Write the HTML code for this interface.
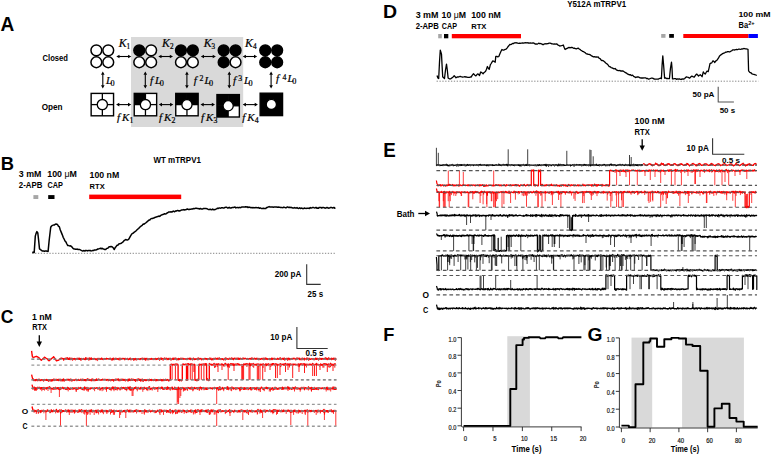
<!DOCTYPE html>
<html><head><meta charset="utf-8"><style>
html,body{margin:0;padding:0;background:#fff;width:771px;height:455px;overflow:hidden}
svg{display:block}
</style></head><body>
<svg width="771" height="455" viewBox="0 0 771 455">
<rect width="771" height="455" fill="#fff"/>
<rect x="131.00" y="37.00" width="112.20" height="90.00" fill="#d9d9d9"/>
<text x="0.52" y="31.40" font-family="Liberation Sans" font-size="19.57" font-weight="bold" fill="#000" textLength="13.80" lengthAdjust="spacingAndGlyphs">A</text>
<text x="42.60" y="60.70" font-family="Liberation Sans" font-size="8.97" font-weight="bold" fill="#000" textLength="25.39" lengthAdjust="spacingAndGlyphs">Closed</text>
<text x="41.67" y="109.80" font-family="Liberation Sans" font-size="8.86" font-weight="bold" fill="#000" textLength="20.92" lengthAdjust="spacingAndGlyphs">Open</text>
<circle cx="96.35" cy="50.35" r="5.4" fill="#fff" stroke="#000" stroke-width="1.5"/>
<circle cx="108.25" cy="50.35" r="5.4" fill="#fff" stroke="#000" stroke-width="1.5"/>
<circle cx="96.35" cy="62.25" r="5.4" fill="#fff" stroke="#000" stroke-width="1.5"/>
<circle cx="108.25" cy="62.25" r="5.4" fill="#fff" stroke="#000" stroke-width="1.5"/>
<circle cx="139.25" cy="50.35" r="5.4" fill="#000" stroke="#000" stroke-width="1.5"/>
<circle cx="151.15" cy="50.35" r="5.4" fill="#fff" stroke="#000" stroke-width="1.5"/>
<circle cx="139.25" cy="62.25" r="5.4" fill="#fff" stroke="#000" stroke-width="1.5"/>
<circle cx="151.15" cy="62.25" r="5.4" fill="#fff" stroke="#000" stroke-width="1.5"/>
<circle cx="180.95" cy="50.35" r="5.4" fill="#000" stroke="#000" stroke-width="1.5"/>
<circle cx="192.85" cy="50.35" r="5.4" fill="#000" stroke="#000" stroke-width="1.5"/>
<circle cx="180.95" cy="62.25" r="5.4" fill="#fff" stroke="#000" stroke-width="1.5"/>
<circle cx="192.85" cy="62.25" r="5.4" fill="#fff" stroke="#000" stroke-width="1.5"/>
<circle cx="223.65" cy="50.35" r="5.4" fill="#000" stroke="#000" stroke-width="1.5"/>
<circle cx="235.55" cy="50.35" r="5.4" fill="#000" stroke="#000" stroke-width="1.5"/>
<circle cx="223.65" cy="62.25" r="5.4" fill="#000" stroke="#000" stroke-width="1.5"/>
<circle cx="235.55" cy="62.25" r="5.4" fill="#fff" stroke="#000" stroke-width="1.5"/>
<circle cx="265.25" cy="50.35" r="5.4" fill="#000" stroke="#000" stroke-width="1.5"/>
<circle cx="277.15" cy="50.35" r="5.4" fill="#000" stroke="#000" stroke-width="1.5"/>
<circle cx="265.25" cy="62.25" r="5.4" fill="#000" stroke="#000" stroke-width="1.5"/>
<circle cx="277.15" cy="62.25" r="5.4" fill="#000" stroke="#000" stroke-width="1.5"/>
<line x1="118.86" y1="56.50" x2="128.74" y2="56.50" stroke="#000" stroke-width="1.1" />
<path d="M116.30,56.50 L119.50,54.70 L119.50,58.30Z M131.30,56.50 L128.10,54.70 L128.10,58.30Z" fill="#000"/>
<line x1="160.86" y1="56.50" x2="170.44" y2="56.50" stroke="#000" stroke-width="1.1" />
<path d="M158.30,56.50 L161.50,54.70 L161.50,58.30Z M173.00,56.50 L169.80,54.70 L169.80,58.30Z" fill="#000"/>
<line x1="203.36" y1="56.50" x2="213.34" y2="56.50" stroke="#000" stroke-width="1.1" />
<path d="M200.80,56.50 L204.00,54.70 L204.00,58.30Z M215.90,56.50 L212.70,54.70 L212.70,58.30Z" fill="#000"/>
<line x1="245.26" y1="56.50" x2="254.64" y2="56.50" stroke="#000" stroke-width="1.1" />
<path d="M242.70,56.50 L245.90,54.70 L245.90,58.30Z M257.20,56.50 L254.00,54.70 L254.00,58.30Z" fill="#000"/>
<text x="118.70" y="46.50" font-family="Liberation Serif" font-size="11.8" font-style="italic" fill="#000" stroke="#000" stroke-width="0.22">K</text>
<text x="126.60" y="48.80" font-family="Liberation Serif" font-size="7.2" font-style="normal" fill="#000" stroke="#000" stroke-width="0.22">1</text>
<text x="162.10" y="46.50" font-family="Liberation Serif" font-size="11.8" font-style="italic" fill="#000" stroke="#000" stroke-width="0.22">K</text>
<text x="170.00" y="48.80" font-family="Liberation Serif" font-size="7.2" font-style="normal" fill="#000" stroke="#000" stroke-width="0.22">2</text>
<text x="203.70" y="46.50" font-family="Liberation Serif" font-size="11.8" font-style="italic" fill="#000" stroke="#000" stroke-width="0.22">K</text>
<text x="211.60" y="48.80" font-family="Liberation Serif" font-size="7.2" font-style="normal" fill="#000" stroke="#000" stroke-width="0.22">3</text>
<text x="245.00" y="46.50" font-family="Liberation Serif" font-size="11.8" font-style="italic" fill="#000" stroke="#000" stroke-width="0.22">K</text>
<text x="252.90" y="48.80" font-family="Liberation Serif" font-size="7.2" font-style="normal" fill="#000" stroke="#000" stroke-width="0.22">4</text>
<line x1="102.80" y1="74.16" x2="102.80" y2="85.84" stroke="#000" stroke-width="1.1" />
<path d="M102.80,71.60 L101.00,74.80 L104.60,74.80Z M102.80,88.40 L101.00,85.20 L104.60,85.20Z" fill="#000"/>
<line x1="145.30" y1="74.16" x2="145.30" y2="85.84" stroke="#000" stroke-width="1.1" />
<path d="M145.30,71.60 L143.50,74.80 L147.10,74.80Z M145.30,88.40 L143.50,85.20 L147.10,85.20Z" fill="#000"/>
<line x1="186.90" y1="74.16" x2="186.90" y2="85.84" stroke="#000" stroke-width="1.1" />
<path d="M186.90,71.60 L185.10,74.80 L188.70,74.80Z M186.90,88.40 L185.10,85.20 L188.70,85.20Z" fill="#000"/>
<line x1="229.30" y1="74.16" x2="229.30" y2="85.84" stroke="#000" stroke-width="1.1" />
<path d="M229.30,71.60 L227.50,74.80 L231.10,74.80Z M229.30,88.40 L227.50,85.20 L231.10,85.20Z" fill="#000"/>
<line x1="271.10" y1="74.16" x2="271.10" y2="85.84" stroke="#000" stroke-width="1.1" />
<path d="M271.10,71.60 L269.30,74.80 L272.90,74.80Z M271.10,88.40 L269.30,85.20 L272.90,85.20Z" fill="#000"/>
<text x="105.90" y="83.60" font-family="Liberation Serif" font-size="11" font-style="italic" fill="#000" stroke="#000" stroke-width="0.22">L</text>
<text x="110.60" y="85.50" font-family="Liberation Serif" font-size="8.2" font-style="normal" fill="#000" stroke="#000" stroke-width="0.22">0</text>
<text x="150.10" y="83.60" font-family="Liberation Serif" font-size="11" font-style="italic" fill="#000" stroke="#000" stroke-width="0.22">f</text>
<text x="155.10" y="83.60" font-family="Liberation Serif" font-size="11" font-style="italic" fill="#000" stroke="#000" stroke-width="0.22">L</text>
<text x="159.80" y="85.50" font-family="Liberation Serif" font-size="8.2" font-style="normal" fill="#000" stroke="#000" stroke-width="0.22">0</text>
<text x="193.80" y="83.60" font-family="Liberation Serif" font-size="11" font-style="italic" fill="#000" stroke="#000" stroke-width="0.22">f</text>
<text x="199.50" y="81.10" font-family="Liberation Serif" font-size="7.8" font-style="normal" fill="#000" stroke="#000" stroke-width="0.22">2</text>
<text x="204.50" y="83.60" font-family="Liberation Serif" font-size="11" font-style="italic" fill="#000" stroke="#000" stroke-width="0.22">L</text>
<text x="209.10" y="85.50" font-family="Liberation Serif" font-size="8.2" font-style="normal" fill="#000" stroke="#000" stroke-width="0.22">0</text>
<text x="232.90" y="83.60" font-family="Liberation Serif" font-size="11" font-style="italic" fill="#000" stroke="#000" stroke-width="0.22">f</text>
<text x="238.20" y="81.10" font-family="Liberation Serif" font-size="7.8" font-style="normal" fill="#000" stroke="#000" stroke-width="0.22">3</text>
<text x="244.00" y="83.60" font-family="Liberation Serif" font-size="11" font-style="italic" fill="#000" stroke="#000" stroke-width="0.22">L</text>
<text x="248.60" y="85.50" font-family="Liberation Serif" font-size="8.2" font-style="normal" fill="#000" stroke="#000" stroke-width="0.22">0</text>
<text x="275.90" y="82.30" font-family="Liberation Serif" font-size="11" font-style="italic" fill="#000" stroke="#000" stroke-width="0.22">f</text>
<text x="282.60" y="79.60" font-family="Liberation Serif" font-size="7.8" font-style="normal" fill="#000" stroke="#000" stroke-width="0.22">4</text>
<text x="287.50" y="82.30" font-family="Liberation Serif" font-size="11" font-style="italic" fill="#000" stroke="#000" stroke-width="0.22">L</text>
<text x="292.20" y="84.20" font-family="Liberation Serif" font-size="8.2" font-style="normal" fill="#000" stroke="#000" stroke-width="0.22">0</text>
<rect x="91.15" y="93.40" width="22.40" height="22.40" fill="#fff" stroke="#000" stroke-width="1.4"/>
<line x1="91.15" y1="104.60" x2="113.55" y2="104.60" stroke="#000" stroke-width="1.3" />
<line x1="102.35" y1="93.40" x2="102.35" y2="115.80" stroke="#000" stroke-width="1.3" />
<circle cx="102.35" cy="104.60" r="5.1" fill="#fff" stroke="#000" stroke-width="1.3"/>
<rect x="134.25" y="93.40" width="22.40" height="22.40" fill="#fff" stroke="#000" stroke-width="1.4"/>
<rect x="134.25" y="93.40" width="11.20" height="11.20" fill="#000"/>
<line x1="134.25" y1="104.60" x2="156.65" y2="104.60" stroke="#000" stroke-width="1.3" />
<line x1="145.45" y1="93.40" x2="145.45" y2="115.80" stroke="#000" stroke-width="1.3" />
<circle cx="145.45" cy="104.60" r="5.1" fill="#fff" stroke="#000" stroke-width="1.3"/>
<rect x="175.75" y="93.40" width="22.40" height="22.40" fill="#fff" stroke="#000" stroke-width="1.4"/>
<rect x="175.75" y="93.40" width="11.20" height="11.20" fill="#000"/>
<rect x="186.95" y="93.40" width="11.20" height="11.20" fill="#000"/>
<line x1="175.75" y1="104.60" x2="198.15" y2="104.60" stroke="#000" stroke-width="1.3" />
<line x1="186.95" y1="93.40" x2="186.95" y2="115.80" stroke="#000" stroke-width="1.3" />
<circle cx="186.95" cy="104.60" r="5.1" fill="#fff" stroke="#000" stroke-width="1.3"/>
<rect x="216.95" y="94.60" width="22.40" height="22.40" fill="#fff" stroke="#000" stroke-width="1.4"/>
<rect x="216.95" y="94.60" width="11.20" height="11.20" fill="#000"/>
<rect x="228.15" y="94.60" width="11.20" height="11.20" fill="#000"/>
<rect x="216.95" y="105.80" width="11.20" height="11.20" fill="#000"/>
<line x1="216.95" y1="105.80" x2="239.35" y2="105.80" stroke="#000" stroke-width="1.3" />
<line x1="228.15" y1="94.60" x2="228.15" y2="117.00" stroke="#000" stroke-width="1.3" />
<circle cx="228.15" cy="105.80" r="5.1" fill="#fff" stroke="#000" stroke-width="1.3"/>
<rect x="260.15" y="93.20" width="22.40" height="22.40" fill="#fff" stroke="#000" stroke-width="1.4"/>
<rect x="260.15" y="93.20" width="22.40" height="22.40" fill="#000"/>
<circle cx="271.35" cy="104.40" r="5.1" fill="#fff" stroke="#000" stroke-width="1.3"/>
<line x1="118.66" y1="104.60" x2="128.64" y2="104.60" stroke="#000" stroke-width="1.1" />
<path d="M116.10,104.60 L119.30,102.80 L119.30,106.40Z M131.20,104.60 L128.00,102.80 L128.00,106.40Z" fill="#000"/>
<line x1="161.36" y1="104.60" x2="170.74" y2="104.60" stroke="#000" stroke-width="1.1" />
<path d="M158.80,104.60 L162.00,102.80 L162.00,106.40Z M173.30,104.60 L170.10,102.80 L170.10,106.40Z" fill="#000"/>
<line x1="203.06" y1="104.60" x2="212.44" y2="104.60" stroke="#000" stroke-width="1.1" />
<path d="M200.50,104.60 L203.70,102.80 L203.70,106.40Z M215.00,104.60 L211.80,102.80 L211.80,106.40Z" fill="#000"/>
<line x1="245.26" y1="104.60" x2="255.34" y2="104.60" stroke="#000" stroke-width="1.1" />
<path d="M242.70,104.60 L245.90,102.80 L245.90,106.40Z M257.90,104.60 L254.70,102.80 L254.70,106.40Z" fill="#000"/>
<text x="116.90" y="120.60" font-family="Liberation Serif" font-size="11" font-style="italic" fill="#000" stroke="#000" stroke-width="0.22">f</text>
<text x="121.90" y="120.60" font-family="Liberation Serif" font-size="11" font-style="italic" fill="#000" stroke="#000" stroke-width="0.22">K</text>
<text x="129.40" y="122.80" font-family="Liberation Serif" font-size="7.8" font-style="normal" fill="#000" stroke="#000" stroke-width="0.22">1</text>
<text x="158.90" y="120.60" font-family="Liberation Serif" font-size="11" font-style="italic" fill="#000" stroke="#000" stroke-width="0.22">f</text>
<text x="163.90" y="120.60" font-family="Liberation Serif" font-size="11" font-style="italic" fill="#000" stroke="#000" stroke-width="0.22">K</text>
<text x="171.40" y="122.80" font-family="Liberation Serif" font-size="7.8" font-style="normal" fill="#000" stroke="#000" stroke-width="0.22">2</text>
<text x="201.10" y="120.60" font-family="Liberation Serif" font-size="11" font-style="italic" fill="#000" stroke="#000" stroke-width="0.22">f</text>
<text x="206.10" y="120.60" font-family="Liberation Serif" font-size="11" font-style="italic" fill="#000" stroke="#000" stroke-width="0.22">K</text>
<text x="213.60" y="122.80" font-family="Liberation Serif" font-size="7.8" font-style="normal" fill="#000" stroke="#000" stroke-width="0.22">3</text>
<text x="242.20" y="120.60" font-family="Liberation Serif" font-size="11" font-style="italic" fill="#000" stroke="#000" stroke-width="0.22">f</text>
<text x="247.20" y="120.60" font-family="Liberation Serif" font-size="11" font-style="italic" fill="#000" stroke="#000" stroke-width="0.22">K</text>
<text x="254.70" y="122.80" font-family="Liberation Serif" font-size="7.8" font-style="normal" fill="#000" stroke="#000" stroke-width="0.22">4</text>
<text x="0.81" y="170.10" font-family="Liberation Sans" font-size="19.13" font-weight="bold" fill="#000" textLength="13.26" lengthAdjust="spacingAndGlyphs">B</text>
<text x="153.50" y="162.70" font-family="Liberation Sans" font-size="9.13" font-weight="bold" fill="#000" textLength="47.40" lengthAdjust="spacingAndGlyphs">WT mTRPV1</text>
<text x="18.88" y="177.30" font-family="Liberation Sans" font-size="8.43" font-weight="bold" fill="#000" textLength="22.61" lengthAdjust="spacingAndGlyphs">3 mM</text>
<text x="18.83" y="188.30" font-family="Liberation Sans" font-size="8.57" font-weight="bold" fill="#000" textLength="23.53" lengthAdjust="spacingAndGlyphs">2-APB</text>
<text x="47.28" y="177.30" font-family="Liberation Sans" font-size="8.43" font-weight="bold" fill="#000" textLength="29.60" lengthAdjust="spacingAndGlyphs">100 <tspan font-weight="normal">μ</tspan>M</text>
<text x="47.51" y="188.30" font-family="Liberation Sans" font-size="8.57" font-weight="bold" fill="#000" textLength="15.42" lengthAdjust="spacingAndGlyphs">CAP</text>
<text x="89.58" y="178.20" font-family="Liberation Sans" font-size="8.57" font-weight="bold" fill="#000" textLength="29.64" lengthAdjust="spacingAndGlyphs">100 nM</text>
<text x="89.61" y="189.00" font-family="Liberation Sans" font-size="7.83" font-weight="bold" fill="#000" textLength="15.07" lengthAdjust="spacingAndGlyphs">RTX</text>
<rect x="33.40" y="195.10" width="4.90" height="3.90" fill="#a6a6a6"/>
<rect x="48.20" y="195.10" width="6.30" height="3.90" fill="#000"/>
<rect x="89.20" y="194.60" width="92.00" height="4.50" fill="#ff0000"/>
<line x1="32.20" y1="253.30" x2="335.50" y2="253.30" stroke="#777" stroke-width="0.9" stroke-dasharray="1.3 1.57"/>
<path d="M32.2,252.5L33.2,252.3L34.2,252.5L35.3,236.1L36.1,233.4L36.9,231.6L37.8,233.0L38.6,240.0L39.5,248.8L40.5,249.6L41.5,250.3L42.5,251.1L43.5,251.0L44.4,251.3L45.3,251.0L46.3,251.0L47.2,251.3L48.1,251.4L49.2,240.0L50.7,227.3L51.6,226.0L52.4,225.4L53.3,225.1L54.2,225.1L55.1,224.4L56.0,224.0L57.5,224.5L58.4,226.2L59.3,226.6L60.3,230.0L61.2,232.1L62.2,234.6L63.2,237.3L64.1,239.0L65.0,241.0L66.0,242.1L66.9,244.0L67.8,245.6L68.7,245.6L69.6,245.9L70.5,245.7L71.3,246.4L72.2,247.3L73.0,248.4L73.8,248.9L74.7,248.9L75.5,249.2L76.4,249.2L77.3,249.1L78.1,249.6L79.0,249.6L79.8,249.5L80.7,250.1L81.5,250.4L82.3,251.0L83.2,250.9L84.0,250.5L84.9,251.1L85.7,250.4L86.6,250.6L87.5,250.9L88.3,250.4L89.2,250.7L90.0,250.3L90.9,250.9L91.8,250.8L92.7,250.5L93.6,250.6L94.4,249.9L95.3,250.1L96.2,249.9L97.0,249.5L97.8,249.0L98.7,248.9L99.5,248.6L100.4,248.3L101.3,248.7L102.2,248.3L103.0,249.0L103.9,249.1L104.8,249.6L105.7,249.6L106.6,248.6L107.4,248.2L108.3,247.9L109.1,246.8L110.0,246.7L111.0,246.6L112.1,246.8L113.2,247.8L114.3,249.5L115.2,247.6L116.2,246.4L117.1,245.2L118.0,245.2L118.8,244.0L119.7,243.8L120.5,243.4L121.4,243.2L122.3,242.5L123.1,241.9L124.0,240.7L124.8,240.2L125.7,239.5L126.7,239.9L127.6,240.0L128.6,239.3L129.5,237.8L130.3,236.4L131.2,234.9L132.1,233.6L133.1,233.2L134.0,232.4L135.0,231.7L135.9,231.0L136.8,230.0L137.7,229.2L138.6,228.5L139.5,227.5L140.5,226.5L141.4,225.8L142.2,225.3L143.1,224.1L143.9,224.3L144.7,223.6L145.6,223.0L146.4,222.4L147.3,221.4L148.1,220.9L149.0,220.1L149.8,220.0L150.7,218.9L151.5,218.6L152.3,218.5L153.1,218.2L153.9,218.1L154.7,217.5L155.5,217.2L156.3,217.1L157.1,216.7L157.9,216.6L158.8,216.0L159.6,216.4L160.4,215.8L161.2,215.1L162.1,214.8L162.9,214.6L163.7,214.2L164.5,213.7L165.3,214.0L166.2,213.8L167.0,213.0L167.8,212.7L168.6,212.0L169.4,211.9L170.2,212.0L171.0,211.8L171.9,212.1L172.7,211.4L173.5,211.1L174.3,211.8L175.1,211.3L175.9,210.8L176.7,211.0L177.6,210.4L178.4,210.7L179.2,211.0L180.0,210.7L180.8,210.5L181.7,209.9L182.5,209.9L183.3,209.6L184.2,210.0L185.0,209.7L185.8,209.8L186.7,209.2L187.5,209.0L188.3,209.4L189.2,209.5L190.0,209.2L190.8,209.2L191.6,209.1L192.4,209.0L193.2,208.6L194.0,208.8L194.8,208.6L195.6,208.3L196.4,208.3L197.2,208.5L198.0,208.4L198.8,208.8L199.6,209.0L200.4,208.5L201.2,208.9L202.0,209.0L202.8,208.9L203.6,208.5L204.4,208.4L205.3,208.5L206.1,208.6L206.9,208.7L207.7,209.1L208.6,209.5L209.4,209.5L210.2,209.2L211.0,209.5L211.9,209.7L212.7,209.1L213.5,209.7L214.3,209.7L215.1,209.4L215.9,209.2L216.8,208.7L217.6,208.2L218.4,208.5L219.2,207.9L220.0,208.1L220.8,208.2L221.7,207.7L222.5,207.7L223.3,208.1L224.2,207.9L225.0,207.4L225.8,207.3L226.7,207.3L227.5,208.0L228.3,207.9L229.2,207.3L230.0,207.9L230.9,208.0L231.7,207.7L232.5,207.4L233.4,207.6L234.2,207.2L235.0,207.0L235.9,207.9L236.7,207.6L237.5,207.5L238.4,207.8L239.2,207.3L240.0,207.7L240.8,207.6L241.6,207.0L242.4,207.0L243.2,207.0L244.0,206.9L244.8,207.1L245.6,206.8L246.4,207.0L247.2,206.8L248.0,207.6L248.8,207.1L249.6,207.3L250.4,207.5L251.2,207.8L252.0,207.4L252.8,207.9L253.6,207.6L254.4,207.7L255.2,207.8L256.1,207.4L256.9,207.8L257.7,207.7L258.5,207.6L259.3,208.3L260.1,207.8L260.9,208.2L261.7,208.5L262.5,208.4L263.3,208.2L264.1,208.5L264.9,208.5L265.8,208.4L266.6,207.5L267.5,207.5L268.3,206.9L269.2,206.6L270.0,207.1L270.8,206.9L271.6,206.9L272.5,207.1L273.3,207.3L274.1,206.9L274.9,207.1L275.7,207.0L276.5,207.1L277.3,207.3L278.2,207.1L279.0,207.2L279.8,207.2L280.6,207.6L281.4,207.4L282.2,207.6L283.0,207.7L283.9,207.1L284.7,207.4L285.5,207.8L286.3,207.7L287.1,207.1L287.9,207.1L288.8,207.5L289.6,207.2L290.4,207.4L291.2,207.3L292.1,207.8L292.9,208.0L293.7,208.1L294.5,207.5L295.4,208.1L296.2,208.1L297.0,207.6L297.8,208.3L298.6,208.5L299.5,207.8L300.3,208.5L301.1,208.1L301.9,208.2L302.8,208.7L303.6,208.6L304.4,208.0L305.2,208.3L306.1,208.4L306.9,208.3L307.7,208.2L308.6,208.2L309.4,208.4L310.3,207.6L311.1,208.0L312.0,207.7L312.8,207.4L313.6,207.6L314.4,207.9L315.2,207.8L316.1,207.4L316.9,208.2L317.7,208.1L318.5,208.2L319.3,207.4L320.1,207.6L320.9,207.4L321.7,208.1L322.5,207.6L323.3,207.5L324.2,207.7L325.0,208.2L325.8,208.1L326.6,207.6L327.4,207.5L328.2,208.2L329.0,207.9L329.8,208.0L330.6,207.4L331.4,207.4L332.3,208.0L333.1,207.7L333.9,207.4L334.7,208.2L335.5,207.8" fill="none" stroke="#000" stroke-width="1.5" stroke-linejoin="round" stroke-linecap="butt" />
<path d="M306.7,264.3L306.7,284.4L320.7,284.4" fill="none" stroke="#333" stroke-width="1.1" stroke-linejoin="round" stroke-linecap="butt" />
<text x="274.72" y="276.80" font-family="Liberation Sans" font-size="8.86" font-weight="bold" fill="#000" textLength="26.52" lengthAdjust="spacingAndGlyphs">200 pA</text>
<text x="307.62" y="296.50" font-family="Liberation Sans" font-size="8.14" font-weight="bold" fill="#000" textLength="15.51" lengthAdjust="spacingAndGlyphs">25 s</text>
<text x="382.93" y="17.90" font-family="Liberation Sans" font-size="19.28" font-weight="bold" fill="#000" textLength="14.09" lengthAdjust="spacingAndGlyphs">D</text>
<text x="567.14" y="7.20" font-family="Liberation Sans" font-size="8.86" font-weight="bold" fill="#000" textLength="59.07" lengthAdjust="spacingAndGlyphs">Y512A mTRPV1</text>
<text x="415.68" y="18.20" font-family="Liberation Sans" font-size="8.43" font-weight="bold" fill="#000" textLength="22.81" lengthAdjust="spacingAndGlyphs">3 mM</text>
<text x="415.63" y="29.20" font-family="Liberation Sans" font-size="8.43" font-weight="bold" fill="#000" textLength="23.12" lengthAdjust="spacingAndGlyphs">2-APB</text>
<text x="441.58" y="18.20" font-family="Liberation Sans" font-size="8.43" font-weight="bold" fill="#000" textLength="24.42" lengthAdjust="spacingAndGlyphs">10 <tspan font-weight="normal">μ</tspan>M</text>
<text x="441.81" y="29.20" font-family="Liberation Sans" font-size="8.43" font-weight="bold" fill="#000" textLength="15.11" lengthAdjust="spacingAndGlyphs">CAP</text>
<text x="471.17" y="17.80" font-family="Liberation Sans" font-size="8.43" font-weight="bold" fill="#000" textLength="29.74" lengthAdjust="spacingAndGlyphs">100 nM</text>
<text x="471.20" y="28.80" font-family="Liberation Sans" font-size="7.97" font-weight="bold" fill="#000" textLength="15.27" lengthAdjust="spacingAndGlyphs">RTX</text>
<text x="738.48" y="16.80" font-family="Liberation Sans" font-size="8.00" font-weight="bold" fill="#000" textLength="32.02" lengthAdjust="spacingAndGlyphs">100 mM</text>
<text x="738.52" y="27.90" font-family="Liberation Sans" font-size="8.41" font-weight="bold" fill="#000" textLength="9.54" lengthAdjust="spacingAndGlyphs">Ba</text>
<text x="748.20" y="24.50" font-family="Liberation Sans" font-size="5.29" font-weight="bold" fill="#000" textLength="6.53" lengthAdjust="spacingAndGlyphs">2+</text>
<rect x="438.20" y="34.00" width="3.60" height="4.30" fill="#a6a6a6"/>
<rect x="444.00" y="34.00" width="4.30" height="4.30" fill="#000"/>
<rect x="451.80" y="34.00" width="69.20" height="4.30" fill="#ff0000"/>
<rect x="661.20" y="34.00" width="4.30" height="3.80" fill="#a6a6a6"/>
<rect x="669.20" y="34.00" width="4.70" height="3.80" fill="#000"/>
<rect x="683.30" y="34.00" width="65.20" height="4.00" fill="#ff0000"/>
<rect x="748.50" y="34.00" width="9.40" height="4.00" fill="#0000ff"/>
<line x1="436.60" y1="81.20" x2="758.30" y2="81.20" stroke="#777" stroke-width="0.9" stroke-dasharray="1.3 1.57"/>
<path d="M437.0,75.5L437.9,77.9L438.7,78.5L439.5,62.0L440.3,50.1L441.5,54.3L442.1,66.0L442.7,76.8L443.6,77.8L444.5,78.5L445.5,70.0L446.5,64.2L447.3,70.0L448.1,77.9L449.3,78.8L450.5,78.9L451.7,77.9L452.5,77.7L453.4,76.6L454.2,75.7L455.1,76.7L456.0,77.8L456.8,77.2L457.7,76.9L458.5,77.0L459.4,76.7L460.2,76.4L461.0,76.7L461.8,76.8L462.6,77.1L463.8,76.9L465.0,76.6L465.9,77.1L466.8,77.0L467.7,77.3L468.6,77.3L469.4,77.3L470.3,77.0L471.1,77.1L472.3,75.1L473.5,73.8L474.7,74.9L475.9,75.9L476.8,74.8L477.7,73.9L478.6,74.3L479.5,75.5L480.7,72.0L481.5,72.4L482.3,73.0L483.1,73.8L483.9,72.7L484.8,72.0L485.6,71.3L486.5,69.2L487.4,66.5L488.3,68.2L489.2,69.4L490.4,64.7L491.2,63.5L492.0,62.1L492.8,60.9L494.0,61.3L495.2,62.2L495.8,56.4L496.8,56.4L497.8,56.9L498.8,56.5L499.8,54.0L500.9,51.5L501.9,49.5L502.8,50.0L503.7,50.2L504.5,49.7L505.3,49.4L506.1,49.2L507.0,48.1L507.9,46.8L508.8,45.8L509.7,44.5L510.5,44.7L511.3,44.4L512.1,43.8L512.9,43.3L513.7,43.5L514.5,42.8L515.3,42.9L516.1,42.7L516.9,43.0L517.8,43.2L518.6,43.3L519.4,43.1L520.2,43.4L521.0,43.2L521.9,43.2L522.7,43.0L523.6,43.2L524.5,42.8L525.4,42.7L526.2,42.8L527.1,42.7L528.0,43.0L528.8,42.9L529.7,43.1L530.5,43.0L531.4,43.1L532.2,43.2L533.1,42.8L534.1,43.2L535.1,44.0L536.1,43.9L537.0,44.1L537.8,43.8L538.7,43.2L539.5,43.6L540.4,43.5L541.6,43.9L542.8,44.6L543.6,44.5L544.4,43.8L545.2,43.9L546.0,43.7L546.8,43.8L547.6,43.6L548.4,43.5L549.2,43.1L550.0,43.2L550.9,43.4L551.8,43.8L552.7,43.8L553.6,44.1L554.6,44.0L555.7,44.1L556.7,43.8L557.7,44.9L558.7,45.3L559.7,46.0L560.6,45.8L561.5,45.7L562.4,45.4L563.3,45.0L564.2,47.5L565.1,49.5L566.1,48.8L567.1,48.3L568.1,47.8L569.0,47.4L570.0,47.9L570.9,47.5L571.8,47.4L572.7,47.7L573.6,48.3L574.5,48.1L575.4,48.7L576.4,48.8L577.4,48.4L578.4,48.2L579.2,48.9L580.1,49.6L580.9,50.3L581.8,50.8L582.6,51.4L583.5,51.6L584.5,52.3L585.4,52.9L586.3,53.9L587.2,53.9L588.1,54.3L589.0,54.3L589.9,54.6L590.8,55.2L591.7,55.9L592.6,56.4L593.5,56.8L594.5,56.7L595.4,57.0L596.4,57.0L597.3,57.2L598.3,57.0L599.2,58.4L600.1,58.6L601.1,60.0L602.0,60.7L602.9,60.5L603.9,61.3L604.8,62.0L605.7,63.0L606.5,63.5L607.4,64.3L608.2,65.1L609.1,66.5L610.1,66.7L611.1,67.6L612.1,67.9L613.1,68.4L614.1,68.9L615.1,68.5L616.3,69.8L617.5,70.3L618.3,70.7L619.2,70.7L620.0,70.5L620.9,71.1L621.7,71.0L622.5,70.9L623.4,71.2L624.2,71.8L625.1,72.4L626.0,72.9L626.9,73.4L627.8,74.2L628.6,74.4L629.4,74.9L630.2,74.6L631.0,75.3L631.8,75.5L632.6,75.2L633.6,76.4L634.6,76.8L635.6,77.6L636.8,77.0L638.0,76.9L639.0,77.2L640.1,77.9L641.1,78.0L642.1,77.9L643.0,78.0L644.0,77.9L644.9,77.8L645.9,77.9L646.8,78.7L647.7,78.5L648.6,79.2L649.5,78.9L650.4,78.5L651.3,78.2L652.2,78.1L653.1,78.4L654.0,79.0L655.0,79.1L655.9,79.2L656.8,79.2L657.7,79.2L658.6,79.0L659.5,78.5L660.4,78.2L661.4,78.7L662.1,65.0L662.8,55.8L663.6,65.0L664.6,78.1L665.5,77.8L666.4,78.5L667.3,78.5L668.2,78.7L669.4,78.7L670.5,68.0L671.5,62.2L672.0,68.0L672.5,78.9L673.5,78.9L674.4,78.7L675.4,78.6L676.3,79.3L677.3,78.8L678.1,79.1L678.9,79.0L679.8,79.0L680.6,79.3L681.4,79.4L682.2,78.9L683.1,79.2L683.9,79.0L684.7,78.4L685.6,77.6L686.4,76.8L687.4,77.1L688.5,77.4L689.5,78.2L690.7,77.1L691.9,76.1L693.1,76.8L694.3,77.0L695.1,75.9L695.9,74.8L696.7,74.1L697.6,74.9L698.5,76.0L699.4,75.2L700.3,74.7L701.2,75.6L702.1,76.7L703.3,71.8L704.2,73.1L705.2,74.1L706.1,72.5L707.0,71.2L708.2,71.7L709.1,67.8L710.0,63.6L710.9,63.1L711.8,62.8L713.0,60.7L713.9,61.4L714.8,62.5L715.6,61.1L716.4,60.6L717.2,59.9L718.4,58.2L719.6,55.9L720.6,55.1L721.7,54.3L722.7,53.6L723.7,53.1L724.7,52.8L725.7,52.1L726.6,52.2L727.5,51.6L728.4,51.6L729.3,52.0L730.2,51.7L731.1,51.0L732.0,50.6L732.9,49.8L733.8,49.8L734.8,50.0L735.7,49.7L736.6,49.5L737.5,49.7L738.4,49.2L739.3,49.2L740.2,49.3L741.1,49.2L742.0,49.0L742.9,48.9L743.8,48.5L744.6,48.6L745.5,48.9L746.3,48.9L747.2,49.1L748.0,49.3L748.6,70.9L749.8,72.3L751.0,72.8L751.9,73.8L752.9,74.1L753.8,74.3L754.7,74.6L755.8,75.0L756.8,75.5" fill="none" stroke="#000" stroke-width="1.3" stroke-linejoin="round" stroke-linecap="butt" />
<path d="M718.2,86.7L718.2,102.0L733.9,102.0" fill="none" stroke="#555" stroke-width="1.1" stroke-linejoin="round" stroke-linecap="butt" />
<text x="692.46" y="96.80" font-family="Liberation Sans" font-size="8.00" font-weight="bold" fill="#000" textLength="21.97" lengthAdjust="spacingAndGlyphs">50 pA</text>
<text x="719.66" y="112.70" font-family="Liberation Sans" font-size="7.86" font-weight="bold" fill="#000" textLength="15.47" lengthAdjust="spacingAndGlyphs">50 s</text>
<text x="0.80" y="322.50" font-family="Liberation Sans" font-size="18.14" font-weight="bold" fill="#000" textLength="12.68" lengthAdjust="spacingAndGlyphs">C</text>
<text x="31.98" y="319.50" font-family="Liberation Sans" font-size="8.84" font-weight="bold" fill="#000" textLength="19.81" lengthAdjust="spacingAndGlyphs">1 nM</text>
<text x="32.22" y="330.00" font-family="Liberation Sans" font-size="8.41" font-weight="bold" fill="#000" textLength="14.75" lengthAdjust="spacingAndGlyphs">RTX</text>
<line x1="39.30" y1="335.20" x2="39.30" y2="343.00" stroke="#000" stroke-width="1.3" />
<path d="M36.6,341.5 L42,341.5 L39.3,346.9Z" fill="#000"/>
<text x="270.32" y="340.00" font-family="Liberation Sans" font-size="8.29" font-weight="bold" fill="#000" textLength="21.91" lengthAdjust="spacingAndGlyphs">10 pA</text>
<text x="305.48" y="356.20" font-family="Liberation Sans" font-size="8.14" font-weight="bold" fill="#000" textLength="17.94" lengthAdjust="spacingAndGlyphs">0.5 s</text>
<path d="M296.9,326.9L296.9,348.5L327.7,348.5" fill="none" stroke="#333" stroke-width="1.1" stroke-linejoin="round" stroke-linecap="butt" />
<text x="21.77" y="414.20" font-family="Liberation Sans" font-size="8.00" font-weight="bold" fill="#000" textLength="6.49" lengthAdjust="spacingAndGlyphs">O</text>
<text x="22.42" y="428.60" font-family="Liberation Sans" font-size="8.43" font-weight="bold" fill="#000" textLength="5.07" lengthAdjust="spacingAndGlyphs">C</text>
<path d="M31.6,350.8L32.1,355.0L32.5,357.0L33.1,357.1L33.8,357.3L34.3,357.2L34.8,356.8L35.4,356.6L35.9,356.5L36.4,356.3L37.0,356.6L37.5,356.9L38.1,357.3L38.7,357.5L39.2,358.1L39.7,358.6L40.3,359.3L40.8,359.7L41.3,360.3L41.8,359.7L42.4,359.2L42.9,358.7L43.4,358.4L44.0,357.8L44.5,357.2L45.1,357.5L45.6,357.9L46.2,358.3L46.8,358.6L47.4,359.1L48.0,359.8L48.5,360.5L49.1,360.8L49.6,360.3L50.1,359.9L50.6,359.5L51.1,359.1L51.6,358.5L52.1,358.2L52.6,357.7L53.1,357.2L53.6,356.6L54.2,357.7L54.8,358.3L55.3,359.3L55.9,360.0L56.5,360.8L57.0,360.8L57.5,360.4L58.1,360.4L58.6,360.1L59.1,359.8L59.6,359.3L60.1,358.9L60.6,358.5L61.1,358.1L61.6,358.2L62.2,358.5L62.8,358.7L63.3,359.1L63.3,358.7L63.6,360.0L63.9,358.6L64.2,358.7L64.5,358.8L64.8,358.5L65.1,358.9L65.4,358.9L65.7,358.9L66.0,357.9L66.3,358.2L66.6,358.1L66.9,359.2L67.2,358.9L67.5,357.8L67.8,359.1L68.1,359.3L68.4,358.8L68.7,358.9L69.0,359.4L69.3,357.9L69.6,358.9L69.9,359.2L70.2,359.6L70.5,358.8L70.8,358.1L71.1,359.0L71.4,358.3L71.7,358.7L72.0,359.2L72.3,358.4L72.6,359.5L72.9,359.2L73.2,359.0L73.5,358.9L73.8,358.6L74.1,359.0L74.4,358.9L74.7,358.5L75.0,358.8L75.3,359.8L75.6,358.8L75.9,359.3L76.2,358.9L76.5,359.1L76.8,359.0L77.1,358.2L77.4,358.9L77.7,358.6L78.0,359.0L78.3,358.4L78.6,359.2L78.9,358.6L79.2,358.2L79.5,359.3L79.8,358.4L80.1,359.5L80.4,359.5L80.7,358.7L81.0,359.5L81.3,358.4L81.6,359.4L81.9,359.0L82.2,359.2L82.5,358.9L82.8,359.2L83.1,359.3L83.4,358.5L83.7,358.7L84.0,359.3L84.3,359.4L84.6,358.9L84.9,359.0L85.2,359.7L85.5,358.1L85.8,357.8L86.1,359.3L86.4,359.2L86.7,359.3L87.0,358.1L87.3,359.0L87.6,358.8L87.9,358.8L88.2,359.1L88.5,359.3L88.8,360.0L89.1,358.0L89.4,358.4L89.7,358.3L90.0,359.5L90.3,358.6L90.6,359.0L90.9,359.1L91.2,357.8L91.5,359.4L91.8,359.3L92.1,358.7L92.4,358.7L92.7,358.7L93.0,359.1L93.3,359.0L93.6,359.2L93.9,358.4L94.2,358.5L94.5,358.9L94.8,359.0L95.1,358.6L95.4,359.5L95.7,359.1L96.0,359.3L96.3,359.1L96.6,359.7L96.9,358.7L97.2,358.9L97.5,359.3L97.8,359.2L98.1,358.3L98.4,358.7L98.7,359.1L99.0,359.0L99.3,358.7L99.6,358.5L99.9,358.8L100.2,359.3L100.5,359.3L100.8,358.8L101.1,358.5L101.4,358.7L101.7,358.1L102.0,359.4L102.3,359.3L102.6,358.9L102.9,359.1L103.2,359.6L103.5,358.9L103.8,358.9L104.1,359.3L104.4,358.6L104.7,359.1L105.0,358.5L105.3,359.3L105.6,358.6L105.9,358.9L106.2,359.0L106.5,358.3L106.8,358.7L107.1,359.1L107.4,358.8L107.7,358.6L108.0,358.6L108.3,358.6L108.6,358.9L108.9,358.8L109.2,359.4L109.5,359.1L109.8,358.8L110.1,358.1L110.4,358.9L110.7,359.2L111.0,358.8L111.3,359.7L111.6,359.7L111.9,359.4L112.2,358.8L112.5,359.9L112.8,359.2L113.1,358.2L113.4,359.5L113.7,358.3L114.0,358.3L114.3,359.3L114.6,359.6L114.9,359.0L115.2,359.4L115.5,359.4L115.8,358.2L116.1,359.0L116.4,359.2L116.7,358.5L117.0,359.2L117.3,358.7L117.6,359.1L117.9,358.9L118.2,359.6L118.5,359.0L118.8,358.8L119.1,358.2L119.4,358.6L119.7,359.7L120.0,359.1L120.3,359.3L120.6,359.3L120.9,358.3L121.2,358.7L121.5,358.7L121.8,359.3L122.1,358.5L122.4,358.7L122.7,358.6L123.0,358.5L123.3,358.8L123.6,358.9L123.9,358.5L124.2,358.5L124.5,359.0L124.8,359.7L125.1,359.0L125.4,358.4L125.7,359.1L126.0,359.4L126.3,359.1L126.6,359.0L126.9,358.7L127.2,359.0L127.5,358.4L127.8,359.1L128.1,359.5L128.4,359.1L128.7,359.5L129.0,359.3L129.3,359.0L129.6,358.4L129.9,359.4L130.2,359.1L130.5,358.1L130.8,359.7L131.1,359.5L131.4,359.6L131.7,359.6L132.0,358.9L132.3,359.0L132.6,358.6L132.9,359.4L133.2,358.8L133.5,359.9L133.8,358.6L134.1,359.3L134.4,359.6L134.7,359.1L135.0,358.8L135.3,358.5L135.6,359.5L135.9,359.4L136.2,359.7L136.5,358.8L136.8,359.7L137.1,359.2L137.4,359.3L137.7,359.2L138.0,358.8L138.3,358.9L138.6,359.4L138.9,358.8L139.2,359.0L139.5,359.0L139.8,359.1L140.1,359.5L140.4,358.6L140.7,359.1L141.0,358.7L141.3,358.9L141.6,358.7L141.9,358.3L142.2,358.8L142.5,358.3L142.8,359.6L143.1,358.3L143.4,358.7L143.7,359.1L144.0,358.8L144.3,359.5L144.6,358.9L144.9,358.3L145.2,359.4L145.5,358.8L145.8,360.2L146.1,358.5L146.4,358.7L146.7,358.9L147.0,358.4L147.3,359.2L147.6,359.6L147.9,359.7L148.2,359.1L148.5,358.9L148.8,359.5L149.1,359.5L149.4,358.8L149.7,358.7L150.0,358.6L150.3,359.0L150.6,358.9L150.9,359.3L151.2,359.4L151.5,358.4L151.8,359.1L152.1,359.1L152.4,358.8L152.7,359.0L153.0,359.5L153.3,358.9L153.6,358.9L153.9,358.8L154.2,359.1L154.5,358.7L154.8,359.2L155.1,358.4L155.4,358.6L155.7,359.1L156.0,359.5L156.3,358.7L156.6,358.9L156.9,359.2L157.2,358.8L157.5,359.0L157.8,359.1L158.1,358.3L158.4,358.2L158.7,359.0L159.0,358.5L159.3,358.9L159.6,359.0L159.9,358.5L160.2,358.4L160.5,358.5L160.8,359.4L161.1,357.9L161.4,359.3L161.7,358.9L162.0,358.6L162.3,359.0L162.6,358.8L162.9,358.4L163.2,358.8L163.5,358.9L163.8,359.1L164.1,358.9L164.4,358.8L164.7,357.9L165.0,358.6L165.3,359.1L165.6,359.1L165.9,358.5L166.2,358.6L166.5,358.4L166.8,358.3L167.1,359.1L167.4,359.2L167.7,358.9L168.0,359.0L168.3,359.5L168.6,358.4L168.9,358.9L169.2,358.9L169.5,359.3L169.8,358.3L170.1,358.2L170.4,359.1L170.7,358.6L171.0,359.0L171.3,359.2L171.6,359.1L171.9,359.3L172.2,359.0L172.5,358.9L172.8,358.2L173.1,359.3L173.4,358.3L173.7,358.8L174.0,359.5L174.3,358.2L174.6,359.2L174.9,358.6L175.2,358.8L175.5,358.2L175.8,358.0L176.1,359.1L176.4,359.8L176.7,359.2L177.0,358.9L177.3,359.0L177.6,359.6L177.9,359.6L178.2,358.6L178.5,358.5L178.8,359.7L179.1,358.7L179.4,359.2L179.7,359.4L180.0,358.6L180.3,358.7L180.6,358.3L180.9,359.4L181.2,358.8L181.5,359.3L181.8,358.3L182.1,359.2L182.4,358.5L182.7,358.8L183.0,358.3L183.3,358.8L183.6,359.2L183.9,358.8L184.2,358.8L184.5,359.1L184.8,358.8L185.1,359.1L185.4,358.9L185.7,359.3L186.0,358.7L186.3,359.0L186.6,359.0L186.9,359.6L187.2,359.1L187.5,358.4L187.8,358.4L188.1,358.9L188.4,358.7L188.7,358.5L189.0,358.7L189.3,359.2L189.6,358.1L189.9,359.0L190.2,358.8L190.5,359.6L190.8,358.2L191.1,359.1L191.4,358.8L191.7,359.0L192.0,359.1L192.3,359.8L192.6,359.1L192.9,359.1L193.2,358.3L193.5,359.2L193.8,358.3L194.1,358.9L194.4,359.1L194.7,359.5L195.0,359.3L195.3,359.0L195.6,359.3L195.9,358.8L196.2,358.9L196.5,358.9L196.8,359.3L197.1,358.8L197.4,358.5L197.7,358.4L198.0,359.9L198.3,358.0L198.6,358.9L198.9,358.8L199.2,358.8L199.5,358.5L199.8,359.2L200.1,359.0L200.4,358.5L200.7,358.7L201.0,358.4L201.3,359.1L201.6,359.8L201.9,359.6L202.2,359.4L202.5,358.9L202.8,358.9L203.1,359.1L203.4,359.6L203.7,358.9L204.0,358.9L204.3,358.4L204.6,358.9L204.9,359.0L205.2,358.6L205.5,358.5L205.8,358.9L206.1,359.1L206.4,358.6L206.7,359.2L207.0,358.8L207.3,359.1L207.6,359.6L207.9,358.7L208.2,358.9L208.5,358.8L208.8,358.8L209.1,359.1L209.4,358.2L209.7,359.0L210.0,358.3L210.3,358.6L210.6,359.3L210.9,358.2L211.2,359.5L211.5,359.7L211.8,359.4L212.1,359.2L212.4,358.9L212.7,358.8L213.0,359.9L213.3,358.5L213.6,358.9L213.9,359.1L214.2,358.7L214.5,358.4L214.8,359.0L215.1,358.9L215.4,358.1L215.7,358.6L216.0,358.6L216.3,358.8L216.6,359.1L216.9,359.3L217.2,358.3L217.5,358.9L217.8,358.6L218.1,358.2L218.4,359.2L218.7,358.7L219.0,358.8L219.3,358.0L219.6,359.1L219.9,358.9L220.2,359.2L220.5,358.7L220.8,359.6L221.1,359.0L221.4,358.7L221.7,359.1L222.0,359.2L222.3,358.6L222.6,359.4L222.9,359.1L223.2,359.2L223.5,359.4L223.8,360.0L224.1,358.9L224.4,358.7L224.7,359.1L225.0,358.9L225.3,357.9L225.6,359.8L225.9,359.1L226.2,358.2L226.5,358.6L226.8,359.0L227.1,358.8L227.4,358.7L227.7,359.0L228.0,359.3L228.3,359.3L228.6,359.0L228.9,359.1L229.2,358.2L229.5,358.3L229.8,358.9L230.1,358.7L230.4,359.0L230.7,358.5L231.0,358.6L231.3,358.8L231.6,357.9L231.9,358.4L232.2,359.2L232.5,358.9L232.8,358.4L233.1,359.0L233.4,359.6L233.7,359.5L234.0,358.4L234.3,358.6L234.6,358.1L234.9,358.6L235.2,358.3L235.5,358.5L235.8,359.0L236.1,358.8L236.4,358.8L236.7,358.2L237.0,359.3L237.3,358.8L237.6,358.3L237.9,358.9L238.2,359.4L238.5,358.3L238.8,359.1L239.1,358.3L239.4,359.3L239.7,359.2L240.0,358.8L240.3,358.5L240.6,358.3L240.9,358.5L241.2,359.2L241.5,359.0L241.8,358.9L242.1,358.6L242.4,358.8L242.7,359.1L243.0,357.9L243.3,358.7L243.6,358.9L243.9,358.4L244.2,358.6L244.5,358.8L244.8,358.4L245.1,358.4L245.4,358.3L245.7,358.4L246.0,358.8L246.3,359.2L246.6,358.8L246.9,358.7L247.2,358.5L247.5,358.9L247.8,358.7L248.1,359.3L248.4,358.9L248.7,359.2L249.0,359.0L249.3,358.8L249.6,358.9L249.9,358.5L250.2,359.1L250.5,358.8L250.8,358.5L251.1,358.9L251.4,359.2L251.7,358.8L252.0,357.8L252.3,358.6L252.6,358.8L252.9,359.0L253.2,358.5L253.5,359.0L253.8,359.1L254.1,359.0L254.4,358.1L254.7,358.6L255.0,358.5L255.3,358.6L255.6,358.8L255.9,359.3L256.2,358.8L256.5,358.4L256.8,358.3L257.1,359.1L257.4,358.4L257.7,358.7L258.0,359.4L258.3,359.5L258.6,359.5L258.9,358.4L259.2,359.6L259.5,358.9L259.8,359.3L260.1,358.9L260.4,359.4L260.7,358.9L261.0,358.9L261.3,358.8L261.6,358.5L261.9,358.9L262.2,359.3L262.5,358.4L262.8,359.0L263.1,358.5L263.4,358.4L263.7,358.2L264.0,359.7L264.3,359.0L264.6,358.8L264.9,359.4L265.2,358.0L265.5,359.0L265.8,358.7L266.1,359.2L266.4,358.3L266.7,359.0L267.0,358.9L267.3,359.5L267.6,358.7L267.9,358.9L268.2,359.1L268.5,359.1L268.8,359.2L269.1,359.0L269.4,358.5L269.7,359.5L270.0,359.7L270.3,359.0L270.6,358.6L270.9,359.4L271.2,358.5L271.5,359.0L271.8,358.2L272.1,359.5L272.4,358.4L272.7,359.1L273.0,358.6L273.3,358.7L273.6,358.4L273.9,358.9L274.2,358.4L274.5,359.3L274.8,358.5L275.1,358.9L275.4,359.2L275.7,359.2L276.0,359.3L276.3,359.4L276.6,359.1L276.9,359.2L277.2,359.3L277.5,358.3L277.8,358.9L278.1,358.9L278.4,358.9L278.7,359.2L279.0,358.5L279.3,358.3L279.6,358.6L279.9,359.1L280.2,358.5L280.5,357.9L280.8,359.5L281.1,359.5L281.4,359.2L281.7,358.8L282.0,358.8L282.3,358.4L282.6,358.5L282.9,359.3L283.2,358.7L283.5,359.4L283.8,358.8L284.1,357.9L284.4,359.0L284.7,359.6L285.0,359.1L285.3,358.6L285.6,358.6L285.9,359.2L286.2,358.6L286.5,358.4L286.8,359.0L287.1,358.9L287.4,358.6L287.7,358.5L288.0,359.1L288.3,358.1L288.6,358.6L288.9,358.7L289.2,359.7L289.5,358.5L289.8,359.2L290.1,358.8L290.4,359.4L290.7,359.5L291.0,358.8L291.3,359.0L291.6,358.5L291.9,358.7L292.2,359.2L292.5,358.4L292.8,358.6L293.1,358.9L293.4,358.8L293.7,358.7L294.0,358.0L294.3,358.8L294.6,358.9L294.9,358.9L295.2,358.9L295.5,359.3L295.8,359.8L296.1,358.4L296.4,358.5L296.7,359.1L297.0,357.9L297.3,358.4L297.6,358.5L297.9,358.4L298.2,358.4L298.5,358.3L298.8,358.5L299.1,359.1L299.4,359.5L299.7,358.2L300.0,359.1L300.3,359.1L300.6,359.1L300.9,359.7L301.2,359.1L301.5,359.5L301.8,358.6L302.1,358.3L302.4,359.5L302.7,359.0L303.0,358.3L303.3,358.9L303.6,359.3L303.9,358.6L304.2,359.1L304.5,358.3L304.8,359.2L305.1,359.0L305.4,358.8L305.7,358.8L306.0,358.8L306.3,359.5L306.6,359.5L306.9,358.0L307.2,358.4L307.5,358.8L307.8,358.9L308.1,358.4L308.4,359.3L308.7,360.1L309.0,358.4L309.3,358.4L309.6,359.0L309.9,359.4L310.2,359.3L310.5,359.0L310.8,359.2L311.1,358.9L311.4,358.9L311.7,358.8L312.0,358.7L312.3,359.1L312.6,358.9L312.9,359.1L313.2,358.7L313.5,359.6L313.8,359.0L314.1,358.9L314.4,359.6L314.7,359.0L315.0,359.0L315.3,359.0L315.6,358.2L315.9,359.3L316.2,358.3L316.5,359.4L316.8,359.2L317.1,358.8L317.4,358.4L317.7,359.2L318.0,358.8L318.3,359.6L318.6,358.7L318.9,359.0L319.2,358.9L319.5,358.4L319.8,358.2L320.1,359.2L320.4,359.1L320.7,358.9L321.0,358.6L321.3,359.2L321.6,358.5L321.9,359.3L322.2,359.1L322.5,358.5L322.8,358.7L323.1,358.8L323.4,358.7L323.7,359.0L324.0,358.5L324.3,358.5L324.6,358.4L324.9,358.5L325.2,359.1L325.5,359.1L325.8,357.8L326.1,359.0L326.4,358.3L326.7,358.9L327.0,359.1L327.3,359.6L327.6,358.8L327.9,359.1L328.2,358.5L328.5,357.9L328.8,358.1L329.1,359.2L329.4,358.4L329.7,358.7L330.0,359.3L330.3,359.2L330.6,358.6L330.9,358.7L331.2,358.3L331.5,359.5L331.8,358.4L332.1,358.9L332.4,358.9L332.7,358.9L333.0,359.4L333.3,358.2L333.6,358.5L333.9,359.0L334.2,358.8L334.5,359.3L334.8,358.2L335.1,359.3L335.4,358.5L335.7,358.8L336.0,359.8" fill="none" stroke="#ff0000" stroke-width="1.35" stroke-linejoin="round" stroke-linecap="butt" />
<path d="M64.8,358.9V360.2M72.2,358.9V360.4M72.7,358.9V360.7M75.1,358.9V359.9M78.1,358.9V360.0M81.0,358.9V361.0M97.6,358.9V361.1M120.4,358.9V360.3M133.9,358.9V360.8M153.6,358.9V360.1M154.2,358.9V360.1M159.6,358.9V361.0M163.1,358.9V361.0M167.0,358.9V360.3M171.0,358.9V361.0M181.6,358.9V360.0M192.8,358.9V360.3M284.8,358.9V360.8M287.5,358.9V360.9M304.3,358.9V360.8M308.4,358.9V360.3M314.1,358.9V360.1M318.6,358.9V360.8M329.0,358.9V360.1M335.3,358.9V361.0" fill="none" stroke="#ff0000" stroke-width="0.8"/>
<path d="M31.6,374.6L32.5,378.3L33.5,379.5L33.5,380.3L33.8,380.4L34.1,380.6L34.4,380.0L34.7,379.9L35.0,380.0L35.3,380.2L35.6,379.8L35.9,380.7L36.2,379.5L36.5,380.1L36.8,379.7L37.1,379.7L37.4,380.0L37.7,380.7L38.0,379.5L38.3,379.6L38.6,379.5L38.9,379.5L39.2,380.6L39.5,379.3L39.8,380.0L40.1,380.1L40.4,380.1L40.7,380.6L41.0,380.1L41.3,379.7L41.6,379.8L41.9,380.1L42.2,379.6L42.5,379.7L42.8,380.0L43.1,379.8L43.4,380.8L43.7,379.8L44.0,380.1L44.3,379.5L44.6,379.9L44.9,380.1L45.2,379.8L45.5,380.1L45.8,379.9L46.1,380.4L46.4,379.5L46.7,380.0L47.0,380.4L47.3,379.8L47.6,380.2L47.9,380.0L48.2,380.3L48.5,381.2L48.8,379.8L49.1,380.1L49.4,379.8L49.7,379.7L50.0,380.8L50.3,380.6L50.6,380.2L50.9,379.6L51.2,381.1L51.5,380.7L51.8,380.0L52.1,379.8L52.4,380.1L52.7,380.8L53.0,379.9L53.3,379.6L53.6,379.9L53.9,379.0L54.2,380.3L54.5,380.0L54.8,380.5L55.1,380.1L55.4,380.1L55.7,380.0L56.0,379.2L56.3,380.0L56.6,380.1L56.9,380.4L57.2,380.2L57.5,379.5L57.8,379.9L58.1,380.1L58.4,380.5L58.7,379.7L59.0,379.1L59.3,379.6L59.6,379.7L59.9,380.6L60.2,380.2L60.5,379.3L60.8,380.3L61.1,380.7L61.4,380.2L61.7,379.5L62.0,380.6L62.3,380.2L62.6,379.5L62.9,380.9L63.2,380.0L63.5,379.0L63.8,380.0L64.1,379.9L64.4,380.2L64.7,380.1L65.0,379.5L65.3,380.1L65.6,380.3L65.9,379.9L66.2,379.9L66.5,379.4L66.8,379.8L67.1,379.7L67.4,379.9L67.7,379.7L68.0,379.1L68.3,380.2L68.6,379.6L68.9,379.8L69.2,379.5L69.5,379.9L69.8,379.7L70.1,380.7L70.4,379.1L70.7,379.4L71.0,379.9L71.3,379.4L71.6,379.8L71.9,381.1L72.2,380.1L72.5,379.9L72.8,380.2L73.1,380.2L73.4,380.1L73.7,379.9L74.0,379.8L74.3,380.5L74.6,380.3L74.9,379.9L75.2,380.0L75.5,379.4L75.8,379.6L76.1,379.2L76.4,379.8L76.7,380.6L77.0,380.4L77.3,379.9L77.6,379.8L77.9,380.3L78.2,380.3L78.5,379.5L78.8,379.9L79.1,380.2L79.4,380.2L79.7,380.3L80.0,380.4L80.3,380.1L80.6,379.7L80.9,379.2L81.2,379.6L81.5,380.3L81.8,380.6L82.1,380.3L82.4,379.7L82.7,379.1L83.0,380.3L83.3,379.5L83.6,379.8L83.9,380.6L84.2,379.6L84.5,379.7L84.8,380.2L85.1,379.7L85.4,380.3L85.7,380.7L86.0,379.8L86.3,380.6L86.6,379.5L86.9,380.0L87.2,379.8L87.5,378.8L87.8,379.8L88.1,380.2L88.4,379.8L88.7,379.3L89.0,380.2L89.3,379.5L89.6,380.3L89.9,380.3L90.2,380.1L90.5,379.8L90.8,379.9L91.1,380.7L91.4,380.8L91.7,380.1L92.0,378.9L92.3,379.4L92.6,379.3L92.9,380.6L93.2,379.3L93.5,380.5L93.8,380.0L94.1,379.8L94.4,380.6L94.7,379.8L95.0,380.5L95.3,380.5L95.6,379.6L95.9,379.9L96.2,380.4L96.5,378.9L96.8,380.3L97.1,379.8L97.4,380.3L97.7,379.8L98.0,379.7L98.3,379.0L98.6,379.3L98.9,379.5L99.2,379.9L99.5,379.4L99.8,380.0L100.1,380.0L100.4,380.1L100.7,380.2L101.0,380.2L101.3,379.6L101.6,380.1L101.9,379.9L102.2,380.1L102.5,379.1L102.8,379.7L103.1,379.4L103.4,379.5L103.7,379.7L104.0,379.7L104.3,379.8L104.6,379.4L104.9,379.3L105.2,379.7L105.5,379.5L105.8,380.0L106.1,379.9L106.4,380.2L106.7,379.5L107.0,379.9L107.3,379.8L107.6,379.9L107.9,379.4L108.2,380.6L108.5,379.9L108.8,380.5L109.1,379.5L109.4,379.9L109.7,380.3L110.0,379.9L110.3,379.9L110.6,379.6L110.9,380.7L111.2,380.3L111.5,379.8L111.8,380.0L112.1,379.5L112.4,380.2L112.7,379.9L113.0,379.7L113.3,380.1L113.6,381.0L113.9,379.9L114.2,379.6L114.5,379.7L114.8,380.3L115.1,379.6L115.4,379.3L115.7,380.4L116.0,379.2L116.3,379.2L116.6,379.8L116.9,379.9L117.2,379.1L117.5,379.1L117.8,380.0L118.1,379.6L118.4,378.9L118.7,380.5L119.0,380.6L119.3,380.7L119.6,379.9L119.9,379.4L120.2,379.6L120.5,380.5L120.8,379.8L121.1,379.2L121.4,380.3L121.7,380.3L122.0,379.5L122.3,379.5L122.6,380.2L122.9,379.2L123.2,380.1L123.5,379.8L123.8,380.3L124.1,379.5L124.4,379.7L124.7,379.6L125.0,380.6L125.3,380.2L125.6,379.5L125.9,379.6L126.2,380.0L126.5,379.8L126.8,380.1L127.1,379.4L127.4,379.6L127.7,380.8L128.0,380.4L128.3,379.5L128.6,380.7L128.9,380.5L129.2,378.9L129.5,380.0L129.8,380.4L130.1,380.0L130.4,379.9L130.7,380.5L131.0,380.1L131.3,378.9L131.6,379.9L131.9,380.0L132.2,379.3L132.5,380.4L132.8,379.9L133.1,379.2L133.4,379.8L133.7,379.6L134.0,380.2L134.3,379.6L134.6,379.7L134.9,380.5L135.2,379.7L135.5,379.7L135.8,379.9L136.1,379.6L136.4,380.2L136.7,379.4L137.0,379.7L137.3,380.7L137.6,379.1L137.9,379.4L138.2,379.9L138.5,378.8L138.8,378.8L139.1,379.6L139.4,380.4L139.7,380.0L140.0,379.6L140.3,379.4L140.6,381.0L140.9,380.1L141.2,379.4L141.5,380.6L141.8,380.5L142.1,379.6L142.4,379.1L142.7,380.8L143.0,379.8L143.3,379.7L143.6,380.0L143.9,379.8L144.2,380.4L144.5,379.6L144.8,379.9L145.1,380.2L145.4,380.5L145.7,379.6L146.0,379.6L146.3,380.5L146.6,379.9L146.9,380.3L147.2,380.0L147.5,380.0L147.8,379.5L148.1,379.9L148.4,379.9L148.7,379.6L149.0,380.7L149.3,379.3L149.6,379.6L149.9,380.1L150.2,380.4L150.5,379.6L150.8,379.8L151.1,379.6L151.4,379.5L151.7,380.5L152.0,379.9L152.3,379.7L152.6,380.0L152.9,380.3L153.2,380.5L153.5,380.1L153.8,380.0L154.1,380.2L154.4,380.4L154.7,380.2L155.0,379.3L155.3,380.0L155.6,379.7L155.9,380.7L156.2,380.0L156.5,379.6L156.8,380.5L157.1,379.7L157.4,380.1L157.7,379.9L158.0,380.1L158.3,380.4L158.6,379.6L158.9,379.6L159.2,380.3L159.5,379.8L159.8,380.0L160.1,380.4L160.4,379.5L160.7,380.4L161.0,379.8L161.3,379.7L161.6,379.7L161.9,380.9L162.2,380.2L162.5,380.1L162.8,379.6L163.1,380.6L163.4,379.4L163.7,379.7L164.0,380.5L164.3,380.4L164.6,379.8L164.9,380.2L165.2,379.8L165.5,379.3L165.8,380.4L166.1,380.0L166.4,380.3L166.7,380.3L167.0,379.5L167.3,380.0L167.6,379.6L167.9,380.1L168.2,380.3L168.5,380.4L168.8,381.0L169.1,379.8L169.4,380.5L169.7,380.3L170.0,380.3L170.3,379.6L170.3,364.8L170.3,364.7L170.6,364.6L170.9,364.7L171.2,364.1L171.5,364.5L171.8,364.8L172.1,364.4L172.4,364.8L172.7,365.1L173.0,364.6L173.3,364.4L173.6,364.7L173.9,364.4L174.2,364.3L174.5,364.4L174.8,365.3L175.1,364.8L175.4,364.9L175.7,364.9L176.0,363.8L176.3,364.7L176.6,364.9L176.9,364.4L177.2,364.1L177.5,364.8L177.8,364.4L178.1,365.0L178.1,379.7L178.1,380.0L178.4,380.4L178.7,380.4L179.0,380.4L179.3,379.8L179.6,380.9L179.9,379.5L180.2,379.7L180.5,379.9L180.8,380.5L181.1,380.1L181.4,380.8L181.7,380.3L182.0,380.3L182.3,379.6L182.3,364.4L182.3,364.6L182.6,364.1L182.9,364.2L183.2,364.0L183.5,364.3L183.8,364.9L184.1,364.7L184.4,364.6L184.7,364.7L185.0,364.2L185.3,364.4L185.6,364.3L185.9,364.1L186.2,364.3L186.5,364.1L186.5,379.9L186.5,380.3L186.8,380.1L187.1,379.9L187.4,380.1L187.7,379.8L187.7,364.1L187.7,363.7L188.0,365.1L188.3,364.6L188.6,363.6L188.9,364.7L189.2,364.3L189.5,364.5L189.8,364.6L190.1,364.2L190.4,363.9L190.7,364.2L191.0,364.9L191.3,364.1L191.6,363.9L191.9,364.5L192.2,365.4L192.5,364.1L192.8,365.0L193.1,364.6L193.4,364.7L193.7,365.1L194.0,364.1L194.3,364.5L194.6,364.4L194.9,364.8L194.9,380.0L194.9,380.0L195.2,380.3L195.5,379.8L195.8,380.0L196.1,379.7L196.4,380.5L196.7,380.3L197.0,380.7L197.3,379.3L197.6,379.6L197.9,379.9L198.2,380.4L198.5,379.7L198.8,379.5L198.8,365.4L198.8,364.5L199.1,364.6L199.4,364.1L199.7,365.4L200.0,364.7L200.3,364.4L200.6,364.4L200.9,364.5L201.2,364.7L201.5,364.6L201.8,364.2L202.1,365.1L202.4,364.1L202.7,365.1L203.0,364.9L203.3,363.9L203.6,365.0L203.9,364.7L204.2,364.2L204.5,365.4L204.8,365.1L205.1,363.6L205.4,365.0L205.7,364.2L206.0,363.8L206.3,364.8L206.6,363.9L206.6,379.8L206.6,379.9L206.9,379.7L207.2,379.4L207.5,378.9L207.8,379.8L208.1,380.4L208.4,380.4L208.7,380.6L209.0,380.1L209.3,380.0L209.3,364.2L209.3,363.4L209.6,364.2L209.9,364.1L210.2,364.1L210.5,364.5L210.8,364.7L211.1,364.2L211.4,364.9L211.7,364.6L212.0,364.9L212.3,365.0L212.6,365.0L212.9,364.3L213.2,364.2L213.5,364.5L213.8,365.0L214.1,363.5L214.4,364.9L214.7,364.3L215.0,364.8L215.3,364.7L215.6,364.3L215.9,364.1L216.2,364.3L216.5,364.7L216.8,364.0L217.1,364.5L217.4,364.2L217.7,364.2L218.0,364.0L218.3,363.8L218.6,364.7L218.9,364.6L219.2,364.3L219.5,364.4L219.8,364.9L220.1,364.5L220.4,364.7L220.7,364.4L221.0,364.8L221.3,364.4L221.6,364.0L221.9,364.8L222.2,364.8L222.5,364.1L222.8,364.6L223.1,364.6L223.4,364.7L223.7,365.9L224.0,364.6L224.3,364.5L224.6,364.3L224.9,364.2L225.2,363.3L225.5,364.3L225.8,364.4L226.1,364.0L226.4,364.5L226.7,364.7L227.0,365.0L227.3,365.5L227.6,364.6L227.9,364.1L228.2,364.0L228.5,365.1L228.8,364.2L229.1,364.5L229.4,364.8L229.7,364.6L230.0,364.6L230.3,364.6L230.6,363.6L230.9,364.4L231.2,364.8L231.5,363.9L231.8,363.8L232.1,364.7L232.4,364.4L232.7,364.7L233.0,363.7L233.3,364.5L233.6,364.1L233.9,364.8L234.2,365.3L234.5,364.3L234.8,364.9L235.1,364.1L235.4,364.4L235.7,364.7L236.0,364.2L236.3,365.1L236.6,364.6L236.9,363.9L237.2,363.9L237.5,364.2L237.8,363.6L238.1,365.0L238.4,364.3L238.7,364.2L239.0,364.5L239.3,364.3L239.6,365.1L239.9,365.1L240.2,364.8L240.5,364.8L240.8,364.9L241.1,364.7L241.4,364.5L241.7,365.0L242.0,364.6L242.3,364.8L242.6,365.2L242.9,365.4L243.2,364.5L243.5,365.0L243.8,363.9L244.1,364.2L244.4,364.7L244.7,364.2L245.0,364.0L245.3,364.1L245.6,364.7L245.9,363.9L246.2,364.8L246.5,364.9L246.8,363.6L247.1,364.7L247.4,364.8L247.7,364.0L248.0,364.7L248.3,364.3L248.6,364.7L248.9,364.8L249.2,364.7L249.5,363.3L249.8,364.8L250.1,365.3L250.4,364.0L250.7,365.6L251.0,364.3L251.3,363.9L251.6,363.9L251.9,365.1L252.2,364.7L252.5,364.2L252.8,364.3L253.1,363.5L253.4,364.0L253.7,363.9L254.0,364.6L254.3,364.4L254.6,364.9L254.9,364.6L255.2,364.4L255.5,364.8L255.8,365.1L256.1,364.3L256.4,364.6L256.7,364.3L257.0,364.1L257.3,364.1L257.6,364.3L257.9,363.9L258.2,364.4L258.5,364.3L258.8,364.6L259.1,364.9L259.4,365.4L259.7,364.3L260.0,364.4L260.3,364.7L260.6,364.2L260.9,365.0L261.2,364.8L261.5,364.5L261.8,365.0L262.1,364.2L262.4,364.4L262.7,364.3L263.0,364.4L263.3,363.9L263.6,364.5L263.9,364.9L264.2,364.7L264.5,364.9L264.8,364.7L265.1,364.9L265.4,364.1L265.7,364.3L266.0,363.8L266.3,365.5L266.6,365.4L266.9,364.5L267.2,364.3L267.5,364.7L267.8,364.1L268.1,365.0L268.4,365.5L268.7,363.8L269.0,364.2L269.3,365.0L269.6,365.1L269.9,364.8L270.2,364.6L270.5,364.4L270.8,364.6L271.1,364.2L271.4,364.3L271.7,364.3L272.0,365.2L272.3,363.7L272.6,364.9L272.9,363.8L273.2,363.9L273.5,363.6L273.8,364.1L274.1,364.7L274.4,364.3L274.7,364.5L275.0,364.1L275.3,364.6L275.6,363.8L275.9,364.6L276.2,364.3L276.5,364.0L276.8,365.0L277.1,365.2L277.4,364.3L277.7,365.1L278.0,364.7L278.3,365.0L278.6,364.8L278.9,364.6L279.2,364.3L279.5,365.1L279.8,364.2L280.1,364.5L280.4,364.8L280.7,363.7L281.0,364.8L281.3,364.3L281.6,364.4L281.9,364.7L282.2,364.5L282.5,364.6L282.8,364.2L283.1,364.1L283.4,364.4L283.7,364.3L284.0,364.1L284.3,365.1L284.6,365.2L284.9,363.8L285.2,364.3L285.5,364.9L285.8,363.5L286.1,364.9L286.4,364.5L286.7,364.8L287.0,364.9L287.3,365.1L287.6,363.9L287.9,364.8L288.2,364.6L288.5,364.8L288.8,363.9L289.1,364.1L289.4,364.8L289.7,365.0L290.0,365.2L290.3,363.8L290.6,365.1L290.9,364.4L291.2,364.4L291.5,364.3L291.8,364.8L292.1,365.0L292.4,364.1L292.7,364.8L293.0,364.6L293.3,364.2L293.6,364.9L293.9,364.1L294.2,364.3L294.5,364.5L294.8,364.5L295.1,364.1L295.4,364.3L295.7,365.0L296.0,364.6L296.3,364.6L296.6,364.5L296.9,364.9L297.2,365.0L297.5,364.4L297.8,364.9L298.1,364.1L298.4,364.5L298.7,364.0L299.0,364.3L299.3,365.9L299.6,364.1L299.9,365.1L300.2,364.6L300.5,364.6L300.8,363.6L301.1,364.6L301.4,363.9L301.7,364.2L302.0,364.2L302.3,364.3L302.6,365.3L302.9,365.2L303.2,363.7L303.5,364.3L303.8,364.2L304.1,364.6L304.4,363.8L304.7,363.9L305.0,364.5L305.3,364.2L305.6,365.0L305.9,364.4L306.2,364.6L306.5,364.3L306.8,364.8L307.1,365.0L307.4,364.5L307.7,364.3L308.0,364.7L308.3,364.5L308.6,364.9L308.9,364.5L309.2,364.5L309.5,364.8L309.8,364.1L310.1,364.0L310.4,364.7L310.7,364.4L311.0,364.8L311.3,364.8L311.6,364.7L311.9,364.2L312.2,365.2L312.5,363.5L312.8,364.2L313.1,364.0L313.4,365.4L313.7,364.3L314.0,364.4L314.3,364.8L314.6,365.0L314.9,364.9L315.2,364.5L315.5,364.6L315.8,364.0L316.1,364.6L316.4,364.4L316.7,363.5L317.0,364.6L317.3,364.4L317.6,364.8L317.9,364.8L318.2,364.5L318.5,364.4L318.8,365.2L319.1,364.6L319.4,364.9L319.7,364.7L320.0,365.1L320.3,364.9L320.6,364.0L320.9,364.7L321.2,365.2L321.5,365.1L321.8,364.4L322.1,365.2L322.4,364.9L322.7,364.8L323.0,364.2L323.3,364.7L323.6,364.7L323.9,363.6L324.2,364.3L324.5,363.9L324.8,363.7L325.1,364.6L325.4,364.9L325.7,364.5L326.0,363.8L326.3,363.9L326.6,364.9L326.9,364.4L327.2,364.6L327.5,364.4L327.8,364.6L328.1,364.2L328.4,364.2L328.7,363.9L329.0,364.5L329.3,364.5L329.6,365.0L329.9,365.5L330.2,364.6L330.5,363.3L330.8,364.0L331.1,365.1L331.4,364.7L331.7,364.4L332.0,364.1L332.3,364.7L332.6,364.6L332.9,365.0L333.2,365.1L333.5,365.2L333.8,364.9L334.1,364.0L334.4,364.8L334.7,364.0L335.0,364.2L335.3,364.2L335.6,364.0L335.9,364.1" fill="none" stroke="#ff0000" stroke-width="1.35" stroke-linejoin="round" stroke-linecap="butt" />
<path d="M43.7,379.9V381.5M60.5,379.9V381.2M64.1,379.9V381.5M64.3,379.9V381.5M95.4,379.9V381.0M125.5,379.9V381.4M135.5,379.9V381.8M135.7,379.9V381.7M142.0,379.9V381.1M143.3,379.9V381.7M143.4,379.9V381.6M158.1,379.9V381.2M172.1,364.5V379.9M175.4,364.5V379.9M190.3,364.5V379.9M192.2,364.5V379.9M193.9,364.5V372.0M201.3,364.5V379.9M203.9,364.5V379.9M211.6,364.5V365.6M213.8,364.5V366.0M213.9,364.5V366.1M214.7,364.5V368.0M215.0,364.5V367.5M215.5,364.5V366.9M217.2,364.5V367.0M218.0,364.5V372.0M222.0,364.5V370.0M224.8,364.5V366.7M227.4,364.5V367.4M228.2,364.5V379.9M228.8,364.5V367.0M229.3,364.5V367.9M230.4,364.5V366.1M232.0,364.5V365.7M233.4,364.5V366.0M234.0,364.5V371.0M241.8,364.5V379.9M242.2,364.5V367.4M242.6,364.5V379.9M243.6,364.5V379.9M246.9,364.5V367.0M249.0,364.5V379.9M250.0,364.5V379.9M250.1,364.5V366.1M252.8,364.5V366.8M253.7,364.5V367.8M256.5,364.5V365.8M257.3,364.5V379.9M258.4,364.5V379.9M258.9,364.5V366.6M259.5,364.5V365.8M260.0,364.5V379.9M262.7,364.5V379.9M263.1,364.5V367.9M265.0,364.5V372.0M270.0,364.5V370.0M270.8,364.5V366.9M274.7,364.5V365.9M275.3,364.5V366.7M275.5,364.5V378.0M277.3,364.5V378.0M280.0,364.5V375.0M280.7,364.5V366.5M280.7,364.5V367.1M283.8,364.5V366.0M285.5,364.5V372.0M288.0,364.5V370.0M289.4,364.5V367.5M292.7,364.5V378.0M298.0,364.5V366.4M299.0,364.5V372.0M299.1,364.5V367.1M304.5,364.5V373.0M305.3,364.5V365.8M306.4,364.5V367.5M312.7,364.5V376.0M314.5,364.5V376.0M316.4,364.5V376.0M319.6,364.5V366.6M320.0,364.5V370.0M322.9,364.5V367.7M323.9,364.5V367.6M327.3,364.5V372.0M328.3,364.5V367.2M329.3,364.5V367.8M330.5,364.5V367.2M330.8,364.5V366.1M331.4,364.5V366.1M333.0,364.5V371.0M334.1,364.5V365.6M334.8,364.5V367.7M334.9,364.5V366.1" fill="none" stroke="#ff0000" stroke-width="0.9"/>
<path d="M32.0,384.6L32.8,387.6L32.8,389.1L33.1,387.7L33.4,387.5L33.7,388.0L34.0,388.7L34.3,387.2L34.6,387.7L34.9,388.8L35.2,389.7L35.5,388.2L35.8,387.8L36.1,388.1L36.4,387.9L36.7,389.1L37.0,388.7L37.3,387.8L37.6,388.8L37.9,387.1L38.2,388.3L38.5,388.3L38.8,388.2L39.1,387.8L39.4,388.0L39.7,387.3L40.0,388.5L40.3,387.8L40.6,388.6L40.9,388.8L41.2,387.9L41.5,387.6L41.8,388.3L42.1,388.7L42.4,387.6L42.7,388.3L43.0,387.7L43.3,389.1L43.6,388.5L43.9,387.4L44.2,388.0L44.5,388.3L44.8,388.0L45.1,388.3L45.4,388.5L45.7,388.4L46.0,388.1L46.3,389.1L46.6,388.8L46.9,388.1L47.2,388.2L47.5,387.9L47.8,387.5L48.1,388.1L48.4,388.3L48.7,388.1L49.0,387.8L49.3,386.7L49.6,387.3L49.9,388.8L50.2,387.3L50.5,388.6L50.8,388.7L51.1,388.2L51.4,388.3L51.7,388.7L52.0,388.3L52.3,388.3L52.6,388.8L52.9,388.3L53.2,389.4L53.5,387.7L53.8,388.1L54.1,388.1L54.4,388.4L54.7,387.9L55.0,389.3L55.3,388.6L55.6,387.3L55.9,388.3L56.2,388.7L56.5,388.9L56.8,388.5L57.1,387.9L57.4,388.7L57.7,387.6L58.0,388.4L58.3,387.6L58.6,389.0L58.9,388.7L59.2,389.5L59.5,388.1L59.8,388.2L60.1,388.0L60.4,388.9L60.7,387.7L61.0,388.7L61.3,388.1L61.6,388.7L61.9,388.4L62.2,387.9L62.5,388.1L62.8,387.3L63.1,387.8L63.4,388.0L63.7,388.8L64.0,388.1L64.3,388.4L64.6,388.2L64.9,387.6L65.2,388.6L65.5,389.3L65.8,388.6L66.1,389.0L66.4,388.6L66.7,388.8L67.0,389.4L67.3,387.4L67.6,387.9L67.9,387.5L68.2,388.3L68.5,388.1L68.8,387.9L69.1,388.6L69.4,389.3L69.7,389.0L70.0,389.3L70.3,388.4L70.6,388.5L70.9,389.1L71.2,388.8L71.5,388.8L71.8,388.1L72.1,388.1L72.4,387.9L72.7,389.0L73.0,387.8L73.3,388.4L73.6,388.5L73.9,388.2L74.2,388.1L74.5,388.5L74.8,387.9L75.1,388.4L75.4,389.0L75.7,388.0L76.0,388.9L76.3,389.0L76.6,389.3L76.9,387.8L77.2,389.2L77.5,388.9L77.8,389.1L78.1,388.8L78.4,388.2L78.7,388.8L79.0,388.4L79.3,388.1L79.6,388.0L79.9,388.1L80.2,388.2L80.5,387.4L80.8,388.5L81.1,387.6L81.4,388.7L81.7,389.1L82.0,389.0L82.3,389.2L82.6,389.2L82.9,389.6L83.2,388.3L83.5,387.9L83.8,388.2L84.1,387.8L84.4,389.0L84.7,387.0L85.0,388.3L85.3,388.8L85.6,388.6L85.9,388.8L86.2,387.7L86.5,388.1L86.8,388.2L87.1,388.6L87.4,388.6L87.7,389.1L88.0,387.6L88.3,388.5L88.6,389.5L88.9,389.0L89.2,388.5L89.5,388.8L89.8,388.2L90.1,389.1L90.4,388.0L90.7,388.8L91.0,388.5L91.3,387.9L91.6,388.4L91.9,388.3L92.2,388.0L92.5,388.4L92.8,387.9L93.1,388.9L93.4,388.6L93.7,388.9L94.0,388.7L94.3,388.5L94.6,387.6L94.9,388.2L95.2,388.3L95.5,388.1L95.8,388.3L96.1,388.1L96.4,388.1L96.7,387.8L97.0,388.1L97.3,387.7L97.6,388.9L97.9,388.5L98.2,388.6L98.5,388.8L98.8,388.1L99.1,388.9L99.4,387.4L99.7,388.0L100.0,388.3L100.3,389.2L100.6,388.9L100.9,388.8L101.2,388.7L101.5,388.0L101.8,388.2L102.1,388.0L102.4,388.4L102.7,387.7L103.0,388.2L103.3,388.1L103.6,388.6L103.9,388.0L104.2,388.5L104.5,388.6L104.8,388.6L105.1,388.7L105.4,387.8L105.7,388.4L106.0,388.2L106.3,388.9L106.6,388.1L106.9,388.5L107.2,387.6L107.5,388.2L107.8,387.9L108.1,388.3L108.4,388.0L108.7,388.3L109.0,388.4L109.3,387.8L109.6,388.7L109.9,388.0L110.2,389.4L110.5,388.9L110.8,388.7L111.1,388.4L111.4,389.0L111.7,388.5L112.0,387.5L112.3,388.7L112.6,388.5L112.9,387.0L113.2,387.4L113.5,389.0L113.8,388.5L114.1,387.9L114.4,387.4L114.7,387.8L115.0,389.1L115.3,387.1L115.6,388.6L115.9,389.6L116.2,388.4L116.5,387.8L116.8,388.6L117.1,388.7L117.4,388.5L117.7,388.2L118.0,387.5L118.3,388.6L118.6,388.7L118.9,388.5L119.2,388.6L119.5,388.4L119.8,388.8L120.1,389.9L120.4,388.0L120.7,388.5L121.0,387.7L121.3,387.3L121.6,388.3L121.9,389.1L122.2,387.8L122.5,388.1L122.8,388.0L123.1,387.5L123.4,387.5L123.7,388.4L124.0,388.1L124.3,388.2L124.6,387.8L124.9,389.0L125.2,389.5L125.5,387.9L125.8,387.5L126.1,389.0L126.4,389.1L126.7,389.4L127.0,387.8L127.3,388.3L127.6,387.3L127.9,388.5L128.2,387.6L128.5,387.4L128.8,388.7L129.1,388.5L129.4,387.2L129.7,387.9L130.0,389.6L130.3,387.0L130.6,388.0L130.9,389.4L131.2,389.3L131.5,388.4L131.8,387.9L132.1,388.5L132.4,388.0L132.7,388.5L133.0,388.9L133.3,388.4L133.6,388.9L133.9,389.0L134.2,387.8L134.5,388.2L134.8,387.8L135.1,388.5L135.4,387.3L135.7,387.8L136.0,387.1L136.3,388.6L136.6,387.8L136.9,389.0L137.2,388.7L137.5,388.6L137.8,387.9L138.1,387.4L138.4,387.7L138.7,388.3L139.0,388.2L139.3,388.2L139.6,388.3L139.9,389.1L140.2,388.9L140.5,387.6L140.8,388.7L141.1,387.8L141.4,388.4L141.7,388.4L142.0,388.8L142.3,388.7L142.6,387.7L142.9,388.2L143.2,388.5L143.5,388.2L143.8,389.1L144.1,387.5L144.4,388.6L144.7,388.4L145.0,388.0L145.3,388.2L145.6,388.2L145.9,388.5L146.2,388.0L146.5,388.1L146.8,389.7L147.1,388.0L147.4,388.6L147.7,388.9L148.0,387.8L148.3,388.7L148.6,388.0L148.9,386.9L149.2,388.3L149.5,386.7L149.8,388.2L150.1,388.7L150.4,389.3L150.7,388.7L151.0,388.9L151.3,388.6L151.6,388.3L151.9,388.9L152.2,388.1L152.5,388.5L152.8,387.9L153.1,388.1L153.4,388.5L153.7,387.3L154.0,387.9L154.3,387.8L154.6,388.3L154.9,389.3L155.2,387.8L155.5,388.2L155.8,388.1L156.1,387.9L156.4,387.9L156.7,388.8L157.0,388.2L157.3,387.9L157.6,387.6L157.9,387.8L158.2,388.8L158.5,387.8L158.8,387.2L159.1,387.8L159.4,388.3L159.7,388.5L160.0,388.3L160.3,388.7L160.6,387.6L160.9,387.7L161.2,388.1L161.5,388.3L161.8,387.1L162.1,388.2L162.4,387.4L162.7,388.8L163.0,388.4L163.3,389.2L163.6,389.3L163.9,388.5L164.2,388.1L164.5,387.7L164.8,387.9L165.1,388.8L165.4,388.5L165.7,388.3L166.0,387.5L166.3,388.1L166.6,389.2L166.9,388.1L167.2,389.0L167.5,387.0L167.8,389.0L168.1,387.7L168.4,387.5L168.7,388.1L169.0,387.8L169.3,389.1L169.6,388.1L169.9,388.1L170.2,387.9L170.5,388.7L170.8,388.9L171.1,388.7L171.4,387.4L171.7,388.1L172.0,388.5L172.3,387.2L172.6,388.2L172.9,388.8L173.2,389.1L173.5,388.5L173.8,388.7L174.1,388.7L174.4,388.5L174.7,387.2L175.0,389.3L175.3,388.6L175.6,388.2L175.9,387.8L176.2,389.5L176.5,388.5L176.8,388.8L177.1,388.1L177.4,388.4L177.7,388.3L178.0,388.8L178.3,387.2L178.6,389.2L178.9,388.3L179.2,388.7L179.5,388.8L179.8,388.0L180.1,388.7L180.4,387.6L180.7,388.4L181.0,387.8L181.3,388.8L181.6,389.1L181.9,387.6L182.2,388.4L182.5,387.9L182.8,387.5L183.1,388.2L183.4,388.8L183.7,388.9L184.0,388.0L184.3,388.1L184.6,389.1L184.9,388.2L185.2,389.2L185.5,389.3L185.8,388.6L186.1,387.8L186.4,388.1L186.7,388.7L187.0,388.1L187.3,388.3L187.6,388.5L187.9,387.4L188.2,388.0L188.5,388.1L188.8,387.8L189.1,388.4L189.4,388.1L189.7,388.0L190.0,389.0L190.3,389.1L190.6,388.1L190.9,388.0L191.2,387.4L191.5,387.3L191.8,389.1L192.1,388.3L192.4,387.8L192.7,387.5L193.0,388.9L193.3,388.1L193.6,388.6L193.9,388.8L194.2,387.8L194.5,387.5L194.8,388.2L195.1,388.5L195.4,388.1L195.7,388.2L196.0,388.5L196.3,387.7L196.6,388.6L196.9,388.8L197.2,387.6L197.5,387.8L197.8,388.0L198.1,387.9L198.4,388.1L198.7,388.8L199.0,387.5L199.3,388.5L199.6,388.0L199.9,387.9L200.2,387.5L200.5,387.1L200.8,388.3L201.1,389.0L201.4,387.8L201.7,388.6L202.0,387.6L202.3,388.5L202.6,388.1L202.9,388.1L203.2,387.5L203.5,388.0L203.8,388.0L204.1,389.0L204.4,388.6L204.7,388.5L205.0,387.9L205.3,388.4L205.6,388.7L205.9,389.0L206.2,388.8L206.5,389.3L206.8,388.1L207.1,387.8L207.4,389.0L207.7,389.2L208.0,388.8L208.3,388.3L208.6,388.3L208.9,388.1L209.2,388.1L209.5,388.3L209.8,388.5L210.1,387.6L210.4,388.5L210.7,388.4L211.0,388.2L211.3,388.4L211.6,388.1L211.9,388.4L212.2,389.1L212.5,388.0L212.8,388.7L213.1,387.9L213.4,388.1L213.7,388.4L214.0,387.9L214.3,388.8L214.6,387.5L214.9,388.2L215.2,388.3L215.5,388.3L215.8,388.2L216.1,387.7L216.4,388.3L216.7,389.0L217.0,388.6L217.3,388.2L217.6,387.6L217.9,387.8L218.2,388.7L218.5,388.0L218.8,388.1L219.1,389.5L219.4,387.0L219.7,388.8L220.0,387.0L220.3,387.5L220.6,389.7L220.9,388.9L221.2,388.6L221.5,388.7L221.8,388.8L222.1,387.9L222.4,387.5L222.7,387.8L223.0,388.4L223.3,388.5L223.6,388.8L223.9,388.2L224.2,388.7L224.5,388.2L224.8,387.6L225.1,388.0L225.4,388.4L225.7,388.2L226.0,388.0L226.3,388.2L226.6,389.0L226.9,387.9L227.2,386.9L227.5,388.3L227.8,387.0L228.1,389.1L228.4,387.9L228.7,388.3L229.0,388.1L229.3,388.3L229.6,388.4L229.9,388.9L230.2,387.6L230.5,388.0L230.8,388.0L231.1,388.1L231.4,388.6L231.7,387.2L232.0,387.0L232.3,388.2L232.6,388.5L232.9,388.5L233.2,388.8L233.5,389.1L233.8,387.7L234.1,388.1L234.4,388.4L234.7,388.5L235.0,388.5L235.3,388.4L235.6,387.7L235.9,389.5L236.2,388.2L236.5,388.5L236.8,387.7L237.1,388.4L237.4,388.0L237.7,388.8L238.0,388.7L238.3,387.9L238.6,388.3L238.9,388.3L239.2,388.4L239.5,389.0L239.8,387.8L240.1,389.8L240.4,387.8L240.7,387.5L241.0,388.6L241.3,387.5L241.6,389.0L241.9,388.5L242.2,388.1L242.5,388.7L242.8,388.3L243.1,387.8L243.4,388.0L243.7,389.3L244.0,388.4L244.3,388.4L244.6,387.7L244.9,389.4L245.2,388.6L245.5,388.1L245.8,388.3L246.1,388.0L246.4,389.0L246.7,388.8L247.0,387.9L247.3,388.1L247.6,388.0L247.9,388.3L248.2,389.5L248.5,388.1L248.8,388.5L249.1,388.1L249.4,388.1L249.7,388.5L250.0,388.9L250.3,387.6L250.6,387.9L250.9,388.1L251.2,387.7L251.5,389.1L251.8,388.7L252.1,388.9L252.4,388.5L252.7,387.6L253.0,388.8L253.3,388.2L253.6,387.9L253.9,387.8L254.2,387.6L254.5,388.0L254.8,388.4L255.1,388.9L255.4,387.9L255.7,388.7L256.0,388.5L256.3,388.7L256.6,388.3L256.9,387.5L257.2,388.9L257.5,388.6L257.8,387.6L258.1,388.3L258.4,388.1L258.7,389.5L259.0,389.1L259.3,388.3L259.6,388.2L259.9,388.7L260.2,388.4L260.5,388.7L260.8,388.1L261.1,387.7L261.4,387.2L261.7,387.5L262.0,387.4L262.3,388.3L262.6,388.6L262.9,389.2L263.2,388.4L263.5,389.5L263.8,389.2L264.1,388.2L264.4,388.0L264.7,388.4L265.0,388.0L265.3,388.0L265.6,388.3L265.9,388.6L266.2,387.2L266.5,388.3L266.8,388.3L267.1,388.7L267.4,387.7L267.7,388.6L268.0,387.7L268.3,387.8L268.6,387.8L268.9,388.4L269.2,388.1L269.5,389.0L269.8,388.5L270.1,388.2L270.4,388.8L270.7,389.2L271.0,388.3L271.3,389.3L271.6,388.5L271.9,388.5L272.2,387.7L272.5,388.9L272.8,388.9L273.1,388.5L273.4,388.9L273.7,389.5L274.0,389.3L274.3,387.8L274.6,388.2L274.9,389.0L275.2,388.8L275.5,388.9L275.8,387.4L276.1,388.7L276.4,388.6L276.7,388.0L277.0,389.2L277.3,388.7L277.6,388.9L277.9,389.2L278.2,388.2L278.5,388.5L278.8,388.3L279.1,388.9L279.4,388.9L279.7,387.8L280.0,387.9L280.3,387.8L280.6,388.5L280.9,387.7L281.2,387.8L281.5,389.1L281.8,387.9L282.1,388.7L282.4,387.1L282.7,388.8L283.0,387.6L283.3,389.1L283.6,388.5L283.9,388.6L284.2,387.8L284.5,388.5L284.8,388.1L285.1,388.9L285.4,388.1L285.7,388.2L286.0,387.9L286.3,388.1L286.6,388.8L286.9,388.2L287.2,388.5L287.5,386.9L287.8,388.8L288.1,387.6L288.4,387.2L288.7,388.4L289.0,387.3L289.3,389.2L289.6,388.3L289.9,388.2L290.2,388.7L290.5,388.2L290.8,388.4L291.1,388.4L291.4,389.4L291.7,388.7L292.0,388.1L292.3,388.4L292.6,387.4L292.9,389.1L293.2,387.7L293.5,388.0L293.8,388.2L294.1,388.5L294.4,387.9L294.7,387.9L295.0,387.9L295.3,386.9L295.6,388.0L295.9,388.7L296.2,388.9L296.5,387.9L296.8,387.7L297.1,388.8L297.4,388.1L297.7,389.0L298.0,387.9L298.3,388.5L298.6,388.3L298.9,388.4L299.2,388.7L299.5,388.4L299.8,388.2L300.1,388.2L300.4,389.2L300.7,388.6L301.0,388.3L301.3,387.5L301.6,388.6L301.9,388.0L302.2,387.5L302.5,388.3L302.8,387.9L303.1,388.3L303.4,388.4L303.7,388.2L304.0,387.9L304.3,388.2L304.6,389.7L304.9,387.8L305.2,387.7L305.5,387.9L305.8,387.7L306.1,388.1L306.4,387.9L306.7,388.5L307.0,388.4L307.3,388.8L307.6,388.3L307.9,388.5L308.2,388.5L308.5,386.8L308.8,388.4L309.1,388.1L309.4,387.9L309.7,388.3L310.0,388.0L310.3,388.7L310.6,388.6L310.9,387.6L311.2,388.8L311.5,387.5L311.8,388.6L312.1,389.4L312.4,389.0L312.7,387.7L313.0,389.2L313.3,389.3L313.6,388.5L313.9,388.5L314.2,389.4L314.5,388.6L314.8,387.5L315.1,388.3L315.4,388.4L315.7,388.7L316.0,389.4L316.3,388.7L316.6,389.0L316.9,387.6L317.2,387.9L317.5,388.4L317.8,388.6L318.1,389.6L318.4,389.2L318.7,387.7L319.0,388.8L319.3,387.9L319.6,388.1L319.9,388.4L320.2,388.3L320.5,388.5L320.8,388.1L321.1,388.8L321.4,388.2L321.7,388.2L322.0,388.0L322.3,388.4L322.6,387.9L322.9,387.9L323.2,388.8L323.5,388.6L323.8,388.6L324.1,388.4L324.4,387.9L324.7,387.6L325.0,388.9L325.3,388.4L325.6,388.7L325.9,388.4L326.2,388.8L326.5,387.8L326.8,388.9L327.1,387.2L327.4,388.5L327.7,389.1L328.0,388.6L328.3,388.5L328.6,388.0L328.9,388.9L329.2,388.4L329.5,388.8L329.8,388.7L330.1,388.2L330.4,388.1L330.7,388.8L331.0,388.7L331.3,388.5L331.6,388.7L331.9,388.0L332.2,388.4L332.5,388.8L332.8,388.5L333.1,387.0L333.4,388.5L333.7,388.1L334.0,388.2L334.3,388.5L334.6,389.2L334.9,387.3L335.2,387.9L335.5,389.4L335.8,388.0L336.1,389.3L336.4,389.1" fill="none" stroke="#ff0000" stroke-width="1.35" stroke-linejoin="round" stroke-linecap="butt" />
<path d="M34.6,388.3V390.8M35.7,388.3V390.5M36.2,388.3V391.0M38.4,388.3V387.3M40.4,388.3V389.6M41.8,388.3V391.2M43.0,388.3V389.9M44.5,388.3V390.6M46.1,388.3V387.1M46.3,388.3V387.1M48.0,388.3V391.0M51.1,388.3V393.0M53.9,388.3V389.4M59.4,388.3V397.0M59.7,388.3V387.1M60.2,388.3V389.4M60.3,388.3V390.1M60.7,388.3V386.9M64.8,388.3V389.3M67.0,388.3V390.2M68.2,388.3V391.4M70.3,388.3V387.3M73.6,388.3V389.5M76.1,388.3V391.6M76.3,388.3V391.8M78.4,388.3V386.8M84.1,388.3V391.0M86.7,388.3V390.0M86.8,388.3V391.1M87.1,388.3V386.8M88.1,388.3V391.6M88.2,388.3V391.5M94.6,388.3V391.2M100.0,388.3V391.0M102.1,388.3V391.2M103.2,388.3V390.4M105.0,388.3V387.1M105.3,388.3V387.3M106.0,388.3V389.8M106.3,388.3V386.7M106.5,388.3V391.8M109.2,388.3V387.4M109.3,388.3V390.0M111.1,388.3V391.1M114.0,388.3V391.2M116.2,388.3V387.2M117.3,388.3V390.6M122.5,388.3V387.1M126.7,388.3V391.2M129.4,388.3V390.3M130.6,388.3V390.9M131.3,388.3V390.9M132.1,388.3V396.0M133.0,388.3V396.0M133.5,388.3V390.5M136.0,388.3V387.1M137.3,388.3V391.3M138.9,388.3V389.8M141.1,388.3V386.7M142.8,388.3V391.8M143.8,388.3V389.7M144.2,388.3V387.0M144.3,388.3V386.8M147.8,388.3V391.1M149.8,388.3V390.3M152.2,388.3V390.6M157.8,388.3V392.0M161.2,388.3V386.7M162.8,388.3V389.7M164.4,388.3V389.9M169.1,388.3V387.0M170.3,388.3V390.7M172.4,388.3V390.1M177.2,388.3V404.0M177.4,388.3V389.9M177.9,388.3V402.0M178.6,388.3V404.0M179.9,388.3V398.0M180.7,388.3V389.6M180.8,388.3V396.0M183.4,388.3V391.6M184.2,388.3V390.9M185.1,388.3V390.7M187.2,388.3V390.3M187.6,388.3V390.8M191.0,388.3V387.0M192.8,388.3V391.3M193.2,388.3V390.6M197.5,388.3V389.9M199.3,388.3V391.0M199.3,388.3V390.1M201.7,388.3V390.2M204.0,388.3V390.3M205.6,388.3V389.7M205.9,388.3V387.4M216.7,388.3V404.0M218.1,388.3V390.2M218.6,388.3V390.0M218.7,388.3V391.0M220.2,388.3V387.1M223.0,388.3V389.9M223.7,388.3V391.2M227.1,388.3V386.7M227.7,388.3V390.0M228.6,388.3V390.3M230.9,388.3V390.7M231.6,388.3V391.2M239.9,388.3V390.8M240.0,388.3V391.5M240.7,388.3V389.7M250.5,388.3V390.3M251.6,388.3V390.6M254.6,388.3V390.0M255.2,388.3V389.5M256.0,388.3V389.5M256.7,388.3V390.6M259.1,388.3V391.4M260.4,388.3V392.0M264.3,388.3V391.2M269.3,388.3V391.5M270.5,388.3V391.6M273.0,388.3V391.0M274.9,388.3V386.7M282.0,388.3V387.0M282.3,388.3V390.0M285.1,388.3V386.7M288.0,388.3V391.0M293.2,388.3V387.3M294.5,388.3V391.5M294.8,388.3V389.4M299.2,388.3V389.6M300.2,388.3V391.7M300.5,388.3V389.8M300.7,388.3V390.2M303.0,388.3V389.7M303.9,388.3V386.6M306.8,388.3V389.6M308.4,388.3V390.5M309.2,388.3V389.7M311.3,388.3V391.1M311.5,388.3V391.7M312.2,388.3V389.7M313.7,388.3V389.9M318.1,388.3V389.6M326.2,388.3V391.5M327.4,388.3V389.3M327.8,388.3V390.3M328.2,388.3V389.3M329.1,388.3V390.4M330.7,388.3V391.5M333.2,388.3V390.1M334.3,388.3V389.8M334.4,388.3V389.9M334.4,388.3V390.0M335.1,388.3V386.8" fill="none" stroke="#ff0000" stroke-width="0.8"/>
<path d="M32.0,406.5L33.0,410.2L33.0,410.3L33.3,411.0L33.6,410.4L33.9,411.7L34.2,410.1L34.5,410.8L34.8,411.2L35.1,411.1L35.4,410.5L35.7,411.4L36.0,411.0L36.3,411.8L36.6,411.1L36.9,411.5L37.2,410.1L37.5,411.1L37.8,411.1L38.1,410.5L38.4,409.8L38.7,411.4L39.0,411.7L39.3,410.7L39.6,411.5L39.9,411.4L40.2,410.7L40.5,410.7L40.8,412.5L41.1,411.4L41.4,411.2L41.7,410.8L42.0,410.3L42.3,411.2L42.6,410.9L42.9,411.2L43.2,411.0L43.5,410.1L43.8,410.8L44.1,411.1L44.4,410.8L44.7,411.2L45.0,411.2L45.3,411.0L45.6,410.8L45.9,411.9L46.2,411.2L46.5,411.2L46.8,411.3L47.1,411.1L47.4,410.0L47.7,410.8L48.0,411.2L48.3,411.3L48.6,411.1L48.9,410.4L49.2,410.9L49.5,411.2L49.8,411.1L50.1,412.5L50.4,411.3L50.7,411.3L51.0,410.9L51.3,409.8L51.6,411.5L51.9,410.6L52.2,411.7L52.5,410.8L52.8,410.9L53.1,411.6L53.4,410.8L53.7,410.1L54.0,411.2L54.3,411.3L54.6,411.3L54.9,410.9L55.2,411.2L55.5,410.5L55.8,411.0L56.1,411.4L56.4,409.4L56.7,411.3L57.0,411.6L57.3,411.9L57.6,410.9L57.9,411.3L58.2,411.0L58.5,410.5L58.8,411.2L59.1,411.5L59.4,411.5L59.7,410.0L60.0,410.9L60.3,411.0L60.6,411.1L60.9,410.3L61.2,412.1L61.5,410.2L61.8,410.5L62.1,411.9L62.4,411.2L62.7,410.6L63.0,410.6L63.3,411.4L63.6,410.7L63.9,411.4L64.2,411.3L64.5,411.3L64.8,411.5L65.1,410.7L65.4,410.2L65.7,410.1L66.0,411.0L66.3,410.6L66.6,411.9L66.9,410.5L67.2,411.9L67.5,410.9L67.8,411.0L68.1,410.0L68.4,411.0L68.7,411.8L69.0,410.2L69.3,411.7L69.6,411.5L69.9,411.5L70.2,410.5L70.5,411.9L70.8,410.4L71.1,411.9L71.4,411.7L71.7,410.1L72.0,411.8L72.3,412.0L72.6,411.0L72.9,410.2L73.2,410.9L73.5,410.9L73.8,411.5L74.1,410.5L74.4,410.5L74.7,411.1L75.0,411.2L75.3,410.1L75.6,411.3L75.9,410.7L76.2,410.8L76.5,411.4L76.8,411.4L77.1,411.3L77.4,412.0L77.7,411.2L78.0,411.0L78.3,411.2L78.6,411.8L78.9,411.4L79.2,411.2L79.5,411.6L79.8,410.2L80.1,411.6L80.4,411.5L80.7,410.9L81.0,410.2L81.3,410.1L81.6,409.8L81.9,411.2L82.2,411.0L82.5,410.5L82.8,411.5L83.1,410.5L83.4,411.6L83.7,411.5L84.0,411.3L84.3,410.4L84.6,410.4L84.9,411.1L85.2,411.6L85.5,410.4L85.8,411.1L86.1,411.5L86.4,410.1L86.7,412.1L87.0,410.9L87.3,410.7L87.6,411.1L87.9,410.9L88.2,410.5L88.5,410.7L88.8,410.9L89.1,410.4L89.4,411.6L89.7,411.4L90.0,411.4L90.3,410.1L90.6,410.8L90.9,411.3L91.2,411.0L91.5,410.0L91.8,411.2L92.1,412.1L92.4,411.6L92.7,411.0L93.0,410.4L93.3,411.6L93.6,411.3L93.9,410.8L94.2,410.8L94.5,411.5L94.8,411.0L95.1,410.6L95.4,410.4L95.7,410.8L96.0,410.9L96.3,410.7L96.6,412.6L96.9,410.3L97.2,410.1L97.5,410.6L97.8,411.5L98.1,412.1L98.4,410.1L98.7,410.7L99.0,411.4L99.3,410.6L99.6,411.3L99.9,410.8L100.2,411.6L100.5,411.1L100.8,411.9L101.1,410.3L101.4,411.6L101.7,410.8L102.0,411.6L102.3,410.7L102.6,411.5L102.9,411.6L103.2,411.2L103.5,410.5L103.8,410.7L104.1,410.7L104.4,410.9L104.7,411.6L105.0,410.4L105.3,410.9L105.6,411.0L105.9,411.0L106.2,410.5L106.5,411.7L106.8,411.0L107.1,410.6L107.4,411.0L107.7,411.7L108.0,411.3L108.3,411.7L108.6,411.3L108.9,410.8L109.2,410.2L109.5,410.6L109.8,411.0L110.1,410.1L110.4,410.9L110.7,410.6L111.0,411.7L111.3,409.9L111.6,412.2L111.9,411.4L112.2,410.8L112.5,411.1L112.8,411.9L113.1,411.4L113.4,410.9L113.7,410.7L114.0,410.2L114.3,411.2L114.6,411.5L114.9,411.0L115.2,411.0L115.5,410.6L115.8,411.1L116.1,411.3L116.4,410.4L116.7,411.4L117.0,410.9L117.3,411.3L117.6,411.0L117.9,411.2L118.2,411.2L118.5,411.4L118.8,410.6L119.1,411.0L119.4,410.4L119.7,411.1L120.0,411.6L120.3,410.9L120.6,411.6L120.9,410.8L121.2,411.2L121.5,411.7L121.8,411.2L122.1,411.3L122.4,411.8L122.7,411.4L123.0,411.5L123.3,410.9L123.6,410.6L123.9,411.5L124.2,410.5L124.5,411.7L124.8,410.8L125.1,411.2L125.4,411.5L125.7,410.5L126.0,412.1L126.3,411.0L126.6,410.9L126.9,410.5L127.2,410.2L127.5,410.1L127.8,410.5L128.1,411.3L128.4,410.8L128.7,411.7L129.0,410.5L129.3,410.2L129.6,411.3L129.9,410.9L130.2,410.3L130.5,411.8L130.8,411.2L131.1,410.3L131.4,410.8L131.7,410.6L132.0,411.7L132.3,410.8L132.6,410.7L132.9,411.2L133.2,411.9L133.5,411.8L133.8,411.0L134.1,410.9L134.4,410.7L134.7,411.6L135.0,410.5L135.3,411.0L135.6,411.4L135.9,410.7L136.2,409.8L136.5,410.7L136.8,410.6L137.1,410.5L137.4,410.7L137.7,411.5L138.0,410.3L138.3,410.4L138.6,411.0L138.9,411.5L139.2,410.6L139.5,411.3L139.8,411.6L140.1,410.6L140.4,410.9L140.7,411.5L141.0,411.1L141.3,410.7L141.6,411.0L141.9,410.9L142.2,411.1L142.5,411.2L142.8,411.1L143.1,410.7L143.4,411.0L143.7,411.2L144.0,410.9L144.3,411.9L144.6,410.8L144.9,409.8L145.2,411.7L145.5,410.8L145.8,411.2L146.1,410.9L146.4,411.5L146.7,410.7L147.0,411.3L147.3,411.9L147.6,411.3L147.9,410.6L148.2,411.9L148.5,411.6L148.8,411.0L149.1,410.3L149.4,411.2L149.7,411.0L150.0,411.3L150.3,411.1L150.6,411.9L150.9,411.1L151.2,410.8L151.5,410.8L151.8,411.2L152.1,411.3L152.4,410.4L152.7,410.5L153.0,411.5L153.3,410.9L153.6,411.6L153.9,410.9L154.2,410.7L154.5,411.3L154.8,411.2L155.1,412.5L155.4,411.9L155.7,411.0L156.0,411.2L156.3,411.3L156.6,411.3L156.9,411.4L157.2,411.0L157.5,410.8L157.8,410.2L158.1,410.8L158.4,411.6L158.7,411.1L159.0,411.2L159.3,410.3L159.6,409.9L159.9,411.3L160.2,410.6L160.5,410.7L160.8,410.0L161.1,411.8L161.4,411.8L161.7,410.1L162.0,410.7L162.3,410.9L162.6,411.2L162.9,411.5L163.2,411.0L163.5,411.0L163.8,411.3L164.1,410.1L164.4,410.9L164.7,411.0L165.0,411.2L165.3,410.5L165.6,410.7L165.9,410.4L166.2,410.9L166.5,410.4L166.8,412.3L167.1,410.7L167.4,411.7L167.7,410.7L168.0,410.8L168.3,411.5L168.6,410.9L168.9,412.2L169.2,411.3L169.5,410.1L169.8,411.7L170.1,409.5L170.4,410.8L170.7,410.6L171.0,411.0L171.3,410.6L171.6,410.8L171.9,410.8L172.2,411.4L172.5,410.5L172.8,410.8L173.1,412.2L173.4,412.1L173.7,411.6L174.0,411.0L174.3,410.7L174.6,411.0L174.9,410.3L175.2,411.6L175.5,410.6L175.8,409.9L176.1,411.6L176.4,411.8L176.7,411.5L177.0,411.4L177.3,411.3L177.6,411.8L177.9,411.7L178.2,410.2L178.5,411.3L178.8,411.0L179.1,411.9L179.4,410.9L179.7,410.8L180.0,410.1L180.3,411.0L180.6,411.2L180.9,411.8L181.2,410.9L181.5,411.5L181.8,412.2L182.1,410.4L182.4,411.6L182.7,411.0L183.0,410.1L183.3,410.6L183.6,411.0L183.9,410.4L184.2,411.4L184.5,410.6L184.8,411.6L185.1,410.8L185.4,411.7L185.7,411.6L186.0,411.5L186.3,411.7L186.6,412.5L186.9,411.5L187.2,410.1L187.5,410.8L187.8,411.5L188.1,411.6L188.4,410.7L188.7,411.3L189.0,411.1L189.3,410.9L189.6,410.8L189.9,411.0L190.2,411.7L190.5,410.1L190.8,411.6L191.1,411.1L191.4,410.1L191.7,411.2L192.0,410.9L192.3,410.5L192.6,411.3L192.9,410.9L193.2,411.7L193.5,411.8L193.8,411.3L194.1,411.2L194.4,410.5L194.7,411.0L195.0,411.7L195.3,412.1L195.6,410.0L195.9,411.2L196.2,411.0L196.5,412.2L196.8,411.2L197.1,412.2L197.4,409.9L197.7,410.0L198.0,411.1L198.3,410.2L198.6,409.9L198.9,410.8L199.2,410.8L199.5,411.1L199.8,411.9L200.1,410.5L200.4,410.6L200.7,410.2L201.0,411.1L201.3,411.6L201.6,411.6L201.9,409.7L202.2,411.3L202.5,410.8L202.8,410.7L203.1,410.4L203.4,410.7L203.7,411.2L204.0,411.4L204.3,411.5L204.6,410.6L204.9,411.0L205.2,410.5L205.5,411.5L205.8,411.1L206.1,410.3L206.4,411.6L206.7,412.0L207.0,410.1L207.3,412.0L207.6,411.3L207.9,411.0L208.2,409.8L208.5,410.3L208.8,410.5L209.1,411.5L209.4,410.9L209.7,411.1L210.0,411.1L210.3,411.3L210.6,410.8L210.9,411.8L211.2,409.8L211.5,410.5L211.8,410.8L212.1,410.5L212.4,411.7L212.7,410.8L213.0,409.9L213.3,410.7L213.6,410.7L213.9,410.5L214.2,410.6L214.5,410.7L214.8,411.4L215.1,410.9L215.4,411.2L215.7,411.0L216.0,411.7L216.3,411.0L216.6,411.2L216.9,411.6L217.2,411.8L217.5,411.7L217.8,410.6L218.1,410.3L218.4,412.5L218.7,410.2L219.0,410.6L219.3,410.2L219.6,411.2L219.9,411.0L220.2,409.7L220.5,411.6L220.8,410.7L221.1,411.7L221.4,411.6L221.7,411.0L222.0,411.6L222.3,410.6L222.6,411.0L222.9,410.9L223.2,411.1L223.5,411.3L223.8,411.1L224.1,410.8L224.4,411.4L224.7,410.8L225.0,411.5L225.3,410.5L225.6,410.4L225.9,412.3L226.2,410.3L226.5,411.5L226.8,411.9L227.1,411.4L227.4,411.3L227.7,411.0L228.0,411.0L228.3,410.6L228.6,411.3L228.9,411.4L229.2,410.3L229.5,409.8L229.8,412.6L230.1,410.9L230.4,410.4L230.7,410.4L231.0,411.5L231.3,411.8L231.6,410.5L231.9,410.8L232.2,411.3L232.5,410.8L232.8,411.2L233.1,411.3L233.4,411.4L233.7,411.6L234.0,411.1L234.3,410.7L234.6,410.3L234.9,411.0L235.2,410.5L235.5,410.8L235.8,410.9L236.1,411.0L236.4,411.5L236.7,411.2L237.0,411.1L237.3,411.9L237.6,411.1L237.9,412.0L238.2,411.0L238.5,411.2L238.8,410.5L239.1,411.1L239.4,410.5L239.7,411.8L240.0,411.1L240.3,411.8L240.6,411.3L240.9,410.5L241.2,409.8L241.5,411.0L241.8,410.7L242.1,410.8L242.4,411.2L242.7,411.1L243.0,410.9L243.3,411.2L243.6,410.7L243.9,410.5L244.2,410.8L244.5,411.6L244.8,411.4L245.1,410.8L245.4,411.3L245.7,411.4L246.0,410.5L246.3,412.1L246.6,410.8L246.9,410.4L247.2,411.1L247.5,411.1L247.8,411.8L248.1,411.7L248.4,410.8L248.7,410.7L249.0,410.9L249.3,410.9L249.6,410.5L249.9,411.0L250.2,411.7L250.5,411.5L250.8,410.9L251.1,410.4L251.4,411.4L251.7,411.7L252.0,410.3L252.3,411.3L252.6,412.0L252.9,411.6L253.2,411.4L253.5,411.0L253.8,410.7L254.1,411.2L254.4,411.7L254.7,411.4L255.0,411.5L255.3,411.0L255.6,410.9L255.9,411.8L256.2,411.1L256.5,411.5L256.8,410.8L257.1,410.5L257.4,411.1L257.7,411.2L258.0,409.4L258.3,410.6L258.6,411.2L258.9,410.9L259.2,410.4L259.5,411.0L259.8,411.3L260.1,411.8L260.4,410.0L260.7,411.0L261.0,410.7L261.3,412.2L261.6,411.2L261.9,410.4L262.2,411.4L262.5,411.5L262.8,411.6L263.1,411.6L263.4,410.8L263.7,410.3L264.0,411.2L264.3,411.0L264.6,410.8L264.9,410.0L265.2,411.4L265.5,411.3L265.8,411.7L266.1,411.2L266.4,410.9L266.7,410.5L267.0,410.8L267.3,410.5L267.6,410.9L267.9,410.6L268.2,411.6L268.5,410.9L268.8,411.2L269.1,411.0L269.4,410.8L269.7,409.9L270.0,410.8L270.3,410.8L270.6,411.6L270.9,410.4L271.2,411.4L271.5,411.4L271.8,411.0L272.1,411.0L272.4,411.5L272.7,411.1L273.0,412.3L273.3,409.7L273.6,410.5L273.9,412.1L274.2,411.2L274.5,409.9L274.8,409.8L275.1,410.2L275.4,410.2L275.7,409.9L276.0,410.7L276.3,410.9L276.6,410.4L276.9,410.9L277.2,410.7L277.5,411.5L277.8,410.3L278.1,411.0L278.4,411.1L278.7,411.4L279.0,410.3L279.3,411.0L279.6,410.3L279.9,411.4L280.2,411.3L280.5,411.6L280.8,410.8L281.1,411.9L281.4,410.7L281.7,410.1L282.0,410.6L282.3,411.0L282.6,411.6L282.9,410.7L283.2,410.7L283.5,411.3L283.8,410.3L284.1,411.5L284.4,411.3L284.7,410.4L285.0,411.0L285.3,410.6L285.6,410.5L285.9,411.2L286.2,410.8L286.5,411.5L286.8,411.0L287.1,410.1L287.4,411.1L287.7,411.4L288.0,411.2L288.3,410.2L288.6,410.7L288.9,410.3L289.2,410.8L289.5,410.6L289.8,411.5L290.1,411.2L290.4,412.4L290.7,411.3L291.0,410.2L291.3,410.9L291.6,412.0L291.9,410.8L292.2,411.1L292.5,411.5L292.8,411.8L293.1,411.6L293.4,410.9L293.7,410.4L294.0,410.7L294.3,411.3L294.6,410.1L294.9,411.1L295.2,411.8L295.5,410.3L295.8,411.4L296.1,410.6L296.4,410.6L296.7,411.2L297.0,411.3L297.3,410.9L297.6,411.2L297.9,411.4L298.2,412.0L298.5,410.5L298.8,410.5L299.1,411.9L299.4,411.4L299.7,410.6L300.0,411.3L300.3,411.9L300.6,410.8L300.9,411.2L301.2,411.5L301.5,410.7L301.8,410.4L302.1,411.4L302.4,411.0L302.7,411.1L303.0,410.6L303.3,411.3L303.6,411.5L303.9,411.0L304.2,411.0L304.5,410.5L304.8,410.7L305.1,410.3L305.4,411.0L305.7,411.1L306.0,410.7L306.3,410.3L306.6,410.9L306.9,411.4L307.2,411.7L307.5,410.0L307.8,411.1L308.1,411.7L308.4,410.6L308.7,410.8L309.0,411.5L309.3,411.1L309.6,410.5L309.9,410.4L310.2,410.7L310.5,411.0L310.8,411.1L311.1,411.5L311.4,410.5L311.7,411.3L312.0,411.2L312.3,410.8L312.6,411.4L312.9,411.0L313.2,411.3L313.5,410.7L313.8,410.5L314.1,410.7L314.4,412.0L314.7,411.2L315.0,411.2L315.3,410.6L315.6,411.1L315.9,410.4L316.2,411.2L316.5,411.0L316.8,410.7L317.1,411.3L317.4,410.3L317.7,410.3L318.0,411.4L318.3,410.4L318.6,410.3L318.9,411.6L319.2,411.3L319.5,411.3L319.8,411.0L320.1,410.4L320.4,411.2L320.7,411.0L321.0,410.6L321.3,411.1L321.6,411.2L321.9,411.0L322.2,411.4L322.5,411.3L322.8,410.4L323.1,411.3L323.4,410.8L323.7,411.8L324.0,409.5L324.3,410.8L324.6,411.3L324.9,411.6L325.2,410.5L325.5,411.0L325.8,411.2L326.1,410.7L326.4,411.4L326.7,410.6L327.0,410.6L327.3,411.7L327.6,410.6L327.9,410.8L328.2,412.2L328.5,411.7L328.8,410.8L329.1,411.2L329.4,410.6L329.7,410.4L330.0,410.8L330.3,411.4L330.6,411.3L330.9,410.6L331.2,409.8L331.5,411.7L331.8,410.6L332.1,411.4L332.4,411.4L332.7,411.7L333.0,410.7L333.3,410.5L333.6,410.7L333.9,411.2L334.2,411.2L334.5,410.4L334.8,411.3L335.1,410.5L335.4,411.0L335.7,410.9L336.0,411.3" fill="none" stroke="#ff0000" stroke-width="1.35" stroke-linejoin="round" stroke-linecap="butt" />
<path d="M34.4,411.0V412.5M36.3,411.0V414.0M38.3,411.0V412.9M38.3,411.0V414.0M38.9,411.0V412.3M43.9,411.0V413.3M45.9,411.0V420.0M47.9,411.0V409.7M50.2,411.0V412.7M55.6,411.0V413.4M57.8,411.0V412.7M58.4,411.0V412.5M60.5,411.0V426.0M60.7,411.0V413.9M61.3,411.0V409.5M65.7,411.0V409.6M69.3,411.0V415.0M74.2,411.0V413.2M74.5,411.0V413.6M75.6,411.0V412.6M78.0,411.0V413.0M78.8,411.0V409.3M79.6,411.0V409.5M81.8,411.0V413.1M83.8,411.0V413.8M84.7,411.0V414.6M86.2,411.0V413.4M86.4,411.0V426.0M87.6,411.0V414.9M88.0,411.0V414.1M88.1,411.0V412.7M90.1,411.0V414.8M91.4,411.0V412.2M91.4,411.0V409.6M92.9,411.0V410.1M93.1,411.0V412.0M94.2,411.0V415.0M95.8,411.0V413.2M97.4,411.0V412.2M98.6,411.0V414.5M100.4,411.0V412.6M101.6,411.0V409.4M102.5,411.0V409.4M102.7,411.0V412.8M103.4,411.0V414.2M105.9,411.0V412.4M106.0,411.0V409.9M106.9,411.0V414.0M110.5,411.0V412.7M110.5,411.0V414.5M111.3,411.0V412.2M112.0,411.0V410.0M113.4,411.0V414.8M113.6,411.0V412.1M114.5,411.0V414.8M115.5,411.0V412.2M119.6,411.0V418.0M120.6,411.0V414.9M121.1,411.0V409.6M125.8,411.0V418.0M126.8,411.0V409.9M127.3,411.0V409.5M129.3,411.0V412.6M136.5,411.0V413.5M142.0,411.0V414.0M144.0,411.0V413.6M144.4,411.0V414.7M146.3,411.0V412.5M149.7,411.0V409.5M156.3,411.0V413.0M156.5,411.0V412.2M159.5,411.0V413.4M160.0,411.0V415.0M160.5,411.0V412.2M161.3,411.0V409.7M163.5,411.0V414.9M170.1,411.0V413.2M170.6,411.0V413.7M171.3,411.0V412.7M172.7,411.0V414.2M175.5,411.0V414.2M175.9,411.0V414.0M177.0,411.0V414.0M177.5,411.0V413.5M178.9,411.0V412.5M184.2,411.0V413.8M188.4,411.0V412.3M188.9,411.0V412.1M191.3,411.0V413.0M192.0,411.0V412.7M193.4,411.0V414.5M195.1,411.0V414.2M195.7,411.0V412.7M200.0,411.0V415.0M202.8,411.0V412.2M204.2,411.0V410.1M207.8,411.0V413.1M209.2,411.0V414.7M209.5,411.0V414.8M210.6,411.0V410.0M210.6,411.0V414.4M214.2,411.0V414.7M215.1,411.0V414.5M216.7,411.0V426.0M217.1,411.0V412.8M217.6,411.0V410.1M225.3,411.0V414.1M230.0,411.0V416.0M230.3,411.0V412.4M233.9,411.0V413.1M235.6,411.0V412.1M238.3,411.0V412.2M238.8,411.0V412.0M242.4,411.0V409.6M242.8,411.0V420.0M243.9,411.0V412.0M244.1,411.0V412.8M246.4,411.0V413.3M247.5,411.0V409.4M247.9,411.0V413.9M248.5,411.0V415.0M248.7,411.0V412.4M251.5,411.0V410.1M252.5,411.0V410.0M252.5,411.0V410.2M257.3,411.0V414.6M257.6,411.0V413.9M259.9,411.0V413.7M262.6,411.0V418.0M265.2,411.0V412.9M265.4,411.0V412.4M271.1,411.0V412.7M272.8,411.0V410.0M272.9,411.0V414.2M275.3,411.0V412.0M276.0,411.0V410.1M276.5,411.0V414.8M277.5,411.0V414.0M283.6,411.0V409.5M283.9,411.0V412.0M286.2,411.0V413.9M290.8,411.0V425.0M293.6,411.0V414.9M296.7,411.0V413.3M298.2,411.0V413.8M298.8,411.0V409.7M302.2,411.0V414.0M305.0,411.0V413.7M305.3,411.0V414.9M306.3,411.0V410.0M307.8,411.0V426.0M310.2,411.0V412.3M316.2,411.0V414.9M317.7,411.0V413.2M320.3,411.0V413.5M320.4,411.0V412.7M323.5,411.0V409.4M324.0,411.0V412.4M324.2,411.0V413.0M324.4,411.0V414.7M324.4,411.0V420.0M324.6,411.0V414.3M325.8,411.0V412.6M333.5,411.0V413.9M335.8,411.0V426.0" fill="none" stroke="#ff0000" stroke-width="0.8"/>
<line x1="31.40" y1="359.10" x2="336.50" y2="359.10" stroke="#999" stroke-width="1.4" stroke-dasharray="2.9 2.6"/>
<line x1="31.40" y1="365.10" x2="336.50" y2="365.10" stroke="#999" stroke-width="1.4" stroke-dasharray="2.9 2.6"/>
<line x1="31.40" y1="379.90" x2="336.50" y2="379.90" stroke="#999" stroke-width="1.4" stroke-dasharray="2.9 2.6"/>
<line x1="31.40" y1="388.30" x2="336.50" y2="388.30" stroke="#999" stroke-width="1.4" stroke-dasharray="2.9 2.6"/>
<line x1="31.40" y1="404.40" x2="336.50" y2="404.40" stroke="#999" stroke-width="1.4" stroke-dasharray="2.9 2.6"/>
<line x1="31.40" y1="411.00" x2="336.50" y2="411.00" stroke="#999" stroke-width="1.4" stroke-dasharray="2.9 2.6"/>
<line x1="31.40" y1="426.20" x2="336.50" y2="426.20" stroke="#999" stroke-width="1.4" stroke-dasharray="2.9 2.6"/>
<line x1="31.40" y1="359.10" x2="336.50" y2="359.10" stroke="#5a5a5a" stroke-width="0.7" stroke-dasharray="2.9 2.6"/>
<line x1="31.40" y1="379.90" x2="336.50" y2="379.90" stroke="#5a5a5a" stroke-width="0.7" stroke-dasharray="2.9 2.6"/>
<line x1="31.40" y1="388.30" x2="336.50" y2="388.30" stroke="#5a5a5a" stroke-width="0.7" stroke-dasharray="2.9 2.6"/>
<line x1="31.40" y1="411.00" x2="336.50" y2="411.00" stroke="#5a5a5a" stroke-width="0.7" stroke-dasharray="2.9 2.6"/>
<text x="383.18" y="156.80" font-family="Liberation Sans" font-size="19.57" font-weight="bold" fill="#000" textLength="12.51" lengthAdjust="spacingAndGlyphs">E</text>
<text x="634.57" y="123.80" font-family="Liberation Sans" font-size="8.29" font-weight="bold" fill="#000" textLength="30.05" lengthAdjust="spacingAndGlyphs">100 nM</text>
<text x="634.61" y="134.70" font-family="Liberation Sans" font-size="8.26" font-weight="bold" fill="#000" textLength="15.17" lengthAdjust="spacingAndGlyphs">RTX</text>
<line x1="642.20" y1="139.30" x2="642.20" y2="147.00" stroke="#000" stroke-width="1.3" />
<path d="M639.5,145.5 L644.9,145.5 L642.2,150.8Z" fill="#000"/>
<text x="686.51" y="150.60" font-family="Liberation Sans" font-size="8.43" font-weight="bold" fill="#000" textLength="22.32" lengthAdjust="spacingAndGlyphs">10 pA</text>
<text x="721.98" y="162.70" font-family="Liberation Sans" font-size="7.86" font-weight="bold" fill="#000" textLength="18.04" lengthAdjust="spacingAndGlyphs">0.5 s</text>
<path d="M712.6,138.3L712.6,154.2L744.3,154.2" fill="none" stroke="#333" stroke-width="1.1" stroke-linejoin="round" stroke-linecap="butt" />
<text x="396.68" y="216.50" font-family="Liberation Sans" font-size="8.26" font-weight="bold" fill="#000" textLength="17.82" lengthAdjust="spacingAndGlyphs">Bath</text>
<line x1="418.30" y1="213.50" x2="426.50" y2="213.50" stroke="#000" stroke-width="1.3" />
<path d="M425,210.8 L430,213.5 L425,216.2Z" fill="#000"/>
<text x="422.47" y="298.30" font-family="Liberation Sans" font-size="8.43" font-weight="bold" fill="#000" textLength="6.49" lengthAdjust="spacingAndGlyphs">O</text>
<text x="422.91" y="312.50" font-family="Liberation Sans" font-size="8.71" font-weight="bold" fill="#000" textLength="5.29" lengthAdjust="spacingAndGlyphs">C</text>
<path d="M436.4,166.0L436.7,164.9L437.0,164.6L437.3,164.7L437.6,165.1L437.9,165.2L438.2,165.3L438.5,164.8L438.8,164.7L439.1,165.1L439.4,165.6L439.7,165.4L440.0,165.5L440.3,165.3L440.6,165.5L440.9,164.9L441.2,165.5L441.5,165.4L441.8,165.4L442.1,165.0L442.4,165.0L442.7,164.9L443.0,165.6L443.3,164.6L443.6,165.0L443.9,165.2L444.2,164.7L444.5,165.2L444.8,165.5L445.1,165.3L445.4,164.7L445.7,165.1L446.0,164.8L446.3,164.2L446.6,165.4L446.9,165.3L447.2,164.6L447.5,165.5L447.8,165.4L448.1,165.9L448.4,165.3L448.7,165.7L449.0,165.0L449.3,165.0L449.6,165.8L449.9,165.4L450.2,165.7L450.5,165.0L450.8,165.1L451.1,165.4L451.4,164.9L451.7,165.4L452.0,164.6L452.3,164.4L452.6,165.0L452.9,165.3L453.2,165.8L453.5,165.1L453.8,165.2L454.1,165.0L454.4,165.2L454.7,165.5L455.0,165.3L455.3,165.2L455.6,165.2L455.9,165.0L456.2,165.4L456.5,165.8L456.8,164.7L457.1,165.8L457.4,164.3L457.7,164.5L458.0,165.3L458.3,164.9L458.6,165.9L458.9,165.3L459.2,164.6L459.5,165.1L459.8,165.3L460.1,165.5L460.4,164.9L460.7,164.6L461.0,164.6L461.3,165.4L461.6,165.5L461.9,164.5L462.2,165.2L462.5,164.9L462.8,165.2L463.1,165.4L463.4,165.0L463.7,165.1L464.0,164.4L464.3,165.1L464.6,165.6L464.9,164.9L465.2,165.3L465.5,165.3L465.8,166.0L466.1,164.8L466.4,165.4L466.7,165.0L467.0,165.1L467.3,165.1L467.6,164.5L467.9,165.3L468.2,164.9L468.5,165.2L468.8,165.4L469.1,165.0L469.4,164.6L469.7,164.7L470.0,165.3L470.3,165.5L470.6,165.7L470.9,164.7L471.2,165.2L471.5,165.2L471.8,164.9L472.1,165.0L472.4,164.8L472.7,165.2L473.0,165.0L473.3,165.0L473.6,165.6L473.9,164.8L474.2,165.1L474.5,164.9L474.8,165.0L475.1,165.1L475.4,165.1L475.7,165.2L476.0,164.8L476.3,165.3L476.6,164.7L476.9,164.7L477.2,164.8L477.5,165.5L477.8,165.5L478.1,164.9L478.4,165.8L478.7,165.2L479.0,164.6L479.3,165.2L479.6,164.8L479.9,164.7L480.2,164.3L480.5,165.2L480.8,165.2L481.1,164.7L481.4,165.3L481.7,165.2L482.0,165.3L482.3,165.3L482.6,164.8L482.9,165.2L483.2,165.3L483.5,164.9L483.8,165.0L484.1,164.7L484.4,165.2L484.7,164.7L485.0,165.3L485.3,165.1L485.6,165.0L485.9,165.3L486.2,165.0L486.5,165.7L486.8,165.2L487.1,164.7L487.4,164.9L487.7,165.2L488.0,165.7L488.3,164.9L488.6,165.6L488.9,165.2L489.2,165.6L489.5,164.9L489.8,164.8L490.1,165.0L490.4,165.1L490.7,164.8L491.0,164.7L491.3,165.4L491.6,165.5L491.9,165.1L492.2,164.9L492.5,165.5L492.8,164.5L493.1,165.4L493.4,165.2L493.7,165.3L494.0,165.2L494.3,165.4L494.6,165.3L494.9,165.1L495.2,165.4L495.5,164.8L495.8,165.2L496.1,165.2L496.4,164.6L496.7,165.3L497.0,165.3L497.3,165.4L497.6,165.1L497.9,165.5L498.2,165.4L498.5,165.3L498.8,164.0L499.1,165.1L499.4,165.2L499.7,165.1L500.0,164.7L500.3,165.4L500.6,165.0L500.9,165.0L501.2,165.2L501.5,165.5L501.8,165.0L502.1,164.8L502.4,165.2L502.7,165.2L503.0,164.4L503.3,164.9L503.6,165.1L503.9,164.5L504.2,165.5L504.5,164.7L504.8,165.4L505.1,164.7L505.4,165.0L505.7,164.9L506.0,165.0L506.3,164.4L506.6,164.9L506.9,165.4L507.2,165.3L507.5,165.8L507.8,164.4L508.1,165.6L508.4,165.1L508.7,164.6L509.0,164.6L509.3,164.9L509.6,165.1L509.9,164.9L510.2,165.6L510.5,165.1L510.8,164.9L511.1,164.8L511.4,164.7L511.7,165.1L512.0,165.0L512.3,164.8L512.6,165.2L512.9,164.8L513.2,164.9L513.5,165.5L513.8,165.5L514.1,165.0L514.4,165.7L514.7,164.9L515.0,165.5L515.3,165.2L515.6,164.9L515.9,165.1L516.2,165.0L516.5,165.2L516.8,165.1L517.1,165.0L517.4,164.8L517.7,165.3L518.0,165.4L518.3,164.7L518.6,165.1L518.9,165.4L519.2,165.4L519.5,164.8L519.8,166.0L520.1,164.8L520.4,165.4L520.7,165.2L521.0,166.0L521.3,164.9L521.6,165.6L521.9,165.3L522.2,164.8L522.5,165.1L522.8,164.8L523.1,165.2L523.4,165.2L523.7,164.4L524.0,165.3L524.3,165.2L524.6,165.5L524.9,165.1L525.2,164.8L525.5,165.3L525.8,165.4L526.1,164.4L526.4,165.5L526.7,165.3L527.0,164.9L527.3,164.8L527.6,165.0L527.9,165.5L528.2,165.2L528.5,165.4L528.8,164.9L529.1,164.6L529.4,164.8L529.7,165.8L530.0,165.4L530.3,165.3L530.6,165.3L530.9,165.1L531.2,165.0L531.5,165.0L531.8,165.2L532.1,165.0L532.4,165.1L532.7,165.2L533.0,165.3L533.3,165.2L533.6,165.2L533.9,165.2L534.2,165.5L534.5,165.5L534.8,165.6L535.1,164.9L535.4,165.2L535.7,165.1L536.0,165.8L536.3,165.7L536.6,165.3L536.9,165.8L537.2,165.6L537.5,164.7L537.8,165.4L538.1,165.2L538.4,165.0L538.7,165.6L539.0,165.3L539.3,164.6L539.6,164.8L539.9,165.0L540.2,165.5L540.5,165.2L540.8,165.4L541.1,165.0L541.4,165.6L541.7,165.0L542.0,165.4L542.3,165.0L542.6,165.0L542.9,165.2L543.2,164.7L543.5,165.1L543.8,165.3L544.1,164.7L544.4,165.1L544.7,165.0L545.0,164.8L545.3,164.5L545.6,165.5L545.9,165.0L546.2,166.1L546.5,165.9L546.8,164.4L547.1,165.4L547.4,165.0L547.7,165.3L548.0,164.7L548.3,165.4L548.6,166.2L548.9,164.7L549.2,164.6L549.5,165.0L549.8,165.0L550.1,165.2L550.4,164.9L550.7,165.1L551.0,165.6L551.3,165.2L551.6,165.5L551.9,165.1L552.2,164.9L552.5,165.0L552.8,165.0L553.1,164.6L553.4,165.2L553.7,165.1L554.0,165.0L554.3,165.4L554.6,165.9L554.9,164.8L555.2,165.3L555.5,164.7L555.8,165.5L556.1,165.1L556.4,164.6L556.7,164.7L557.0,165.4L557.3,164.9L557.6,165.1L557.9,166.0L558.2,164.8L558.5,165.3L558.8,164.0L559.1,164.4L559.4,165.2L559.7,165.1L560.0,165.7L560.3,164.9L560.6,164.3L560.9,165.5L561.2,164.5L561.5,165.0L561.8,165.7L562.1,164.8L562.4,165.1L562.7,164.7L563.0,165.6L563.3,165.5L563.6,164.5L563.9,165.0L564.2,164.9L564.5,165.4L564.8,165.5L565.1,165.2L565.4,165.4L565.7,165.3L566.0,165.2L566.3,165.0L566.6,164.9L566.9,165.3L567.2,164.8L567.5,165.3L567.8,164.9L568.1,165.1L568.4,165.4L568.7,165.5L569.0,165.1L569.3,165.1L569.6,165.1L569.9,165.3L570.2,164.8L570.5,166.0L570.8,165.1L571.1,165.1L571.4,165.4L571.7,165.3L572.0,165.1L572.3,165.0L572.6,164.7L572.9,164.8L573.2,165.1L573.5,164.9L573.8,166.0L574.1,164.4L574.4,165.9L574.7,165.2L575.0,165.0L575.3,165.1L575.6,165.0L575.9,164.9L576.2,164.5L576.5,165.0L576.8,164.7L577.1,165.2L577.4,164.9L577.7,164.8L578.0,165.0L578.3,164.9L578.6,165.2L578.9,165.0L579.2,164.7L579.5,165.2L579.8,164.6L580.1,164.5L580.4,164.6L580.7,165.3L581.0,164.7L581.3,164.7L581.6,165.8L581.9,165.0L582.2,165.2L582.5,164.8L582.8,165.6L583.1,165.6L583.4,164.9L583.7,164.7L584.0,164.4L584.3,165.2L584.6,164.7L584.9,164.5L585.2,165.2L585.5,165.0L585.8,165.3L586.1,164.6L586.4,164.7L586.7,165.1L587.0,165.6L587.3,165.2L587.6,165.0L587.9,165.4L588.2,165.4L588.5,164.7L588.8,165.8L589.1,165.5L589.4,165.1L589.7,165.2L590.0,164.6L590.3,165.5L590.6,165.9L590.9,165.2L591.2,165.2L591.5,165.0L591.8,165.1L592.1,164.7L592.4,165.1L592.7,165.4L593.0,165.0L593.3,165.5L593.6,164.6L593.9,164.9L594.2,165.0L594.5,165.0L594.8,165.5L595.1,164.7L595.4,165.4L595.7,164.8L596.0,165.1L596.3,164.2L596.6,164.4L596.9,165.2L597.2,165.4L597.5,165.3L597.8,165.1L598.1,165.4L598.4,165.2L598.7,165.4L599.0,164.6L599.3,165.8L599.6,165.0L599.9,164.7L600.2,164.9L600.5,165.4L600.8,165.1L601.1,165.1L601.4,165.6L601.7,165.5L602.0,165.3L602.3,164.8L602.6,165.4L602.9,165.0L603.2,165.2L603.5,165.0L603.8,164.5L604.1,165.0L604.4,165.0L604.7,164.5L605.0,164.7L605.3,165.7L605.6,165.1L605.9,165.8L606.2,165.3L606.5,165.0L606.8,164.9L607.1,165.7L607.4,164.8L607.7,165.3L608.0,164.9L608.3,164.8L608.6,164.9L608.9,164.9L609.2,165.7L609.5,164.9L609.8,164.9L610.1,164.3L610.4,164.9L610.7,164.4L611.0,164.8L611.3,164.1L611.6,164.7L611.9,165.5L612.2,165.2L612.5,164.6L612.8,164.9L613.1,165.6L613.4,165.0L613.7,164.6L614.0,165.2L614.3,164.6L614.6,165.0L614.9,165.2L615.2,165.1L615.5,164.8L615.8,165.7L616.1,165.7L616.4,165.3L616.7,165.6L617.0,165.2L617.3,165.2L617.6,164.9L617.9,164.9L618.2,165.3L618.5,165.0L618.8,164.7L619.1,164.9L619.4,164.9L619.7,164.4L620.0,164.6L620.3,165.3L620.6,164.3L620.9,165.1L621.2,165.5L621.5,164.9L621.8,165.3L622.1,165.2L622.4,164.9L622.7,164.5L623.0,164.9L623.3,165.2L623.6,165.1L623.9,165.0L624.2,165.5L624.5,165.3L624.8,165.0L625.1,165.3L625.4,164.8L625.7,164.3L626.0,164.9L626.3,165.4L626.6,165.2L626.9,165.2L627.2,165.3L627.5,164.9L627.8,165.6L628.1,164.9L628.4,165.0L628.7,165.2L629.0,164.7L629.3,165.5L629.6,165.6L629.9,165.2L630.2,164.9L630.5,165.7L630.8,164.9L631.1,165.1L631.4,165.1L631.7,165.5L632.0,164.6L632.3,165.6L632.6,165.4L632.9,165.2L633.2,164.6L633.5,165.6L633.8,164.2L634.1,164.8L634.4,165.7L634.7,165.4L635.0,165.0L635.3,164.9L635.6,164.6L635.9,165.4L636.2,164.7L636.5,165.1L636.8,165.4L637.1,164.9L637.4,165.0L637.7,165.6L638.0,164.5L638.3,165.1L638.6,165.6L638.9,165.0L639.2,164.9L639.5,165.2L639.8,164.5L640.1,165.0L640.4,165.2L640.7,165.0L641.0,165.7L641.3,164.5L641.6,165.2L641.9,165.2L642.2,165.2L642.5,164.7L642.8,165.7" fill="none" stroke="#000" stroke-width="1.2" stroke-linejoin="round" stroke-linecap="butt" />
<path d="M436.4,165.1V147.8M438.3,165.1V152.8M508.2,165.1V149.3M527.7,165.1V149.3M566.8,165.1V150.8M589.9,165.1V149.6M591.0,165.1V150.0M593.2,165.1V156.3M629.5,165.1V155.0M631.2,165.1V157.0" fill="none" stroke="#000" stroke-width="0.75"/>
<path d="M643.0,164.0L643.3,163.9L643.6,163.8L643.9,163.7L644.2,163.9L644.5,164.1L644.8,164.4L645.1,165.1L645.4,165.1L645.7,164.9L646.0,165.2L646.3,165.4L646.6,165.3L646.9,165.6L647.2,165.4L647.5,164.6L647.8,165.0L648.1,164.3L648.4,164.4L648.7,164.0L649.0,163.8L649.3,164.0L649.6,163.7L649.9,164.3L650.2,164.0L650.5,164.3L650.8,164.1L651.1,165.1L651.4,164.5L651.7,164.7L652.0,164.6L652.3,165.8L652.6,165.7L652.9,165.3L653.2,164.8L653.5,165.0L653.8,165.0L654.1,165.0L654.4,164.9L654.7,164.6L655.0,164.1L655.3,163.8L655.6,163.0L655.9,164.2L656.2,163.5L656.5,164.0L656.8,164.4L657.1,163.8L657.4,164.4L657.7,164.9L658.0,164.7L658.3,164.8L658.6,165.7L658.9,165.2L659.2,165.3L659.5,165.6L659.8,165.1L660.1,165.3L660.4,164.1L660.7,164.6L661.0,164.8L661.3,163.7L661.6,163.1L661.9,163.9L662.2,164.2L662.5,164.4L662.8,163.6L663.1,163.7L663.4,163.6L663.7,165.1L664.0,165.4L664.3,165.2L664.6,165.4L664.9,165.1L665.2,165.5L665.5,165.2L665.8,165.3L666.1,164.8L666.4,164.7L666.7,164.8L667.0,164.6L667.3,163.7L667.6,164.7L667.9,164.3L668.2,163.9L668.5,164.1L668.8,163.6L669.1,164.2L669.4,164.8L669.7,164.0L670.0,164.5L670.3,164.7L670.6,165.2L670.9,165.4L671.2,165.0L671.5,165.4L671.8,164.5L672.1,165.5L672.4,164.8L672.7,165.0L673.0,164.4L673.3,164.4L673.6,164.5L673.9,163.8L674.2,163.5L674.5,163.7L674.8,163.8L675.1,164.2L675.4,163.8L675.7,164.3L676.0,164.9L676.3,164.7L676.6,165.0L676.9,165.3L677.2,165.5L677.5,165.6L677.8,165.5L678.1,164.7L678.4,165.2L678.7,165.5L679.0,164.4L679.3,164.6L679.6,164.2L679.9,164.0L680.2,164.3L680.5,164.0L680.8,163.7L681.1,163.6L681.4,164.5L681.7,163.9L682.0,164.3L682.3,164.7L682.6,164.4L682.9,164.9L683.2,165.3L683.5,165.4L683.8,165.3L684.1,165.4L684.4,165.2L684.7,164.7L685.0,164.8L685.3,165.0L685.6,164.4L685.9,164.4L686.2,164.2L686.5,164.4L686.8,163.4L687.1,163.9L687.4,163.6L687.7,164.5L688.0,163.9L688.3,164.2L688.6,164.4L688.9,165.2L689.2,165.4L689.5,166.0L689.8,165.2L690.1,165.1L690.4,165.3L690.7,165.1L691.0,164.9L691.3,165.0L691.6,164.6L691.9,164.3L692.2,163.6L692.5,164.2L692.8,163.9L693.1,163.3L693.4,163.8L693.7,164.1L694.0,164.0L694.3,164.1L694.6,164.5L694.9,164.5L695.2,165.0L695.5,164.8L695.8,165.7L696.1,164.6L696.4,164.8L696.7,165.9L697.0,165.8L697.3,165.0L697.6,165.1L697.9,164.6L698.2,163.9L698.5,164.4L698.8,163.8L699.1,164.0L699.4,163.9L699.7,163.5L700.0,164.0L700.3,163.8L700.6,164.9L700.9,164.7L701.2,164.9L701.5,165.4L701.8,165.5L702.1,165.4L702.4,165.1L702.7,164.9L703.0,165.1L703.3,164.9L703.6,164.9L703.9,164.2L704.2,164.5L704.5,164.6L704.8,163.6L705.1,163.6L705.4,163.9L705.7,164.1L706.0,163.8L706.3,164.1L706.6,163.9L706.9,164.8L707.2,164.5L707.5,164.8L707.8,165.1L708.1,165.1L708.4,165.4L708.7,165.2L709.0,165.5L709.3,165.4L709.6,164.8L709.9,164.8L710.2,165.1L710.5,163.9L710.8,164.0L711.1,164.5L711.4,163.7L711.7,163.4L712.0,163.8L712.3,164.7L712.6,164.1L712.9,164.3L713.2,164.4L713.5,165.0L713.8,165.1L714.1,165.5L714.4,165.4L714.7,165.4L715.0,165.5L715.3,165.1L715.6,165.8L715.9,165.0L716.2,164.7L716.5,164.7L716.8,164.5L717.1,164.3L717.4,164.1L717.7,164.0L718.0,163.8L718.3,164.2L718.6,163.7L718.9,164.2L719.2,163.9L719.5,164.5L719.8,164.8L720.1,164.8L720.4,165.7L720.7,165.1L721.0,165.1L721.3,165.2L721.6,165.2L721.9,165.3L722.2,165.2L722.5,164.4L722.8,165.0L723.1,164.6L723.4,164.1L723.7,163.8L724.0,163.7L724.3,163.6L724.6,163.3L724.9,163.9L725.2,164.0L725.5,164.7L725.8,164.6L726.1,164.7L726.4,164.9L726.7,165.1L727.0,165.6L727.3,165.4L727.6,165.3L727.9,165.1L728.2,165.0L728.5,165.0L728.8,164.8L729.1,164.7L729.4,164.4L729.7,164.4L730.0,164.2L730.3,164.0L730.6,163.9L730.9,163.8L731.2,164.2L731.5,164.8L731.8,163.8L732.1,164.9L732.4,164.8L732.7,165.4L733.0,165.6L733.3,165.3L733.6,166.0L733.9,165.2L734.2,165.3L734.5,165.3L734.8,164.9L735.1,164.5L735.4,164.6L735.7,163.7L736.0,163.9L736.3,163.4L736.6,164.4L736.9,164.3L737.2,164.4L737.5,164.5L737.8,164.3L738.1,164.3L738.4,164.7L738.7,164.8L739.0,165.2L739.3,165.3L739.6,165.7L739.9,165.3L740.2,165.4L740.5,164.8L740.8,165.0L741.1,164.5L741.4,164.4L741.7,164.2L742.0,163.9L742.3,163.9L742.6,164.1L742.9,163.5L743.2,163.2L743.5,164.4L743.8,164.9L744.1,164.2L744.4,165.1L744.7,165.1L745.0,165.1L745.3,164.9L745.6,166.1L745.9,165.5L746.2,165.0L746.5,165.4L746.8,165.2L747.1,164.6L747.4,165.3L747.7,164.5L748.0,164.1L748.3,164.1L748.6,164.5L748.9,164.5L749.2,163.8L749.5,163.7L749.8,164.5L750.1,164.8L750.4,164.3L750.7,164.4L751.0,165.2L751.3,165.4L751.6,165.3L751.9,165.4L752.2,165.3L752.5,165.4L752.8,165.3L753.1,165.0L753.4,165.3L753.7,164.4L754.0,164.3L754.3,164.0L754.6,163.8L754.9,163.5L755.2,163.6L755.5,163.9L755.8,163.4L756.1,164.1L756.4,164.8" fill="none" stroke="#ff0000" stroke-width="1.2" stroke-linejoin="round" stroke-linecap="butt" />
<path d="M436.4,180.5L436.9,183.5L438.0,185.0L438.0,185.9L438.3,185.6L438.6,185.6L438.9,184.9L439.2,185.5L439.5,184.9L439.8,185.2L440.1,185.0L440.4,185.6L440.7,184.6L441.0,186.1L441.3,185.4L441.6,185.3L441.9,185.2L442.2,184.9L442.5,184.8L442.8,185.5L443.1,185.1L443.4,185.5L443.7,186.1L444.0,185.4L444.3,185.6L444.6,185.2L444.9,185.0L445.2,185.4L445.5,186.1L445.8,185.6L446.1,185.5L446.4,185.0L446.7,185.3L447.0,185.9L447.3,185.4L447.6,184.9L447.9,185.1L448.2,185.5L448.5,185.5L448.8,184.5L449.1,185.4L449.4,185.1L449.7,184.3L450.0,184.7L450.3,185.2L450.6,184.9L450.9,185.4L451.2,185.4L451.5,185.3L451.8,185.2L452.1,185.5L452.4,184.7L452.7,184.5L453.0,185.4L453.3,185.8L453.6,185.1L453.9,185.7L454.2,185.6L454.5,185.0L454.8,185.4L455.1,185.9L455.4,185.0L455.7,185.5L456.0,185.5L456.3,185.0L456.6,185.7L456.9,185.1L457.2,185.7L457.5,185.4L457.8,185.1L458.1,185.2L458.4,184.9L458.7,186.2L459.0,185.0L459.3,185.0L459.6,185.8L459.9,185.6L460.2,185.6L460.5,184.9L460.8,184.9L461.1,185.2L461.4,185.4L461.7,185.7L462.0,185.7L462.3,185.5L462.6,185.6L462.9,184.7L463.2,184.7L463.5,185.0L463.8,185.3L464.1,185.0L464.4,185.1L464.7,185.3L465.0,185.1L465.3,185.3L465.6,185.7L465.9,185.5L466.2,185.2L466.5,185.4L466.8,185.5L467.1,185.4L467.4,185.7L467.7,184.8L468.0,185.7L468.3,184.9L468.6,185.6L468.9,184.8L469.2,185.7L469.5,185.6L469.8,185.1L470.1,185.6L470.4,185.2L470.7,185.8L471.0,185.2L471.3,185.1L471.6,184.9L471.9,185.3L472.2,185.5L472.5,185.6L472.8,185.1L473.1,185.2L473.4,184.9L473.7,185.0L474.0,185.3L474.3,185.5L474.6,185.6L474.9,185.1L475.2,184.8L475.5,185.9L475.8,185.3L476.1,185.2L476.4,185.4L476.7,185.3L477.0,185.6L477.3,185.5L477.6,184.8L477.9,185.2L478.2,185.6L478.5,185.2L478.8,185.6L479.1,184.9L479.4,185.9L479.7,185.4L480.0,184.7L480.3,185.7L480.6,184.9L480.9,185.4L481.2,185.4L481.5,185.5L481.8,185.6L482.1,184.6L482.4,185.2L482.7,184.9L483.0,185.1L483.3,185.4L483.6,186.4L483.9,185.3L484.2,184.9L484.5,186.4L484.8,185.6L485.1,185.3L485.4,186.1L485.7,185.7L486.0,185.7L486.3,184.8L486.6,186.0L486.9,185.2L487.2,185.5L487.5,185.5L487.8,186.0L488.1,185.9L488.4,185.2L488.7,185.2L489.0,185.0L489.3,185.3L489.6,185.5L489.9,185.4L490.2,185.3L490.5,185.0L490.8,185.1L491.1,185.5L491.4,185.7L491.7,185.6L492.0,185.2L492.3,185.6L492.6,185.8L492.9,185.0L493.2,184.9L493.5,185.6L493.8,186.0L494.1,185.5L494.4,185.5L494.7,185.3L495.0,185.8L495.3,184.8L495.6,185.4L495.9,185.2L496.2,184.5L496.5,185.2L496.8,185.3L497.1,185.3L497.4,185.2L497.7,185.2L498.0,185.5L498.3,184.7L498.6,184.9L498.9,185.5L499.2,185.5L499.5,185.7L499.8,184.8L500.1,185.8L500.4,185.7L500.7,185.4L501.0,184.9L501.3,185.6L501.6,185.8L501.9,185.2L502.2,185.5L502.5,185.5L502.8,185.6L503.1,185.6L503.4,185.6L503.7,184.8L504.0,185.1L504.3,184.7L504.6,185.7L504.9,185.6L505.2,185.5L505.5,186.0L505.8,185.0L506.1,185.9L506.4,185.0L506.7,184.6L507.0,185.1L507.3,185.1L507.6,185.2L507.9,185.3L508.2,185.5L508.5,185.5L508.8,185.1L509.1,184.9L509.4,185.6L509.7,185.8L510.0,185.7L510.3,185.5L510.6,184.6L510.9,185.6L511.2,185.1L511.5,185.7L511.8,185.8L512.1,185.2L512.4,184.9L512.7,185.2L513.0,185.5L513.3,185.5L513.6,184.9L513.9,185.4L514.2,185.0L514.5,185.1L514.8,185.7L515.1,185.3L515.4,184.5L515.7,184.9L516.0,185.8L516.3,184.6L516.6,185.8L516.9,185.3L517.2,184.8L517.5,185.1L517.8,185.5L518.1,185.8L518.4,184.8L518.7,185.2L519.0,185.5L519.3,185.6L519.6,186.3L519.9,186.0L520.2,185.5L520.5,184.8L520.8,185.2L521.1,184.9L521.4,185.2L521.7,185.1L522.0,185.2L522.3,185.5L522.6,185.2L522.9,185.7L523.2,185.8L523.5,184.8L523.8,184.7L524.1,185.0L524.4,184.4L524.7,185.4L525.0,185.3L525.3,185.4L525.6,186.0L525.9,185.6L526.2,185.7L526.5,185.3L526.8,185.1L527.1,184.5L527.4,185.2L527.7,185.3L528.0,184.9L528.3,185.0L528.6,185.3L528.9,186.0L529.2,185.1L529.5,185.2L529.8,185.0L530.1,185.2L530.4,184.8L530.7,185.4L531.0,184.9L531.3,185.7L531.3,170.2L531.3,170.1L531.6,170.8L531.9,170.8L532.2,170.1L532.5,170.6L532.8,170.6L533.1,171.1L533.4,170.2L533.7,169.8L533.7,185.4L533.7,185.5L534.0,185.6L534.3,185.1L534.6,184.6L534.9,184.4L535.2,186.2L535.5,185.2L535.8,185.2L536.1,185.4L536.4,185.4L536.7,185.0L537.0,185.1L537.3,185.3L537.6,185.7L537.9,186.1L538.2,185.7L538.5,185.6L538.5,170.2L538.5,170.3L538.8,170.7L539.1,170.3L539.4,170.4L539.7,171.6L540.0,170.4L540.3,170.5L540.6,169.9L540.6,185.5L540.6,185.4L540.9,185.2L541.2,185.5L541.5,184.3L541.8,185.8L542.1,185.8L542.4,184.4L542.7,185.4L543.0,185.6L543.3,185.6L543.6,185.3L543.9,185.8L544.2,185.5L544.5,185.1L544.8,185.9L545.1,184.8L545.4,185.1L545.7,185.1L546.0,185.9L546.3,185.1L546.6,184.7L546.9,184.9L547.2,185.4L547.5,185.3L547.8,185.4L548.1,184.8L548.4,185.4L548.7,185.6L549.0,186.0L549.3,185.9L549.6,184.8L549.9,185.5L550.2,184.9L550.5,185.4L550.8,185.6L551.1,185.2L551.4,184.1L551.7,185.3L552.0,185.3L552.3,185.1L552.6,185.6L552.9,185.1L553.2,185.2L553.5,185.5L553.8,185.0L554.1,185.6L554.4,185.1L554.7,185.2L555.0,185.5L555.3,185.8L555.6,185.2L555.9,185.4L556.2,185.2L556.5,184.7L556.8,185.1L557.1,186.2L557.4,185.2L557.7,185.6L558.0,185.5L558.3,185.8L558.6,185.3L558.9,185.6L559.2,185.2L559.5,186.3L559.8,185.5L560.1,185.3L560.4,185.8L560.7,185.0L561.0,185.7L561.3,186.2L561.6,184.9L561.9,185.5L562.2,185.1L562.5,185.3L562.8,185.2L563.1,184.5L563.4,185.8L563.7,185.3L564.0,185.7L564.3,185.0L564.6,185.2L564.9,185.1L565.2,184.7L565.5,186.0L565.8,185.8L566.1,185.9L566.4,185.6L566.7,185.2L567.0,185.5L567.3,186.5L567.6,186.0L567.9,185.4L568.2,184.9L568.5,185.6L568.8,184.3L569.1,185.7L569.4,185.1L569.7,185.2L570.0,185.8L570.3,185.9L570.6,185.2L570.9,184.9L571.2,184.6L571.5,184.9L571.8,185.6L572.1,185.5L572.4,185.1L572.7,185.4L573.0,185.2L573.3,184.8L573.6,185.2L573.9,185.8L574.2,186.0L574.5,185.1L574.8,185.4L575.1,184.8L575.4,185.6L575.7,185.3L576.0,185.3L576.3,185.8L576.6,185.6L576.9,185.5L577.2,185.5L577.5,185.6L577.8,184.6L578.1,185.5L578.4,185.1L578.7,186.0L579.0,185.3L579.3,185.0L579.6,185.1L579.9,185.7L580.2,185.3L580.5,185.3L580.8,185.8L581.1,185.6L581.4,185.3L581.7,185.8L582.0,185.6L582.3,185.5L582.6,185.5L582.9,184.2L583.2,185.7L583.5,185.1L583.8,185.6L584.1,185.1L584.4,185.3L584.7,184.8L585.0,185.7L585.3,185.0L585.6,185.9L585.9,185.4L586.2,185.5L586.5,185.0L586.8,185.0L587.1,185.5L587.4,185.2L587.7,185.3L588.0,184.7L588.3,185.2L588.6,185.5L588.9,184.8L589.2,184.9L589.5,184.9L589.8,185.4L590.1,185.1L590.4,184.8L590.7,185.1L591.0,185.4L591.3,184.8L591.6,185.4L591.9,186.3L592.2,184.5L592.5,185.0L592.8,185.2L593.1,185.4L593.4,185.9L593.7,185.3L594.0,185.0L594.3,184.7L594.6,184.1L594.9,184.6L595.2,185.9L595.5,184.8L595.8,185.5L596.1,185.5L596.4,185.1L596.7,184.6L597.0,186.3L597.3,185.6L597.6,185.4L597.9,184.6L598.2,185.4L598.5,184.7L598.8,184.6L599.1,185.3L599.4,185.3L599.7,185.4L600.0,185.3L600.3,185.2L600.6,185.3L600.9,184.7L601.2,185.2L601.5,185.5L601.8,186.1L602.1,184.4L602.4,185.8L602.7,185.0L603.0,185.7L603.3,185.0L603.6,185.2L603.9,185.3L604.2,185.3L604.5,185.3L604.8,185.7L605.1,185.6L605.4,185.0L605.7,185.6L606.0,185.4L606.3,184.7L606.6,184.8L606.9,185.8L607.2,185.7L607.5,184.9L607.8,185.6L608.1,184.9L608.4,185.5L608.7,186.2L609.0,185.2L609.3,185.9L609.6,185.0L609.6,170.5L609.6,170.4L609.9,171.3L610.2,170.8L610.5,170.3L610.8,170.1L611.1,170.5L611.4,170.9L611.7,171.0L612.0,170.4L612.3,171.0L612.6,170.6L612.9,170.5L613.2,170.7L613.5,171.5L613.8,170.5L614.1,170.6L614.4,170.6L614.7,170.4L615.0,170.7L615.3,170.5L615.6,169.9L615.9,170.8L616.2,169.9L616.5,170.6L616.8,170.6L617.1,171.2L617.4,171.0L617.7,170.8L618.0,170.2L618.3,170.7L618.6,171.4L618.9,170.9L619.2,170.8L619.5,171.7L619.8,170.6L620.1,170.0L620.4,170.9L620.7,170.8L621.0,170.1L621.3,171.3L621.6,170.5L621.9,171.5L622.2,170.1L622.5,171.2L622.8,170.9L623.1,170.7L623.4,171.0L623.7,169.9L624.0,171.6L624.3,171.0L624.6,170.8L624.9,171.6L625.2,171.6L625.5,170.0L625.8,170.6L626.1,169.9L626.4,170.5L626.7,170.4L627.0,171.0L627.3,170.6L627.6,170.0L627.9,170.9L628.2,170.4L628.5,171.0L628.8,170.1L629.1,170.2L629.4,170.4L629.7,170.5L630.0,170.5L630.3,170.9L630.6,170.8L630.9,170.7L631.2,170.7L631.5,170.5L631.8,170.0L632.1,170.4L632.4,170.4L632.7,170.5L633.0,169.9L633.3,170.4L633.6,170.4L633.9,170.2L634.2,170.4L634.5,170.6L634.8,170.8L635.1,171.0L635.4,170.2L635.7,170.8L636.0,170.5L636.3,170.6L636.6,171.1L636.9,170.9L637.2,170.7L637.5,170.2L637.8,170.5L638.1,171.0L638.4,170.3L638.7,170.3L639.0,170.2L639.3,170.7L639.6,170.2L639.9,171.7L640.2,170.6L640.5,170.7L640.8,170.4L641.1,170.8L641.4,170.8L641.7,170.5L642.0,170.4L642.3,171.1L642.6,170.7L642.9,170.9L643.2,170.6L643.5,170.4L643.8,170.8L644.1,170.9L644.4,170.6L644.7,170.6L645.0,171.0L645.3,170.3L645.6,170.8L645.9,170.6L646.2,170.7L646.5,170.9L646.8,170.0L647.1,170.6L647.4,170.6L647.7,170.7L648.0,171.5L648.3,170.3L648.6,170.7L648.9,171.0L649.2,169.8L649.5,170.9L649.8,170.9L650.1,170.4L650.4,170.5L650.7,170.4L651.0,171.1L651.3,170.3L651.6,170.1L651.9,170.3L652.2,170.3L652.5,170.7L652.8,170.6L653.1,171.0L653.4,169.9L653.7,170.7L654.0,170.5L654.3,170.6L654.6,170.4L654.9,170.4L655.2,170.8L655.5,171.1L655.8,170.0L656.1,170.8L656.4,170.3L656.7,170.9L657.0,170.5L657.3,170.1L657.6,170.3L657.9,170.6L658.2,171.0L658.5,171.2L658.8,171.0L659.1,170.7L659.4,170.8L659.7,170.5L660.0,171.2L660.3,170.3L660.6,170.2L660.9,171.0L661.2,170.1L661.5,170.7L661.8,171.1L662.1,170.7L662.4,170.9L662.7,170.7L663.0,170.7L663.3,170.1L663.6,171.3L663.9,170.5L664.2,170.5L664.5,170.7L664.8,171.1L665.1,170.5L665.4,170.6L665.7,171.0L666.0,170.9L666.3,170.5L666.6,170.5L666.9,170.6L667.2,170.3L667.5,170.2L667.8,170.3L668.1,170.1L668.4,171.4L668.7,170.3L669.0,170.9L669.3,169.9L669.6,170.4L669.9,171.3L670.2,170.5L670.5,170.0L670.8,170.4L671.1,169.9L671.4,169.8L671.7,171.3L672.0,170.5L672.3,170.7L672.6,171.1L672.9,170.3L673.2,170.7L673.5,170.7L673.8,170.3L674.1,170.5L674.4,170.2L674.7,170.0L675.0,170.9L675.3,170.4L675.6,169.4L675.9,171.3L676.2,170.6L676.5,170.5L676.8,171.2L677.1,169.7L677.4,170.6L677.7,170.2L678.0,170.7L678.3,171.0L678.6,170.7L678.9,170.3L679.2,170.5L679.5,171.0L679.8,170.9L680.1,170.8L680.4,170.7L680.7,170.3L681.0,170.7L681.3,170.1L681.6,170.6L681.9,170.4L682.2,170.7L682.5,171.1L682.8,170.7L683.1,170.9L683.4,170.5L683.7,170.4L684.0,170.9L684.3,170.6L684.6,170.1L684.9,170.6L685.2,170.6L685.5,170.8L685.8,170.8L686.1,170.3L686.4,170.9L686.7,169.8L687.0,171.3L687.3,170.1L687.6,170.8L687.9,171.2L688.2,170.5L688.5,170.0L688.8,170.2L689.1,170.5L689.4,170.7L689.7,171.1L690.0,170.5L690.3,170.5L690.6,170.5L690.9,170.6L691.2,170.2L691.5,170.4L691.8,170.3L692.1,170.9L692.4,170.4L692.7,170.5L693.0,171.4L693.3,170.7L693.6,170.9L693.9,169.5L694.2,170.7L694.5,170.8L694.8,170.8L695.1,170.6L695.4,170.4L695.7,170.0L696.0,171.0L696.3,170.4L696.6,169.9L696.9,171.2L697.2,171.2L697.5,170.1L697.8,171.2L698.1,169.8L698.4,170.7L698.7,170.3L699.0,170.6L699.3,170.9L699.6,171.0L699.9,170.8L700.2,170.7L700.5,171.0L700.8,170.2L701.1,170.7L701.4,170.4L701.7,170.2L702.0,170.7L702.3,170.8L702.6,170.8L702.9,171.2L703.2,170.3L703.5,170.1L703.8,170.6L704.1,171.2L704.4,169.8L704.7,170.5L705.0,170.5L705.3,170.8L705.6,170.4L705.9,170.6L706.2,170.8L706.5,170.1L706.8,170.6L707.1,170.2L707.4,170.7L707.7,171.0L708.0,171.1L708.3,170.3L708.6,170.5L708.9,171.1L709.2,169.8L709.5,171.6L709.8,170.1L710.1,171.0L710.4,170.8L710.7,170.3L711.0,170.7L711.3,170.6L711.6,169.7L711.9,170.9L712.2,171.0L712.5,171.4L712.8,170.4L713.1,170.4L713.4,170.7L713.7,170.1L714.0,170.7L714.3,170.7L714.6,170.3L714.9,170.4L715.2,171.7L715.5,171.1L715.8,170.6L716.1,171.2L716.4,171.0L716.7,169.8L717.0,171.0L717.3,170.7L717.6,171.4L717.9,170.6L718.2,170.7L718.5,170.7L718.8,170.7L719.1,169.8L719.4,171.3L719.7,170.2L720.0,171.1L720.3,171.1L720.6,170.7L720.9,170.4L721.2,170.6L721.5,170.2L721.8,170.4L722.1,170.2L722.4,171.3L722.7,170.5L723.0,170.4L723.3,170.7L723.6,170.7L723.9,170.6L724.2,171.2L724.5,171.6L724.8,170.4L725.1,170.7L725.4,170.4L725.7,170.8L726.0,169.9L726.3,169.4L726.6,170.8L726.9,170.4L727.2,170.5L727.5,170.6L727.8,170.8L728.1,170.2L728.4,170.2L728.7,170.6L729.0,170.6L729.3,171.7L729.6,170.7L729.9,170.6L730.2,170.9L730.5,170.7L730.8,170.5L731.1,170.8L731.4,169.8L731.7,170.1L732.0,170.4L732.3,171.1L732.6,170.6L732.9,170.1L733.2,170.1L733.5,170.4L733.8,170.6L734.1,170.7L734.4,171.2L734.7,170.8L735.0,170.7L735.3,170.6L735.6,171.3L735.9,170.2L736.2,170.5L736.5,171.1L736.8,170.5L737.1,170.6L737.4,171.1L737.7,170.8L738.0,170.3L738.3,170.1L738.6,170.8L738.9,171.2L739.2,170.6L739.5,170.8L739.8,171.1L740.1,170.4L740.4,171.0L740.7,170.6L741.0,170.5L741.3,170.3L741.6,170.6L741.9,170.0L742.2,170.2L742.5,170.0L742.8,170.7L743.1,170.5L743.4,170.9L743.7,170.1L744.0,170.6L744.3,170.7L744.6,171.3L744.9,170.2L745.2,170.6L745.5,170.6L745.8,171.4L746.1,171.4L746.4,170.1L746.7,170.6L747.0,170.8L747.3,170.5L747.6,170.5L747.9,171.0L748.2,170.1L748.5,170.4L748.8,171.0L749.1,170.5L749.4,170.4L749.7,170.1L750.0,171.1L750.3,170.4L750.6,170.1L750.9,170.8L751.2,170.8L751.5,170.6L751.8,170.7L752.1,170.3L752.4,170.2L752.7,171.1L753.0,170.4L753.3,171.0L753.6,170.4L753.9,170.3L754.2,170.6L754.5,169.7L754.8,170.8L755.1,170.6L755.4,170.6L755.7,170.4L756.0,170.8L756.3,170.3" fill="none" stroke="#ff0000" stroke-width="1.2" stroke-linejoin="round" stroke-linecap="butt" />
<path d="M448.3,185.3V170.6M459.4,185.3V170.6M463.3,185.3V172.0M493.7,185.3V170.6M615.1,170.6V173.0M616.6,170.6V185.3M620.0,170.6V176.0M625.6,170.6V172.7M626.0,170.6V177.0M627.3,170.6V171.9M628.1,170.6V172.2M629.5,170.6V185.3M637.3,170.6V185.3M641.4,170.6V171.6M644.9,170.6V172.3M645.0,170.6V176.0M650.3,170.6V180.0M655.0,170.6V177.0M658.0,170.6V172.1M660.2,170.6V172.8M660.7,170.6V183.0M665.0,170.6V175.0M671.3,170.6V172.0M671.4,170.6V185.3M675.0,170.6V185.3M680.7,170.6V172.9M681.4,170.6V185.3M684.8,170.6V173.1M688.0,170.6V176.0M691.0,170.6V172.5M692.1,170.6V173.0M694.8,170.6V184.0M695.5,170.6V184.0M696.0,170.6V172.3M700.0,170.6V177.0M704.5,170.6V172.5M704.6,170.6V172.6M711.8,170.6V172.7M714.8,170.6V185.3M716.5,170.6V171.9M718.8,170.6V172.6M720.5,170.6V172.5M720.7,170.6V172.1M722.0,170.6V185.3M723.2,170.6V171.9M723.8,170.6V172.4M725.0,170.6V182.0M727.5,170.6V173.1M728.7,170.6V185.3M735.0,170.6V176.0M739.9,170.6V172.4M740.0,170.6V175.0M746.8,170.6V179.0" fill="none" stroke="#ff0000" stroke-width="0.75"/>
<path d="M436.4,188.5L437.0,191.0L437.0,191.8L437.3,192.4L437.6,191.6L437.9,191.6L438.2,192.5L438.5,191.9L438.8,191.8L439.1,192.6L439.4,192.4L439.7,192.6L440.0,192.1L440.3,192.1L440.6,192.1L440.9,192.3L441.2,191.3L441.5,191.9L441.8,192.5L442.1,191.9L442.4,192.2L442.7,192.3L443.0,192.4L443.3,192.0L443.6,191.7L443.9,193.3L444.2,191.9L444.5,193.0L444.8,191.4L445.1,192.3L445.4,192.1L445.7,193.0L446.0,193.1L446.3,192.6L446.6,191.8L446.9,191.8L447.2,191.9L447.5,192.0L447.8,192.3L448.1,191.9L448.4,192.1L448.7,192.9L449.0,192.8L449.3,191.4L449.6,191.8L449.9,192.0L450.2,192.8L450.5,192.1L450.8,193.0L451.1,192.4L451.4,192.8L451.7,191.8L452.0,192.1L452.3,192.7L452.6,192.5L452.9,191.4L453.2,192.1L453.5,192.3L453.8,192.5L454.1,191.9L454.4,193.0L454.7,192.3L455.0,192.8L455.3,192.4L455.6,192.2L455.9,192.1L456.2,191.7L456.5,192.6L456.8,192.5L457.1,192.6L457.4,192.0L457.7,191.8L458.0,192.0L458.3,192.1L458.6,192.2L458.9,192.6L459.2,191.8L459.5,192.0L459.8,192.5L460.1,192.6L460.4,193.2L460.7,192.4L461.0,191.8L461.3,191.7L461.6,191.9L461.9,192.2L462.2,192.3L462.5,192.2L462.8,191.9L463.1,192.1L463.4,192.2L463.7,192.5L464.0,192.2L464.3,191.8L464.6,191.7L464.9,192.9L465.2,192.2L465.5,192.1L465.8,192.2L466.1,192.7L466.4,192.1L466.7,192.3L467.0,192.1L467.3,192.5L467.6,191.8L467.9,192.3L468.2,192.6L468.5,192.7L468.8,192.5L469.1,192.3L469.4,192.9L469.7,192.5L470.0,192.8L470.3,191.7L470.6,191.7L470.9,192.6L471.2,192.1L471.5,192.0L471.8,191.8L472.1,192.9L472.4,191.7L472.7,192.3L473.0,191.6L473.3,192.1L473.6,193.2L473.9,193.3L474.2,192.0L474.5,191.8L474.8,192.9L475.1,191.8L475.4,191.4L475.7,192.4L476.0,191.7L476.3,191.6L476.6,192.7L476.9,191.9L477.2,191.7L477.5,192.3L477.8,192.1L478.1,192.7L478.4,192.2L478.7,192.9L479.0,192.7L479.3,193.0L479.6,192.7L479.9,192.2L480.2,192.4L480.5,192.2L480.8,191.5L481.1,191.7L481.4,192.5L481.7,191.2L482.0,191.8L482.3,191.6L482.6,192.2L482.9,191.7L483.2,192.3L483.5,192.1L483.8,192.0L484.1,191.8L484.4,191.2L484.7,192.2L485.0,191.6L485.3,192.1L485.6,192.4L485.9,192.7L486.2,192.5L486.5,192.9L486.8,191.6L487.1,192.5L487.4,192.9L487.7,192.4L488.0,191.7L488.3,192.4L488.6,192.0L488.9,191.9L489.2,192.7L489.5,192.1L489.8,191.7L490.1,191.9L490.4,193.1L490.7,191.8L491.0,192.5L491.3,192.3L491.6,192.7L491.9,192.1L492.2,191.8L492.5,191.9L492.8,191.8L493.1,193.3L493.4,192.3L493.7,192.1L494.0,192.7L494.3,192.5L494.6,192.1L494.9,192.5L495.2,192.3L495.5,192.7L495.8,192.9L496.1,192.1L496.4,192.2L496.7,192.1L497.0,192.7L497.3,192.4L497.6,192.5L497.9,192.6L498.2,191.9L498.5,192.3L498.8,192.8L499.1,192.6L499.4,192.6L499.7,192.1L500.0,192.0L500.3,191.8L500.6,192.1L500.9,192.2L501.2,191.6L501.5,192.7L501.8,191.9L502.1,192.3L502.4,192.5L502.7,192.0L503.0,191.4L503.3,192.6L503.6,192.4L503.9,192.1L504.2,192.7L504.5,192.6L504.8,191.8L505.1,192.2L505.4,191.4L505.7,192.1L506.0,192.8L506.3,191.8L506.6,192.6L506.9,191.5L507.2,192.1L507.5,192.6L507.8,192.9L508.1,192.4L508.4,192.5L508.7,193.0L509.0,191.1L509.3,191.5L509.6,193.0L509.9,193.3L510.2,192.5L510.5,192.2L510.8,192.3L511.1,192.2L511.4,191.9L511.7,192.2L512.0,192.1L512.3,192.5L512.6,192.5L512.9,192.6L513.2,192.5L513.5,191.8L513.8,192.8L514.1,191.0L514.4,192.3L514.7,192.4L515.0,192.0L515.3,193.0L515.6,191.7L515.9,191.7L516.2,192.0L516.5,192.4L516.8,192.5L517.1,192.3L517.4,192.5L517.7,191.9L518.0,191.9L518.3,192.3L518.6,191.6L518.9,192.3L519.2,192.0L519.5,192.5L519.8,191.8L520.1,192.0L520.4,192.0L520.7,192.0L521.0,191.8L521.3,192.1L521.6,191.6L521.9,192.4L522.2,192.5L522.5,192.2L522.8,192.1L523.1,191.8L523.4,191.8L523.7,192.1L524.0,191.8L524.3,191.7L524.6,192.3L524.9,192.2L525.2,192.0L525.5,191.9L525.8,192.2L526.1,191.9L526.4,192.0L526.7,192.3L527.0,192.5L527.3,192.5L527.6,191.9L527.9,192.7L528.2,191.7L528.5,192.1L528.8,192.8L529.1,193.2L529.4,192.3L529.7,192.1L530.0,192.0L530.3,191.7L530.6,192.1L530.9,192.0L531.2,191.9L531.5,192.7L531.8,191.9L532.1,192.9L532.4,192.6L532.7,192.5L533.0,191.9L533.3,192.0L533.6,191.3L533.9,192.3L534.2,192.1L534.5,192.4L534.8,191.9L535.1,192.4L535.4,191.6L535.7,191.3L536.0,192.4L536.3,192.7L536.6,190.8L536.9,192.8L537.2,192.0L537.5,192.1L537.8,191.5L538.1,191.8L538.4,192.5L538.7,191.9L539.0,192.2L539.3,192.1L539.6,193.1L539.9,192.6L540.2,191.6L540.5,192.0L540.8,191.7L541.1,191.6L541.4,191.9L541.7,192.7L542.0,192.2L542.3,192.5L542.6,192.1L542.9,192.0L543.2,192.2L543.5,192.2L543.8,193.0L544.1,193.0L544.4,192.4L544.7,192.5L545.0,191.3L545.3,192.2L545.6,193.2L545.9,191.9L546.2,192.6L546.5,192.7L546.8,192.0L547.1,192.1L547.4,192.0L547.7,192.6L548.0,192.2L548.3,192.9L548.6,192.7L548.9,192.2L549.2,193.3L549.5,192.1L549.8,191.9L550.1,192.1L550.4,191.8L550.7,192.0L551.0,192.2L551.3,192.6L551.6,191.5L551.9,191.6L552.2,191.9L552.5,192.1L552.8,192.4L553.1,191.9L553.4,192.9L553.7,192.0L554.0,192.1L554.3,192.2L554.6,192.7L554.9,192.3L555.2,192.2L555.5,192.0L555.8,192.3L556.1,192.4L556.4,192.0L556.7,192.2L557.0,191.4L557.3,192.0L557.6,192.7L557.9,192.8L558.2,192.2L558.5,191.3L558.8,193.0L559.1,192.1L559.4,193.3L559.7,192.0L560.0,192.6L560.3,191.9L560.6,192.8L560.9,192.7L561.2,191.7L561.5,192.8L561.8,193.4L562.1,192.1L562.4,191.7L562.7,192.3L563.0,192.0L563.3,191.6L563.6,191.7L563.9,192.3L564.2,191.5L564.5,192.7L564.8,192.4L565.1,192.1L565.4,192.8L565.7,191.8L566.0,192.5L566.3,191.6L566.6,192.1L566.9,192.5L567.2,192.0L567.5,192.2L567.8,192.5L568.1,192.9L568.4,192.8L568.7,192.4L569.0,192.1L569.3,191.6L569.6,192.9L569.9,193.0L570.2,191.3L570.5,192.6L570.8,192.2L571.1,192.5L571.4,192.3L571.7,192.1L572.0,192.2L572.3,192.2L572.6,192.7L572.9,192.1L573.2,192.0L573.5,192.5L573.8,192.5L574.1,192.4L574.4,192.3L574.7,192.8L575.0,192.7L575.3,192.3L575.6,192.1L575.9,192.5L576.2,191.4L576.5,192.0L576.8,191.9L577.1,192.3L577.4,192.0L577.7,193.3L578.0,192.5L578.3,192.4L578.6,193.2L578.9,192.2L579.2,192.1L579.5,192.7L579.8,192.6L580.1,192.6L580.4,192.7L580.7,192.0L581.0,191.9L581.3,191.9L581.6,192.2L581.9,192.6L582.2,191.7L582.5,192.0L582.8,191.6L583.1,193.1L583.4,192.6L583.7,192.3L584.0,191.7L584.3,191.8L584.6,191.9L584.9,192.2L585.2,191.6L585.5,192.1L585.8,192.7L586.1,192.2L586.4,192.2L586.7,191.3L587.0,192.1L587.3,192.1L587.6,191.9L587.9,191.6L588.2,192.2L588.5,191.8L588.8,192.0L589.1,191.5L589.4,192.2L589.7,192.6L590.0,191.8L590.3,192.3L590.6,191.5L590.9,192.5L591.2,192.4L591.5,192.0L591.8,192.6L592.1,191.8L592.4,192.2L592.7,192.9L593.0,192.2L593.3,191.7L593.6,192.7L593.9,192.4L594.2,192.1L594.5,191.4L594.8,191.4L595.1,191.5L595.4,192.9L595.7,192.3L596.0,191.8L596.3,192.7L596.6,192.8L596.9,191.8L597.2,192.4L597.5,191.5L597.8,192.4L598.1,193.0L598.4,191.6L598.7,192.2L599.0,191.9L599.3,192.2L599.6,192.2L599.9,192.3L600.2,192.6L600.5,192.4L600.8,192.7L601.1,192.6L601.4,192.7L601.7,191.9L602.0,192.4L602.3,192.0L602.6,191.8L602.9,193.0L603.2,192.3L603.5,192.2L603.8,191.3L604.1,192.1L604.4,192.5L604.7,192.1L605.0,192.0L605.3,192.8L605.6,192.1L605.9,192.1L606.2,192.2L606.5,192.1L606.8,192.7L607.1,192.4L607.4,192.2L607.7,192.0L608.0,192.1L608.3,192.9L608.6,192.1L608.9,192.5L609.2,191.5L609.5,192.3L609.8,192.5L610.1,192.8L610.4,192.3L610.7,192.5L611.0,192.3L611.3,192.7L611.6,193.1L611.9,192.3L612.2,191.8L612.5,192.5L612.8,192.2L613.1,192.5L613.4,192.5L613.7,192.3L614.0,192.0L614.3,192.3L614.6,191.7L614.9,192.3L615.2,191.8L615.5,192.4L615.8,192.3L616.1,192.1L616.4,191.7L616.7,192.2L617.0,191.9L617.3,192.1L617.6,192.5L617.9,192.6L618.2,191.6L618.5,192.6L618.8,192.8L619.1,192.7L619.4,192.3L619.7,192.2L620.0,193.0L620.3,192.1L620.6,191.5L620.9,192.2L621.2,192.3L621.5,191.8L621.8,191.7L622.1,193.1L622.4,192.3L622.7,192.5L623.0,191.9L623.3,191.6L623.6,192.1L623.9,192.8L624.2,191.9L624.5,191.4L624.8,192.1L625.1,192.1L625.4,192.2L625.7,191.8L626.0,192.1L626.3,192.0L626.6,192.6L626.9,192.3L627.2,192.6L627.5,192.2L627.8,191.3L628.1,191.4L628.4,192.4L628.7,192.6L629.0,192.6L629.3,192.2L629.6,191.4L629.9,192.0L630.2,192.4L630.5,192.8L630.8,192.0L631.1,192.0L631.4,191.9L631.7,192.6L632.0,192.6L632.3,191.4L632.6,192.7L632.9,191.8L633.2,191.6L633.5,191.5L633.8,191.9L634.1,193.2L634.4,193.3L634.7,191.7L635.0,191.9L635.3,192.3L635.6,192.4L635.9,192.0L636.2,191.5L636.5,192.0L636.8,191.9L637.1,191.4L637.4,192.3L637.7,191.6L638.0,191.4L638.3,192.9L638.6,192.6L638.9,192.8L639.2,192.3L639.5,192.0L639.8,192.2L640.1,191.6L640.4,192.5L640.7,192.3L641.0,192.1L641.3,191.4L641.6,192.2L641.9,192.9L642.2,192.8L642.5,192.6L642.8,192.0L643.1,192.3L643.4,192.4L643.7,192.3L644.0,192.7L644.3,191.9L644.6,191.2L644.9,191.2L645.2,191.8L645.5,191.6L645.8,192.5L646.1,192.7L646.4,192.2L646.7,192.4L647.0,192.2L647.3,192.3L647.6,192.0L647.9,192.0L648.2,192.7L648.5,192.1L648.8,192.2L649.1,192.7L649.4,192.6L649.7,192.0L650.0,192.3L650.3,191.8L650.6,192.3L650.9,192.3L651.2,192.2L651.5,192.3L651.8,192.4L652.1,191.1L652.4,191.8L652.7,192.2L653.0,192.0L653.3,191.8L653.6,192.1L653.9,192.9L654.2,192.1L654.5,191.9L654.8,192.0L655.1,191.7L655.4,192.4L655.7,191.8L656.0,192.6L656.3,192.6L656.6,192.5L656.9,192.7L657.2,192.2L657.5,191.4L657.8,192.2L658.1,192.5L658.4,191.5L658.7,191.7L659.0,192.7L659.3,192.4L659.6,192.8L659.9,192.5L660.2,192.2L660.5,192.4L660.8,192.6L661.1,192.2L661.4,192.1L661.7,192.3L662.0,192.1L662.3,193.2L662.6,191.9L662.9,191.6L663.2,191.6L663.5,192.7L663.8,192.0L664.1,192.3L664.4,192.1L664.7,192.3L665.0,191.6L665.3,192.2L665.6,191.9L665.9,192.7L666.2,192.5L666.5,191.7L666.8,191.8L667.1,192.5L667.4,192.7L667.7,192.5L668.0,192.1L668.3,192.7L668.6,191.2L668.9,192.0L669.2,191.8L669.5,191.8L669.8,192.4L670.1,192.3L670.4,192.3L670.7,192.1L671.0,192.5L671.3,192.5L671.6,191.9L671.9,192.6L672.2,191.8L672.5,193.0L672.8,191.6L673.1,192.1L673.4,191.7L673.7,192.2L674.0,192.8L674.3,191.9L674.6,193.0L674.9,192.8L675.2,192.4L675.5,192.0L675.8,192.6L676.1,191.0L676.4,191.9L676.7,192.6L677.0,192.2L677.3,193.3L677.6,191.9L677.9,191.6L678.2,192.1L678.5,192.5L678.8,193.0L679.1,191.4L679.4,192.3L679.7,192.8L680.0,191.9L680.3,192.0L680.6,191.7L680.9,192.5L681.2,192.6L681.5,192.5L681.8,192.3L682.1,192.6L682.4,192.1L682.7,192.5L683.0,192.6L683.3,192.8L683.6,192.4L683.9,192.2L684.2,192.5L684.5,191.5L684.8,191.4L685.1,192.9L685.4,192.3L685.7,191.7L686.0,191.9L686.3,192.1L686.6,192.2L686.9,191.9L687.2,192.6L687.5,191.5L687.8,193.4L688.1,191.7L688.4,192.9L688.7,192.5L689.0,191.5L689.3,191.7L689.6,192.2L689.9,192.3L690.2,192.0L690.5,192.2L690.8,192.3L691.1,191.7L691.4,192.2L691.7,193.2L692.0,191.9L692.3,191.8L692.6,192.5L692.9,192.8L693.2,192.7L693.5,191.9L693.8,192.2L694.1,192.3L694.4,192.1L694.7,192.4L695.0,192.7L695.3,192.4L695.6,192.2L695.9,192.1L696.2,193.0L696.5,191.7L696.8,193.1L697.1,192.5L697.4,192.2L697.7,191.9L698.0,193.0L698.3,192.7L698.6,192.6L698.9,193.1L699.2,191.4L699.5,192.2L699.8,192.1L700.1,191.9L700.4,192.2L700.7,192.4L701.0,192.4L701.3,192.1L701.6,191.6L701.9,192.5L702.2,192.5L702.5,193.1L702.8,192.6L703.1,192.2L703.4,191.7L703.7,193.4L704.0,191.9L704.3,192.3L704.6,192.5L704.9,192.4L705.2,192.8L705.5,191.8L705.8,191.9L706.1,192.3L706.4,191.7L706.7,191.9L707.0,192.8L707.3,192.3L707.6,192.2L707.9,192.0L708.2,192.2L708.5,192.2L708.8,191.7L709.1,192.6L709.4,191.6L709.7,192.8L710.0,192.0L710.3,191.2L710.6,191.5L710.9,192.3L711.2,191.8L711.5,193.0L711.8,192.8L712.1,193.1L712.4,192.6L712.7,192.8L713.0,191.9L713.3,192.8L713.6,192.0L713.9,192.2L714.2,191.6L714.5,192.2L714.8,192.4L715.1,192.2L715.4,191.7L715.7,192.6L716.0,192.6L716.3,192.2L716.6,192.5L716.9,192.6L717.2,191.8L717.5,192.2L717.8,191.4L718.1,191.7L718.4,192.4L718.7,191.8L719.0,192.4L719.3,192.4L719.6,191.3L719.9,192.0L720.2,192.9L720.5,192.2L720.8,192.3L721.1,191.9L721.4,191.5L721.7,191.5L722.0,193.5L722.3,192.1L722.6,191.8L722.9,192.3L723.2,191.3L723.5,192.8L723.8,193.0L724.1,191.9L724.4,192.3L724.7,191.8L725.0,192.6L725.3,191.8L725.6,192.1L725.9,192.8L726.2,192.4L726.5,192.1L726.8,191.5L727.1,191.5L727.4,192.7L727.7,192.4L728.0,192.2L728.3,192.8L728.6,192.3L728.9,191.9L729.2,192.2L729.5,192.2L729.8,192.2L730.1,193.3L730.4,192.5L730.7,192.3L731.0,192.1L731.3,191.9L731.6,191.8L731.9,191.4L732.2,192.0L732.5,191.5L732.8,191.4L733.1,191.8L733.4,191.3L733.7,192.8L734.0,192.8L734.3,191.8L734.6,193.1L734.9,192.5L735.2,191.1L735.5,192.2L735.8,191.8L736.1,191.4L736.4,192.1L736.7,192.7L737.0,192.4L737.3,191.5L737.6,191.9L737.9,191.9L738.2,192.7L738.5,192.2L738.8,191.8L739.1,191.8L739.4,191.3L739.7,191.8L740.0,192.6L740.3,191.3L740.6,192.3L740.9,192.2L741.2,192.6L741.5,191.7L741.8,192.6L742.1,192.9L742.4,193.2L742.7,191.5L743.0,192.2L743.3,192.1L743.6,192.3L743.9,191.8L744.2,192.6L744.5,193.3L744.8,192.9L745.1,191.8L745.1,206.7L745.1,207.3L745.4,207.1L745.7,206.7L746.0,207.6L746.3,207.2L746.6,207.5L746.9,206.9L747.2,207.6L747.5,206.8L747.8,206.5L748.1,207.0L748.4,206.4L748.7,207.6L749.0,207.3L749.3,206.2L749.3,192.3L749.3,192.6L749.6,192.0L749.9,192.4L750.2,191.9L750.5,192.2L750.8,192.2L751.1,192.4L751.4,191.8L751.7,191.7L752.0,192.3L752.3,192.0L752.6,192.4L752.9,192.0L753.2,191.6L753.5,192.5L753.8,192.3L754.1,192.5L754.4,192.0L754.7,192.0L755.0,192.8L755.3,191.4L755.6,193.0L755.9,192.4L756.2,192.2L756.5,192.2" fill="none" stroke="#ff0000" stroke-width="1.2" stroke-linejoin="round" stroke-linecap="butt" />
<path d="M438.9,192.2V201.2M439.2,192.2V207.2M439.6,192.2V207.2M443.3,192.2V201.2M443.4,192.2V207.2M444.1,192.2V194.3M444.7,192.2V207.2M445.1,192.2V207.2M448.2,192.2V201.2M449.2,192.2V207.2M449.6,192.2V196.2M450.3,192.2V201.2M451.4,192.2V195.1M453.8,192.2V195.7M455.8,192.2V196.0M456.7,192.2V194.2M461.2,192.2V195.9M461.6,192.2V196.0M468.2,192.2V207.2M468.8,192.2V207.2M472.8,192.2V199.3M480.1,192.2V203.0M480.9,192.2V195.9M483.1,192.2V204.3M483.6,192.2V194.0M483.7,192.2V194.7M486.7,192.2V204.2M486.9,192.2V207.2M487.2,192.2V195.5M487.4,192.2V194.7M487.5,192.2V195.8M491.3,192.2V201.2M491.8,192.2V201.2M493.6,192.2V207.2M493.9,192.2V194.2M494.8,192.2V207.2M495.5,192.2V207.2M495.6,192.2V199.7M496.5,192.2V201.2M497.7,192.2V199.2M502.0,192.2V207.2M503.9,192.2V204.2M510.6,192.2V203.0M515.4,192.2V199.7M518.2,192.2V194.4M519.5,192.2V193.9M522.2,192.2V195.5M523.6,192.2V196.1M524.9,192.2V194.5M525.1,192.2V196.0M525.5,192.2V194.8M526.5,192.2V206.8M527.3,192.2V195.6M534.5,192.2V193.5M535.9,192.2V195.8M537.8,192.2V207.2M538.3,192.2V207.2M540.8,192.2V195.8M541.1,192.2V195.2M541.2,192.2V193.2M542.0,192.2V207.2M545.2,192.2V201.2M551.2,192.2V195.3M551.4,192.2V194.4M551.6,192.2V193.4M552.3,192.2V193.4M552.4,192.2V205.0M553.1,192.2V194.6M558.6,192.2V200.0M559.5,192.2V194.9M560.9,192.2V207.2M561.1,192.2V194.5M565.4,192.2V194.8M571.5,192.2V195.5M573.9,192.2V198.8M575.1,192.2V200.9M575.8,192.2V194.5M582.6,192.2V203.1M583.8,192.2V196.1M584.2,192.2V203.0M589.7,192.2V193.6M590.9,192.2V195.2M591.3,192.2V200.0M592.1,192.2V195.8M593.3,192.2V194.8M594.0,192.2V193.4M597.0,192.2V196.1M601.1,192.2V193.5M603.5,192.2V193.7M607.2,192.2V200.6M607.6,192.2V194.7M610.2,192.2V196.0M610.8,192.2V207.2M612.0,192.2V201.2M616.0,192.2V195.4M616.6,192.2V207.0M618.3,192.2V194.7M618.6,192.2V207.2M621.5,192.2V200.3M622.1,192.2V207.0M623.4,192.2V207.0M631.1,192.2V194.8M637.7,192.2V195.2M638.1,192.2V194.5M639.6,192.2V193.4M644.7,192.2V195.0M646.0,192.2V193.4M646.9,192.2V193.4M648.2,192.2V201.1M649.0,192.2V203.0M650.6,192.2V201.8M650.8,192.2V194.2M652.6,192.2V200.0M652.8,192.2V201.4M658.9,192.2V193.6M660.7,192.2V207.0M661.4,192.2V195.1M661.6,192.2V193.7M662.9,192.2V200.7M663.4,192.2V194.6M663.5,192.2V194.7M665.0,192.2V193.9M665.6,192.2V194.8M666.2,192.2V204.0M667.1,192.2V198.4M667.5,192.2V198.0M673.5,192.2V194.0M678.5,192.2V195.7M679.9,192.2V206.0M680.2,192.2V194.3M684.9,192.2V193.3M685.4,192.2V195.1M686.3,192.2V194.1M688.3,192.2V203.0M689.2,192.2V196.0M691.8,192.2V194.5M700.0,192.2V195.6M703.1,192.2V194.8M706.4,192.2V203.0M706.9,192.2V203.0M709.7,192.2V194.8M710.1,192.2V193.4M713.8,192.2V195.9M716.3,192.2V195.3M717.6,192.2V193.4M724.8,192.2V194.7M726.6,192.2V195.2M726.7,192.2V200.2M732.8,192.2V200.8M735.3,192.2V207.0M736.1,192.2V195.9M740.4,192.2V195.1M746.0,207.0V195.7M746.5,207.0V194.0M747.5,207.0V193.8M750.9,192.2V194.8M751.7,192.2V203.0M754.1,192.2V193.4" fill="none" stroke="#ff0000" stroke-width="0.75"/>
<path d="M436.5,211.6L437.2,214.0L437.2,215.7L437.5,216.0L437.8,215.5L438.1,215.5L438.4,215.5L438.7,215.8L439.0,215.5L439.3,215.6L439.6,215.5L439.9,215.1L440.2,216.0L440.5,215.2L440.8,215.0L441.1,215.3L441.4,215.5L441.7,215.8L442.0,214.9L442.3,215.0L442.6,215.6L442.9,215.7L443.2,215.1L443.5,215.0L443.8,215.6L444.1,215.4L444.4,214.9L444.7,215.1L445.0,216.1L445.3,215.1L445.6,215.9L445.9,214.9L446.2,216.1L446.5,216.1L446.8,215.2L447.1,215.2L447.4,215.8L447.7,215.0L448.0,215.7L448.3,216.0L448.6,215.6L448.9,215.6L449.2,215.4L449.5,215.9L449.8,215.2L450.1,216.1L450.4,215.5L450.7,215.4L451.0,214.8L451.3,215.3L451.6,215.6L451.9,216.0L452.2,214.9L452.5,215.4L452.8,215.2L453.1,215.0L453.4,215.5L453.7,215.2L454.0,215.8L454.3,214.4L454.6,215.8L454.9,214.7L455.2,214.7L455.5,215.7L455.8,215.4L456.1,215.6L456.4,215.1L456.7,215.1L457.0,215.2L457.3,215.5L457.6,215.2L457.9,215.3L458.2,215.2L458.5,215.6L458.8,215.0L459.1,214.7L459.4,214.4L459.7,215.5L460.0,215.5L460.3,215.9L460.6,215.2L460.9,215.0L461.2,214.9L461.5,215.8L461.8,215.2L462.1,215.9L462.4,215.5L462.7,215.4L463.0,214.8L463.3,215.2L463.6,215.8L463.9,215.3L464.2,215.8L464.5,214.8L464.8,215.9L465.1,216.6L465.4,215.9L465.7,215.6L466.0,215.0L466.3,215.3L466.6,215.2L466.9,215.6L467.2,214.7L467.5,215.2L467.8,215.8L468.1,215.6L468.4,215.8L468.7,215.8L469.0,215.0L469.3,215.0L469.6,215.7L469.9,215.5L470.2,215.5L470.5,215.2L470.8,215.9L471.1,215.7L471.4,216.0L471.7,215.4L472.0,215.8L472.3,215.5L472.6,215.1L472.9,215.5L473.2,214.8L473.5,215.4L473.8,215.6L474.1,215.8L474.4,215.1L474.7,215.0L475.0,215.2L475.3,214.7L475.6,215.2L475.9,216.6L476.2,215.6L476.5,215.2L476.8,215.2L477.1,216.2L477.4,215.0L477.7,215.5L478.0,215.5L478.3,215.2L478.6,215.2L478.9,214.8L479.2,215.2L479.5,216.0L479.8,216.1L480.1,215.4L480.4,215.8L480.7,215.7L481.0,215.5L481.3,215.4L481.6,216.0L481.9,215.7L482.2,215.4L482.5,215.4L482.8,215.9L483.1,215.3L483.4,215.2L483.7,215.4L484.0,215.3L484.3,216.0L484.6,215.6L484.9,215.5L485.2,215.3L485.5,216.1L485.8,215.7L486.1,216.3L486.4,215.9L486.7,215.4L487.0,215.3L487.3,215.4L487.6,215.6L487.9,215.8L488.2,215.7L488.5,216.1L488.8,214.9L489.1,215.5L489.4,214.9L489.7,215.1L490.0,215.3L490.3,215.2L490.6,215.1L490.9,214.9L491.2,216.0L491.5,215.4L491.8,215.9L492.1,215.1L492.4,214.6L492.7,215.3L493.0,215.9L493.3,215.3L493.6,215.7L493.9,215.1L494.2,216.1L494.5,215.7L494.8,215.9L495.1,215.4L495.4,216.0L495.7,215.5L496.0,215.3L496.3,215.2L496.6,215.5L496.9,215.1L497.2,215.0L497.5,215.6L497.8,215.8L498.1,215.4L498.4,215.8L498.7,216.1L499.0,215.0L499.3,215.6L499.6,215.1L499.9,215.2L500.2,215.6L500.5,214.5L500.8,215.7L501.1,215.8L501.4,215.7L501.7,215.8L502.0,216.2L502.3,215.4L502.6,215.9L502.9,216.1L503.2,215.7L503.5,214.8L503.8,215.4L504.1,215.4L504.4,214.9L504.7,215.5L505.0,215.8L505.3,215.4L505.6,215.4L505.9,216.1L506.2,215.3L506.5,215.1L506.8,215.5L507.1,215.9L507.4,215.7L507.7,215.5L508.0,215.3L508.3,216.0L508.6,215.9L508.9,214.8L509.2,215.6L509.5,214.5L509.8,216.1L510.1,215.7L510.4,215.2L510.7,215.0L511.0,215.4L511.3,214.8L511.6,215.7L511.9,215.3L512.2,214.8L512.5,215.5L512.8,216.0L513.1,215.0L513.4,215.4L513.7,216.2L514.0,215.6L514.3,215.3L514.6,215.6L514.9,215.8L515.2,215.1L515.5,215.5L515.8,214.8L516.1,214.9L516.4,214.9L516.7,215.8L517.0,215.6L517.3,215.8L517.6,216.0L517.9,215.5L518.2,215.6L518.5,215.7L518.8,215.7L519.1,215.1L519.4,215.4L519.7,215.4L520.0,215.5L520.3,215.2L520.6,215.4L520.9,215.6L521.2,215.6L521.5,215.7L521.8,215.8L522.1,215.7L522.4,215.9L522.7,215.8L523.0,216.1L523.3,215.8L523.6,215.3L523.9,216.4L524.2,216.0L524.5,216.0L524.8,215.8L525.1,215.5L525.4,215.0L525.7,215.7L526.0,215.4L526.3,215.3L526.6,214.6L526.9,216.1L527.2,215.0L527.5,215.1L527.8,215.7L528.1,215.7L528.4,215.2L528.7,215.5L529.0,215.6L529.3,215.6L529.6,215.7L529.9,215.8L530.2,215.4L530.5,214.8L530.8,216.4L531.1,215.3L531.4,215.1L531.7,215.8L532.0,215.7L532.3,215.3L532.6,216.4L532.9,214.6L533.2,216.0L533.5,215.5L533.8,215.6L534.1,215.6L534.4,215.4L534.7,215.6L535.0,215.0L535.3,215.3L535.6,216.2L535.9,214.5L536.2,216.0L536.5,214.6L536.8,215.2L537.1,215.9L537.4,215.3L537.7,215.3L538.0,214.9L538.3,215.5L538.6,215.4L538.9,215.2L539.2,214.9L539.5,215.6L539.8,215.7L540.1,216.0L540.4,215.7L540.7,216.1L541.0,216.0L541.3,214.4L541.6,216.2L541.9,215.5L542.2,215.1L542.5,215.7L542.8,215.9L543.1,214.9L543.4,215.0L543.7,215.8L544.0,215.3L544.3,216.1L544.6,215.6L544.9,215.3L545.2,215.0L545.5,215.7L545.8,214.8L546.1,215.0L546.4,215.0L546.7,216.2L547.0,216.2L547.3,215.4L547.6,215.3L547.9,215.8L548.2,216.0L548.5,215.2L548.8,216.4L549.1,215.4L549.4,216.0L549.7,214.6L550.0,215.5L550.3,215.2L550.6,216.3L550.9,215.4L551.2,215.0L551.5,216.3L551.8,215.2L552.1,215.5L552.4,215.0L552.7,215.8L553.0,215.6L553.3,215.4L553.6,215.3L553.9,215.3L554.2,215.2L554.5,214.9L554.8,216.0L555.1,215.9L555.4,214.9L555.7,215.0L556.0,215.7L556.3,216.4L556.6,215.4L556.9,215.4L557.2,215.4L557.5,215.6L557.8,215.4L558.1,215.9L558.4,215.9L558.7,215.7L559.0,216.1L559.3,215.4L559.6,215.3L559.9,216.7L560.2,214.7L560.5,214.9L560.8,214.6L561.1,215.6L561.4,215.1L561.7,215.9L562.0,214.7L562.3,215.4L562.6,215.3L562.9,215.1L563.2,215.9L563.5,215.3L563.8,215.7L564.1,215.3L564.4,215.6L564.7,215.3L565.0,215.5L565.3,215.5L565.6,215.2L565.9,215.7L566.2,215.4L566.5,215.1L566.8,215.1L567.1,215.7L567.4,216.0L567.7,215.0L568.0,215.3L568.3,215.7L568.6,215.9L568.9,215.8L569.2,215.0L569.5,215.5L569.8,215.9L569.8,230.1L569.8,229.9L570.1,229.5L570.4,230.1L570.7,230.0L571.0,230.0L571.3,230.6L571.6,230.5L571.9,229.7L572.2,230.1L572.5,229.9L572.5,215.5L572.5,216.2L572.8,215.9L573.1,215.5L573.4,215.2L573.7,215.4L574.0,215.6L574.3,215.3L574.6,215.9L574.9,215.5L575.2,215.0L575.5,216.3L575.8,214.3L576.1,215.4L576.4,215.5L576.7,215.9L577.0,215.9L577.3,216.1L577.6,216.1L577.9,215.6L578.2,215.5L578.5,215.9L578.8,215.5L579.1,215.0L579.4,215.3L579.7,215.8L580.0,215.7L580.3,215.1L580.6,216.0L580.9,215.6L581.2,214.9L581.5,215.7L581.8,215.9L582.1,215.7L582.4,215.4L582.7,215.2L583.0,215.9L583.3,215.6L583.6,215.5L583.9,215.3L584.2,215.1L584.5,214.7L584.8,215.4L585.1,215.9L585.4,215.8L585.7,215.2L586.0,216.1L586.3,215.4L586.6,215.1L586.9,215.9L587.2,216.1L587.5,215.3L587.8,215.0L588.1,215.5L588.4,214.5L588.7,215.5L589.0,216.1L589.3,215.6L589.6,215.2L589.9,215.8L590.2,215.3L590.5,216.0L590.8,215.4L591.1,216.3L591.4,215.4L591.7,215.6L592.0,215.1L592.3,215.0L592.6,215.6L592.9,215.6L593.2,215.1L593.5,215.7L593.8,215.3L594.1,215.3L594.4,215.5L594.7,215.7L595.0,215.8L595.3,216.0L595.6,215.7L595.9,215.2L596.2,215.2L596.5,215.6L596.8,215.0L597.1,215.4L597.4,215.3L597.7,215.5L598.0,215.6L598.3,215.9L598.6,216.2L598.9,215.9L599.2,215.9L599.5,215.1L599.8,215.9L600.1,216.0L600.4,215.0L600.7,216.5L601.0,215.3L601.3,214.5L601.6,216.2L601.9,215.5L602.2,215.2L602.5,215.3L602.8,215.9L603.1,215.6L603.4,215.3L603.7,216.0L604.0,215.1L604.3,215.2L604.6,215.3L604.9,215.2L605.2,215.8L605.5,215.4L605.8,215.1L606.1,215.3L606.4,214.7L606.7,215.6L607.0,215.5L607.3,215.7L607.6,215.4L607.9,215.7L608.2,215.1L608.5,215.5L608.8,215.6L609.1,215.0L609.4,215.7L609.7,215.6L610.0,215.5L610.3,215.3L610.6,216.3L610.9,215.5L611.2,215.2L611.5,215.2L611.8,215.7L612.1,215.4L612.4,215.2L612.7,215.2L613.0,215.9L613.3,215.5L613.6,215.9L613.9,215.5L614.2,215.0L614.5,215.8L614.8,215.6L615.1,215.2L615.4,215.4L615.7,215.1L616.0,215.8L616.3,215.3L616.6,215.7L616.9,215.6L617.2,215.4L617.5,215.6L617.8,215.4L618.1,215.0L618.4,215.3L618.7,215.0L619.0,215.8L619.3,215.8L619.6,215.3L619.9,215.7L620.2,215.6L620.5,215.9L620.8,215.1L621.1,215.5L621.4,215.1L621.7,215.2L622.0,216.0L622.3,214.7L622.6,215.1L622.9,215.7L623.2,215.8L623.5,215.2L623.8,214.7L624.1,214.8L624.4,215.6L624.7,215.9L625.0,215.9L625.3,215.2L625.6,216.0L625.9,215.4L626.2,215.7L626.5,215.4L626.8,216.1L627.1,215.3L627.4,214.6L627.7,215.4L628.0,215.6L628.3,215.6L628.6,215.2L628.9,215.4L629.2,215.0L629.5,215.4L629.8,215.5L630.1,215.6L630.4,216.2L630.7,214.7L631.0,215.7L631.3,215.7L631.6,215.0L631.9,215.5L632.2,215.5L632.5,215.1L632.8,215.8L633.1,216.3L633.4,215.8L633.7,215.8L634.0,215.9L634.3,215.4L634.6,215.9L634.9,215.2L635.2,215.6L635.5,215.8L635.8,216.0L636.1,215.4L636.4,215.4L636.7,215.7L637.0,215.5L637.3,215.6L637.6,215.8L637.9,215.2L638.2,215.8L638.5,215.7L638.8,215.4L639.1,215.0L639.4,215.2L639.7,215.5L640.0,215.9L640.3,214.7L640.6,215.8L640.9,215.6L641.2,215.0L641.5,215.8L641.8,215.7L642.1,215.7L642.4,215.1L642.7,215.1L643.0,215.9L643.3,216.1L643.6,215.6L643.9,215.4L644.2,215.3L644.5,214.8L644.8,215.9L645.1,215.5L645.4,216.0L645.7,215.2L646.0,215.9L646.3,215.2L646.6,215.7L646.9,216.0L647.2,215.2L647.5,215.9L647.8,215.5L648.1,215.1L648.4,215.6L648.7,215.8L649.0,215.2L649.3,215.4L649.6,215.3L649.9,215.2L650.2,215.4L650.5,215.8L650.8,215.3L651.1,216.0L651.4,215.3L651.7,215.2L652.0,215.9L652.3,216.1L652.6,215.2L652.9,215.7L653.2,215.0L653.5,215.3L653.8,215.4L654.1,215.8L654.4,215.0L654.7,215.3L655.0,215.2L655.3,215.5L655.6,215.0L655.9,215.0L656.2,216.6L656.5,215.6L656.8,214.9L657.1,215.8L657.4,215.0L657.7,214.8L658.0,216.2L658.3,216.0L658.6,215.2L658.9,215.1L659.2,215.7L659.5,216.3L659.8,215.7L660.1,215.8L660.4,215.0L660.7,214.8L661.0,215.7L661.3,215.9L661.6,215.6L661.9,215.5L662.2,216.0L662.5,215.2L662.8,215.9L663.1,215.8L663.4,215.3L663.7,215.5L664.0,215.5L664.3,215.7L664.6,215.1L664.9,215.4L665.2,215.5L665.5,215.5L665.8,215.5L666.1,215.6L666.4,215.4L666.7,215.3L667.0,215.9L667.3,215.2L667.6,215.4L667.9,215.2L668.2,215.0L668.5,215.7L668.8,215.5L669.1,215.4L669.4,215.7L669.7,215.4L670.0,215.8L670.3,216.2L670.6,215.6L670.9,215.4L671.2,216.2L671.5,215.8L671.8,214.8L672.1,216.0L672.4,215.6L672.7,215.8L673.0,215.0L673.3,215.2L673.6,215.2L673.9,215.7L674.2,215.1L674.5,215.2L674.8,215.9L675.1,215.2L675.4,215.5L675.7,215.1L676.0,214.8L676.3,215.5L676.6,215.5L676.9,214.9L677.2,215.9L677.5,215.8L677.8,215.8L678.1,215.3L678.4,215.0L678.7,215.5L679.0,215.6L679.3,215.4L679.6,215.3L679.9,215.1L680.2,215.2L680.5,215.5L680.8,215.3L681.1,216.2L681.4,215.4L681.7,215.7L682.0,215.3L682.3,215.4L682.6,215.1L682.9,215.3L683.2,214.9L683.5,214.7L683.8,216.0L684.1,215.1L684.4,215.7L684.7,215.5L685.0,215.3L685.3,215.8L685.6,215.3L685.9,215.7L686.2,215.4L686.5,215.9L686.8,215.9L687.1,215.5L687.4,215.9L687.7,215.7L688.0,216.1L688.3,215.5L688.6,214.9L688.9,215.6L689.2,215.6L689.5,215.4L689.8,215.4L690.1,215.4L690.4,215.0L690.7,216.2L691.0,215.2L691.3,215.1L691.6,214.9L691.9,215.2L692.2,215.5L692.5,216.1L692.8,215.7L693.1,215.2L693.4,215.0L693.7,215.1L694.0,215.5L694.3,215.8L694.6,215.3L694.9,216.1L695.2,216.3L695.5,215.6L695.8,214.7L696.1,215.9L696.4,215.5L696.7,215.8L697.0,215.9L697.3,215.1L697.6,215.5L697.9,215.6L698.2,215.2L698.5,215.8L698.8,215.4L699.1,215.3L699.4,216.2L699.7,215.6L700.0,216.1L700.3,215.4L700.6,215.9L700.9,215.2L701.2,215.6L701.5,215.9L701.8,214.6L702.1,215.7L702.4,215.4L702.7,215.9L703.0,215.6L703.3,215.5L703.6,215.0L703.9,216.6L704.2,215.2L704.5,215.4L704.8,215.2L705.1,215.4L705.4,215.6L705.7,215.0L706.0,215.9L706.3,215.4L706.6,215.7L706.9,214.7L707.2,215.3L707.5,215.4L707.8,215.3L708.1,215.2L708.4,215.6L708.7,215.7L709.0,215.1L709.3,214.7L709.6,215.8L709.9,215.4L710.2,215.9L710.5,215.8L710.8,215.5L711.1,214.9L711.4,215.4L711.7,215.2L712.0,216.0L712.3,214.8L712.6,215.9L712.9,214.9L713.2,215.3L713.5,214.9L713.8,215.2L714.1,215.3L714.4,215.6L714.7,215.3L715.0,215.8L715.3,216.2L715.6,215.6L715.9,215.0L716.2,215.4L716.5,215.5L716.8,215.4L717.1,215.9L717.4,216.0L717.7,216.3L718.0,215.7L718.3,214.5L718.6,215.4L718.9,215.8L719.2,215.2L719.5,215.3L719.8,215.9L720.1,215.6L720.4,215.1L720.7,215.3L721.0,214.3L721.3,215.5L721.6,215.0L721.9,215.5L722.2,215.0L722.5,215.1L722.8,215.3L723.1,216.6L723.4,215.0L723.7,215.0L724.0,215.3L724.3,215.9L724.6,215.8L724.9,215.8L725.2,215.4L725.5,215.5L725.8,215.2L726.1,215.4L726.4,215.2L726.7,214.9L727.0,215.1L727.3,216.3L727.6,215.7L727.9,215.2L728.2,215.5L728.5,215.3L728.8,216.0L729.1,215.5L729.4,215.2L729.7,215.8L730.0,215.6L730.3,215.2L730.6,215.2L730.9,215.6L731.2,214.9L731.5,215.1L731.8,215.9L732.1,215.8L732.4,215.9L732.7,215.3L733.0,215.3L733.3,215.4L733.6,215.3L733.9,216.0L734.2,215.4L734.5,216.0L734.8,215.2L735.1,215.6L735.4,216.1L735.7,215.2L736.0,215.2L736.3,215.3L736.6,214.9L736.9,215.4L737.2,215.2L737.5,216.4L737.8,215.3L738.1,214.7L738.4,215.9L738.7,215.9L739.0,215.5L739.3,215.6L739.6,215.8L739.9,215.3L740.2,215.5L740.5,215.6L740.8,216.1L741.1,216.0L741.4,215.6L741.7,215.0L742.0,215.8L742.3,215.5L742.6,216.0L742.9,215.5L743.2,215.6L743.5,215.8L743.8,215.2L744.1,215.2L744.4,216.4L744.7,215.2L745.0,215.9L745.3,215.8L745.6,215.8L745.9,216.0L746.2,215.0L746.5,215.9L746.8,214.7L747.1,215.5L747.4,215.6L747.7,215.9L748.0,215.9L748.3,215.1L748.6,215.4L748.9,215.4L749.2,215.2L749.5,215.2L749.8,215.2L750.1,215.9L750.4,216.0L750.7,215.8L751.0,216.2L751.3,215.5L751.6,215.1L751.9,215.2L752.2,215.6L752.5,215.9L752.8,216.0L753.1,215.1L753.4,215.9L753.7,215.3L754.0,215.7L754.3,215.9L754.6,216.1L754.9,215.3L755.2,215.6L755.5,215.7L755.8,215.3L756.1,215.5L756.4,215.7L756.7,214.9" fill="none" stroke="#000" stroke-width="1.2" stroke-linejoin="round" stroke-linecap="butt" />
<path d="M459.8,215.5V216.3M466.6,215.5V225.0M470.5,215.5V223.0M472.8,215.5V216.7M479.2,215.5V217.2M479.7,215.5V216.9M481.7,215.5V216.5M485.8,215.5V230.0M491.0,215.5V220.0M507.5,215.5V217.7M507.8,215.5V218.0M536.1,215.5V217.3M539.7,215.5V216.3M541.9,215.5V217.4M553.0,215.5V217.3M567.8,215.5V228.0M571.1,230.0V217.2M571.6,230.0V217.4M573.4,215.5V216.9M578.9,215.5V216.7M581.4,215.5V218.0M588.6,215.5V222.0M606.6,215.5V216.8M634.3,215.5V216.3M635.0,215.5V216.8M650.0,215.5V218.0M652.1,215.5V217.5M661.8,215.5V217.5M670.8,215.5V217.7M672.0,215.5V217.4M680.2,215.5V216.4M704.3,215.5V228.0M706.3,215.5V228.0M709.8,215.5V216.9M718.9,215.5V217.5M724.7,215.5V217.3M730.2,215.5V217.6M745.5,215.5V217.7M746.0,215.5V216.8M746.7,215.5V217.4M750.4,215.5V217.0" fill="none" stroke="#000" stroke-width="0.75"/>
<path d="M436.5,233.6L437.2,235.0L437.2,235.3L437.5,235.5L437.8,235.2L438.1,236.0L438.4,236.0L438.7,235.3L439.0,236.0L439.3,235.6L439.6,235.6L439.9,236.3L440.2,235.8L440.5,235.7L440.8,235.5L441.1,235.7L441.4,236.0L441.7,235.8L442.0,235.3L442.3,235.8L442.6,235.6L442.9,235.7L443.2,235.5L443.5,234.7L443.8,235.0L444.1,235.4L444.4,234.7L444.7,235.0L445.0,236.4L445.3,235.9L445.6,235.4L445.9,235.7L446.2,234.7L446.5,235.7L446.8,236.0L447.1,235.7L447.4,235.1L447.7,236.0L448.0,235.4L448.3,235.4L448.6,235.7L448.9,235.5L449.2,236.4L449.5,235.5L449.8,236.4L450.1,235.8L450.4,235.1L450.7,235.6L451.0,235.6L451.3,236.2L451.6,236.1L451.9,236.6L452.2,235.3L452.5,235.4L452.8,236.5L453.1,235.2L453.4,235.7L453.7,236.2L454.0,235.2L454.3,235.5L454.6,235.3L454.9,235.8L455.2,235.8L455.5,235.6L455.8,235.9L456.1,235.3L456.4,235.5L456.7,235.8L457.0,236.4L457.3,235.6L457.6,235.6L457.9,236.1L458.2,235.6L458.5,236.1L458.8,235.7L459.1,236.0L459.4,235.7L459.7,235.2L460.0,235.3L460.3,235.8L460.6,236.3L460.9,236.3L461.2,235.5L461.5,236.6L461.8,235.2L462.1,235.3L462.4,236.0L462.7,235.0L463.0,236.0L463.3,235.7L463.6,235.8L463.9,235.1L464.2,235.8L464.5,236.0L464.8,235.6L465.1,236.0L465.4,235.6L465.7,235.7L466.0,235.5L466.3,235.1L466.6,235.5L466.9,235.8L467.2,235.3L467.5,234.8L467.8,235.0L468.1,236.1L468.4,235.5L468.7,235.3L469.0,236.1L469.3,235.5L469.6,235.0L469.9,235.4L470.2,235.2L470.5,235.5L470.8,235.2L471.1,235.6L471.4,235.8L471.7,235.4L472.0,235.5L472.3,235.5L472.6,235.9L472.9,235.3L473.2,235.9L473.5,236.1L473.8,235.5L474.1,235.2L474.4,235.5L474.7,234.9L475.0,235.4L475.3,235.1L475.6,235.5L475.9,235.4L476.2,235.8L476.5,235.6L476.8,235.8L477.1,235.6L477.4,235.7L477.7,235.1L478.0,235.9L478.3,236.1L478.6,236.0L478.9,235.1L479.2,235.8L479.5,235.0L479.8,235.9L480.1,235.5L480.4,235.4L480.7,235.3L481.0,235.5L481.3,235.6L481.6,235.2L481.9,235.6L482.2,235.7L482.5,235.8L482.8,235.6L483.1,235.6L483.4,236.5L483.7,236.0L484.0,235.7L484.3,235.0L484.6,235.8L484.9,235.8L485.2,234.5L485.5,235.5L485.8,235.8L486.1,235.6L486.4,235.6L486.7,235.5L487.0,236.2L487.3,235.7L487.6,235.5L487.9,235.5L488.2,236.4L488.5,235.3L488.8,235.4L489.1,235.7L489.4,235.7L489.7,235.7L490.0,236.1L490.3,236.0L490.6,235.8L490.9,235.6L491.2,235.6L491.5,235.5L491.8,236.0L492.1,235.1L492.4,235.2L492.7,235.4L493.0,235.2L493.3,235.3L493.6,236.1L493.9,234.7L494.2,235.8L494.5,235.1L494.8,235.5L494.8,250.7L494.8,250.5L495.1,250.3L495.4,250.9L495.7,249.7L496.0,250.1L496.3,250.7L496.6,251.3L496.9,251.6L497.2,250.8L497.5,250.6L497.8,250.8L498.1,251.1L498.4,251.3L498.7,250.5L499.0,251.1L499.3,250.9L499.6,251.4L499.9,250.7L500.2,250.8L500.5,250.6L500.8,250.4L501.1,251.0L501.4,251.2L501.7,251.3L502.0,251.0L502.3,250.7L502.6,250.5L502.9,250.4L503.2,250.6L503.5,251.0L503.8,250.9L504.1,250.0L504.4,250.9L504.7,250.8L505.0,250.5L505.3,250.9L505.6,251.1L505.9,250.5L506.2,250.4L506.5,250.8L506.5,235.7L506.5,235.5L506.8,236.2L507.1,235.7L507.4,235.2L507.7,235.9L508.0,235.3L508.3,235.9L508.6,235.6L508.9,236.1L509.2,235.2L509.5,235.9L509.8,235.8L510.1,235.2L510.4,235.9L510.7,236.5L511.0,235.7L511.3,235.3L511.6,235.5L511.9,236.1L512.2,235.7L512.5,236.2L512.8,235.3L513.1,236.1L513.4,235.0L513.7,235.5L514.0,235.5L514.3,235.4L514.6,236.1L514.9,235.4L515.2,235.7L515.5,236.3L515.8,235.9L516.1,235.4L516.4,235.3L516.7,234.8L517.0,235.8L517.3,235.9L517.6,236.0L517.9,235.7L518.2,236.5L518.5,235.9L518.8,234.7L519.1,235.2L519.4,235.9L519.7,235.4L520.0,235.9L520.3,236.6L520.6,235.3L520.9,236.5L521.2,235.6L521.5,235.0L521.8,235.6L522.1,236.0L522.4,235.4L522.7,236.2L523.0,235.3L523.3,235.5L523.6,236.0L523.9,235.5L524.2,235.4L524.5,235.6L524.8,235.9L525.1,236.3L525.4,236.1L525.7,236.3L526.0,235.6L526.3,234.9L526.6,235.6L526.9,235.4L527.2,235.2L527.5,235.4L527.8,235.6L528.1,235.6L528.4,236.0L528.7,235.2L529.0,236.1L529.3,235.6L529.6,235.9L529.9,236.1L530.2,235.1L530.5,236.2L530.8,235.3L531.1,235.8L531.4,236.0L531.7,236.0L532.0,235.0L532.3,235.7L532.6,236.1L532.9,235.5L533.2,235.6L533.5,235.6L533.8,236.3L534.1,235.4L534.4,235.2L534.7,235.2L535.0,235.4L535.3,235.5L535.6,235.7L535.9,235.6L536.2,234.9L536.5,235.0L536.8,235.9L537.1,235.9L537.4,235.1L537.4,251.3L537.4,249.9L537.7,251.8L538.0,251.1L538.3,250.2L538.6,251.1L538.9,250.9L539.2,250.7L539.2,235.5L539.2,235.5L539.5,235.6L539.8,235.2L540.1,235.4L540.4,235.8L540.7,235.8L540.7,250.4L540.7,250.7L541.0,251.5L541.3,251.2L541.6,251.6L541.9,250.4L542.2,250.5L542.5,250.0L542.8,250.1L542.8,235.4L542.8,235.2L543.1,235.2L543.4,235.3L543.7,235.5L544.0,235.9L544.3,235.8L544.6,234.9L544.9,236.2L545.2,235.5L545.5,235.2L545.8,235.6L546.1,235.4L546.4,235.0L546.7,236.2L547.0,235.4L547.3,235.4L547.6,235.8L547.9,236.3L548.2,235.8L548.5,235.2L548.8,235.8L549.1,236.0L549.4,235.8L549.7,235.9L550.0,235.4L550.3,235.6L550.6,234.9L550.9,235.3L551.2,235.1L551.5,235.6L551.8,236.2L552.1,234.7L552.4,235.1L552.7,235.2L553.0,235.6L553.3,236.1L553.6,235.3L553.9,235.3L554.2,236.1L554.5,235.7L554.8,235.8L555.1,235.9L555.4,235.3L555.7,235.7L556.0,235.3L556.3,235.3L556.6,235.7L556.9,235.8L557.2,235.1L557.5,235.3L557.8,235.8L558.1,235.7L558.4,235.9L558.7,235.5L559.0,235.3L559.3,235.9L559.6,235.8L559.9,234.5L560.2,235.9L560.5,235.3L560.8,235.9L561.1,236.2L561.4,235.5L561.7,235.2L562.0,235.7L562.3,235.6L562.6,235.8L562.9,235.0L563.2,235.7L563.5,236.0L563.8,235.9L564.1,235.9L564.4,236.1L564.7,235.3L565.0,236.1L565.3,235.7L565.6,235.2L565.9,235.5L566.2,235.7L566.5,235.7L566.8,236.1L567.1,235.7L567.4,235.4L567.7,236.5L568.0,235.5L568.3,235.3L568.6,236.0L568.9,235.4L569.2,235.3L569.5,235.2L569.8,236.1L570.1,235.2L570.4,235.6L570.7,235.4L571.0,235.5L571.3,235.3L571.6,235.7L571.9,235.8L572.2,236.0L572.5,235.5L572.8,235.1L573.1,235.0L573.4,235.6L573.7,234.6L574.0,236.1L574.3,235.6L574.6,235.7L574.9,235.0L575.2,235.3L575.5,235.3L575.8,235.9L576.1,235.4L576.4,235.8L576.7,235.8L577.0,234.8L577.3,235.5L577.6,236.1L577.9,235.4L578.2,235.7L578.5,235.5L578.8,235.1L579.1,236.5L579.4,235.5L579.7,235.9L580.0,235.4L580.3,236.2L580.6,236.1L580.9,236.1L581.2,236.0L581.5,235.9L581.8,236.2L582.1,235.8L582.4,235.7L582.7,235.9L583.0,235.2L583.3,234.6L583.6,235.9L583.9,235.7L584.2,235.3L584.5,235.5L584.8,235.2L585.1,235.3L585.4,235.7L585.7,235.6L586.0,235.9L586.3,235.6L586.6,235.9L586.9,235.9L587.2,235.3L587.5,234.9L587.8,235.3L588.1,235.5L588.4,235.4L588.7,236.5L589.0,235.3L589.3,235.8L589.6,235.3L589.9,235.9L590.2,235.1L590.5,236.0L590.8,235.7L591.1,235.4L591.4,235.1L591.7,236.3L592.0,235.4L592.3,236.2L592.6,234.6L592.9,235.1L593.2,236.3L593.5,236.3L593.8,235.6L594.1,236.0L594.4,235.8L594.7,235.5L595.0,235.7L595.3,235.1L595.6,235.1L595.9,235.6L596.2,235.9L596.5,235.7L596.8,235.1L597.1,235.9L597.4,235.6L597.7,235.9L598.0,235.5L598.3,235.5L598.6,236.0L598.9,236.2L599.2,235.1L599.5,235.2L599.8,236.0L600.1,235.7L600.4,235.6L600.7,235.2L601.0,236.0L601.3,235.7L601.6,235.7L601.9,235.8L602.2,235.4L602.5,235.8L602.8,235.7L603.1,235.9L603.4,235.8L603.7,235.1L604.0,235.3L604.3,235.5L604.6,236.1L604.9,235.3L605.2,236.1L605.5,236.0L605.8,236.0L606.1,236.5L606.4,235.6L606.7,235.7L607.0,236.1L607.3,235.8L607.6,236.0L607.9,235.5L608.2,236.2L608.5,235.7L608.8,234.8L609.1,236.0L609.4,235.5L609.7,235.2L610.0,235.5L610.3,235.5L610.6,236.1L610.9,235.7L611.2,235.6L611.5,235.6L611.8,235.2L612.1,235.3L612.4,235.4L612.7,235.5L613.0,235.1L613.3,235.4L613.6,236.0L613.9,235.8L614.2,235.6L614.5,235.7L614.8,235.5L615.1,235.1L615.4,236.0L615.7,236.5L616.0,235.8L616.3,235.9L616.6,236.6L616.9,235.1L617.2,235.8L617.5,235.5L617.8,235.5L618.1,234.9L618.4,235.6L618.7,235.8L619.0,235.0L619.3,235.5L619.6,235.4L619.9,235.2L620.2,235.9L620.5,236.3L620.8,235.8L621.1,236.0L621.4,235.9L621.7,235.6L622.0,235.8L622.3,236.1L622.6,235.4L622.9,235.5L623.2,235.1L623.5,234.9L623.8,235.3L624.1,236.0L624.4,235.8L624.7,235.7L625.0,236.1L625.3,234.9L625.6,236.2L625.9,235.6L626.2,235.9L626.5,236.2L626.8,235.3L627.1,235.3L627.4,235.8L627.7,235.6L628.0,235.4L628.3,235.5L628.6,235.3L628.9,235.7L629.2,235.5L629.5,236.3L629.8,235.2L630.1,235.8L630.4,235.6L630.7,236.2L631.0,235.2L631.3,235.4L631.6,236.3L631.9,235.3L632.2,235.5L632.5,235.4L632.8,235.2L633.1,236.1L633.4,236.2L633.7,235.5L634.0,235.3L634.3,235.1L634.6,235.9L634.9,235.4L635.2,235.8L635.5,234.6L635.8,235.4L636.1,235.9L636.4,235.8L636.7,234.4L637.0,235.7L637.3,235.7L637.6,235.6L637.9,235.5L638.2,235.4L638.5,235.7L638.8,235.8L639.1,234.4L639.4,235.6L639.7,236.0L640.0,235.5L640.3,236.1L640.6,235.2L640.9,236.4L641.2,236.0L641.5,235.4L641.8,236.7L642.1,236.2L642.4,236.2L642.7,235.1L643.0,235.6L643.3,235.8L643.6,236.0L643.9,235.6L644.2,235.1L644.5,236.1L644.8,235.5L645.1,235.8L645.4,235.5L645.7,235.6L646.0,235.1L646.3,235.9L646.6,235.4L646.9,234.9L647.2,235.8L647.5,235.6L647.8,236.0L648.1,235.9L648.4,235.1L648.7,235.5L649.0,235.6L649.3,235.6L649.6,235.2L649.9,235.6L650.2,236.0L650.5,236.1L650.8,236.2L651.1,235.9L651.4,234.6L651.7,235.5L652.0,235.4L652.3,234.4L652.6,236.2L652.9,236.0L653.2,235.6L653.5,235.7L653.8,235.8L654.1,235.5L654.4,236.1L654.7,236.3L655.0,235.9L655.3,235.4L655.6,235.7L655.9,236.0L656.2,235.9L656.5,235.3L656.8,236.0L657.1,235.9L657.4,235.8L657.7,235.4L658.0,235.6L658.3,234.8L658.6,235.6L658.9,235.4L659.2,235.5L659.5,235.5L659.8,235.5L660.1,235.6L660.4,235.6L660.7,235.4L661.0,235.6L661.3,235.6L661.6,235.8L661.9,235.8L662.2,235.5L662.5,235.3L662.8,235.0L663.1,235.1L663.4,235.8L663.7,235.2L664.0,236.2L664.3,235.5L664.6,235.5L664.9,235.5L665.2,235.4L665.5,235.3L665.8,235.6L666.1,235.0L666.4,235.7L666.7,235.6L667.0,235.2L667.3,236.0L667.6,235.7L667.9,236.0L668.2,235.3L668.5,235.1L668.8,235.1L669.1,235.0L669.4,234.9L669.7,236.2L670.0,235.4L670.3,235.7L670.6,235.4L670.9,235.5L671.2,236.2L671.5,234.9L671.8,235.2L672.1,235.7L672.4,235.2L672.7,235.9L673.0,236.1L673.3,236.0L673.6,235.9L673.9,235.5L674.2,236.0L674.5,235.3L674.8,235.1L675.1,235.5L675.4,235.5L675.7,236.1L676.0,235.2L676.3,236.1L676.6,235.3L676.9,235.1L677.2,234.9L677.5,235.6L677.8,235.0L678.1,235.7L678.4,235.6L678.7,235.4L679.0,234.8L679.3,235.4L679.6,235.8L679.9,234.9L680.2,235.9L680.5,235.6L680.8,235.4L681.1,235.7L681.4,235.9L681.7,235.6L682.0,235.3L682.3,235.9L682.6,235.3L682.9,235.7L683.2,236.0L683.5,236.1L683.8,236.2L684.1,236.0L684.4,235.7L684.7,235.5L685.0,235.7L685.3,235.8L685.6,236.8L685.9,235.9L686.2,235.3L686.5,236.2L686.8,235.0L687.1,236.0L687.4,235.1L687.7,235.2L688.0,235.4L688.3,235.5L688.6,235.1L688.9,235.8L689.2,235.6L689.5,236.1L689.8,235.2L690.1,234.9L690.4,235.9L690.7,235.5L691.0,236.0L691.3,234.7L691.6,235.1L691.9,235.6L692.2,236.4L692.5,235.1L692.8,234.8L693.1,235.4L693.4,236.2L693.7,236.2L694.0,235.1L694.3,235.4L694.6,234.9L694.9,235.3L695.2,235.2L695.5,235.8L695.8,236.1L696.1,236.6L696.4,235.5L696.7,235.9L697.0,235.7L697.3,235.7L697.6,236.4L697.9,235.9L698.2,236.2L698.5,235.7L698.8,235.9L699.1,235.8L699.4,235.6L699.7,235.3L700.0,235.4L700.3,235.6L700.3,236.5L700.3,236.5L700.6,236.3L700.9,236.9L701.2,236.5L701.5,236.6L701.8,236.5L702.1,237.1L702.4,236.4L702.7,237.2L703.0,236.3L703.3,237.2L703.6,236.8L703.9,236.4L704.2,236.8L704.5,237.1L704.8,236.2L705.1,236.5L705.4,236.7L705.7,236.5L706.0,236.5L706.3,236.6L706.6,236.7L706.9,236.9L707.2,237.2L707.5,236.5L707.8,237.8L708.1,236.5L708.4,237.3L708.7,236.5L709.0,236.0L709.3,236.4L709.6,236.5L709.9,237.0L710.2,235.8L710.5,236.3L710.8,236.5L711.1,236.9L711.4,236.8L711.7,236.9L712.0,236.5L712.3,236.5L712.6,237.1L712.9,237.3L713.2,236.8L713.5,236.7L713.8,236.3L714.1,237.4L714.4,236.8L714.7,236.8L715.0,236.0L715.3,236.8L715.6,237.6L715.9,236.5L716.2,236.5L716.5,237.2L716.8,236.5L717.1,236.9L717.4,237.4L717.7,236.1L718.0,236.3L718.3,236.9L718.6,236.6L718.9,236.6L719.2,236.5L719.5,236.7L719.8,236.7L720.1,236.4L720.4,236.5L720.7,236.7L721.0,236.2L721.3,236.8L721.6,235.7L721.9,236.9L722.2,236.6L722.5,236.1L722.8,237.1L723.1,236.1L723.4,237.4L723.7,236.3L724.0,237.1L724.3,236.6L724.6,237.2L724.9,236.5L725.2,237.0L725.5,236.5L725.8,235.9L726.1,236.8L726.4,236.8L726.7,236.8L727.0,237.3L727.3,236.3L727.6,236.0L727.9,236.7L728.2,236.3L728.5,236.6L728.8,236.6L729.1,236.3L729.4,237.0L729.7,236.6L730.0,237.3L730.3,236.7L730.6,237.0L730.9,236.5L731.2,236.3L731.5,236.4L731.8,236.3L732.1,236.8L732.4,236.7L732.7,236.2L733.0,236.0L733.3,236.3L733.6,235.9L733.9,236.2L734.2,236.0L734.5,236.9L734.8,236.1L735.1,236.4L735.4,236.6L735.7,236.6L736.0,236.8L736.3,236.9L736.6,236.9L736.9,236.5L737.2,237.1L737.5,236.7L737.8,236.3L738.1,237.2L738.4,236.1L738.7,236.8L739.0,237.1L739.3,236.6L739.6,236.7L739.9,236.7L740.2,236.9L740.5,236.7L740.8,236.6L741.1,236.9L741.4,235.9L741.7,236.7L742.0,236.5L742.3,237.4L742.6,236.7L742.9,236.3L743.2,236.9L743.5,236.4L743.8,236.1L744.1,236.5L744.4,236.8L744.7,237.1L745.0,237.0L745.3,236.7L745.6,236.5L745.9,236.7L746.2,237.1L746.5,236.6L746.8,237.1L747.1,236.3L747.4,236.6L747.7,236.9L748.0,236.9L748.3,236.7L748.6,236.4L748.9,235.9L749.2,236.4L749.5,236.3L749.8,236.4L750.1,237.2L750.4,236.3L750.7,236.9L751.0,236.6L751.3,236.2L751.6,236.6L751.9,236.9L752.2,236.1L752.5,236.1L752.8,236.5L753.1,236.9L753.4,236.4L753.7,236.8L754.0,236.8L754.3,236.6L754.6,236.8L754.9,237.1L755.2,236.5L755.5,236.7L755.8,236.2L756.1,236.3L756.4,236.6L756.7,236.9" fill="none" stroke="#000" stroke-width="1.2" stroke-linejoin="round" stroke-linecap="butt" />
<path d="M441.3,235.6V240.0M445.1,235.6V237.8M453.6,235.6V250.9M455.0,235.6V236.9M468.9,235.6V250.9M472.1,235.6V244.0M473.2,235.6V250.9M473.6,235.6V250.9M473.8,235.6V238.1M474.0,235.6V244.0M481.9,235.6V245.0M491.9,235.6V250.9M493.7,235.6V250.9M493.8,235.6V250.9M498.0,250.9V238.0M498.4,250.9V237.8M501.2,250.9V236.7M508.1,235.6V247.0M508.3,235.6V250.9M508.4,235.6V238.2M509.6,235.6V250.9M511.2,235.6V247.0M518.5,235.6V237.1M520.8,235.6V250.9M527.7,235.6V238.2M548.6,235.6V244.0M552.2,235.6V247.0M554.2,235.6V244.0M554.3,235.6V247.0M554.9,235.6V244.0M555.7,235.6V236.6M559.4,235.6V248.0M563.4,235.6V237.3M569.1,235.6V236.9M573.0,235.6V237.5M575.6,235.6V236.9M586.0,235.6V243.0M590.3,235.6V237.8M602.3,235.6V238.2M603.2,235.6V237.9M608.4,235.6V237.2M610.6,235.6V245.0M611.3,235.6V237.6M614.5,235.6V247.0M617.6,235.6V236.8M626.6,235.6V237.8M629.1,235.6V238.2M631.0,235.6V243.0M631.0,235.6V237.9M636.4,235.6V238.1M651.1,235.6V246.0M657.8,235.6V237.6M678.3,235.6V250.9M681.3,235.6V250.9M681.7,235.6V244.0M682.1,235.6V250.9M682.3,235.6V244.0M683.5,235.6V237.0M684.1,235.6V247.0M690.4,235.6V238.1M692.1,235.6V250.9M693.1,235.6V250.9M695.0,235.6V250.9M695.1,235.6V244.0M701.0,236.6V237.5M718.4,236.6V237.1M733.6,236.6V237.6M749.7,236.6V250.9" fill="none" stroke="#000" stroke-width="0.75"/>
<path d="M436.4,257.0L437.0,265.0L437.0,270.0L437.3,269.5L437.6,270.4L437.9,270.0L438.2,270.1L438.5,270.0L438.8,270.5L438.8,255.5L438.8,255.7L439.1,255.7L439.4,255.8L439.7,255.7L440.0,255.9L440.3,256.0L440.6,255.9L440.9,255.7L441.2,256.1L441.5,255.4L441.8,255.2L442.1,255.6L442.4,254.9L442.7,255.3L443.0,255.7L443.3,256.2L443.6,255.8L443.9,255.4L444.2,255.8L444.5,255.8L444.8,255.7L445.1,256.0L445.4,255.3L445.7,256.0L446.0,255.0L446.3,255.6L446.6,255.9L446.9,255.8L447.2,255.4L447.5,254.8L447.8,255.1L448.1,255.2L448.4,255.7L448.7,256.4L449.0,255.4L449.3,256.2L449.6,255.3L449.9,255.6L450.2,255.7L450.5,256.5L450.8,255.7L451.1,254.8L451.4,255.4L451.7,255.9L452.0,255.5L452.3,255.9L452.6,255.5L452.9,255.7L453.2,255.9L453.5,256.5L453.8,255.6L454.1,255.3L454.4,256.0L454.7,255.9L455.0,255.0L455.3,255.9L455.6,255.4L455.9,255.7L456.2,256.1L456.5,256.1L456.8,255.4L457.1,255.8L457.4,255.4L457.7,254.7L458.0,255.6L458.3,255.0L458.6,255.3L458.9,255.8L459.2,255.2L459.5,255.4L459.8,255.0L460.1,255.1L460.4,255.8L460.7,255.9L461.0,254.8L461.3,256.0L461.6,255.6L461.9,255.4L462.2,255.1L462.5,255.8L462.8,255.4L463.1,255.3L463.4,255.7L463.7,255.8L464.0,255.0L464.3,255.8L464.6,255.6L464.9,255.9L465.2,256.0L465.5,255.7L465.8,255.2L466.1,256.1L466.4,255.9L466.7,255.3L467.0,255.3L467.3,255.6L467.6,256.0L467.9,255.7L468.2,256.3L468.5,255.1L468.8,256.0L469.1,255.3L469.4,255.5L469.7,255.5L470.0,256.2L470.3,256.2L470.6,254.9L470.9,255.8L471.2,255.9L471.5,255.8L471.8,255.8L472.1,255.1L472.4,256.0L472.7,256.1L473.0,255.3L473.3,255.8L473.6,255.9L473.9,255.8L474.2,255.9L474.5,255.2L474.8,255.4L475.1,255.8L475.4,255.9L475.7,256.0L476.0,255.3L476.3,255.3L476.6,255.4L476.9,255.4L477.2,256.2L477.5,256.2L477.8,255.7L478.1,256.1L478.4,255.4L478.7,255.7L479.0,255.6L479.3,255.7L479.6,255.4L479.9,255.1L480.2,255.9L480.5,255.5L480.8,255.3L481.1,255.2L481.4,254.8L481.7,255.2L482.0,255.7L482.3,255.3L482.6,254.9L482.9,255.2L483.2,254.8L483.5,255.8L483.8,254.6L484.1,255.6L484.4,256.2L484.7,255.7L485.0,255.8L485.3,255.1L485.6,256.4L485.9,255.5L486.2,255.9L486.5,256.6L486.8,255.1L487.1,255.6L487.4,255.2L487.7,255.7L488.0,255.5L488.3,255.7L488.6,255.6L488.9,255.4L489.2,255.9L489.5,255.9L489.8,255.3L490.1,255.9L490.4,255.2L490.7,255.3L491.0,255.9L491.3,256.0L491.6,255.7L491.9,256.6L492.2,255.3L492.5,255.8L492.8,255.5L493.1,254.9L493.4,255.9L493.7,255.7L494.0,255.7L494.3,255.6L494.6,255.8L494.9,255.6L495.2,255.0L495.5,255.7L495.8,255.6L496.1,255.4L496.4,254.9L496.7,255.7L497.0,255.7L497.3,256.3L497.6,255.5L497.9,255.8L498.2,255.7L498.5,255.5L498.8,255.4L499.1,255.4L499.4,255.7L499.7,256.0L500.0,255.9L500.3,254.9L500.6,255.4L500.9,256.0L501.2,255.6L501.5,256.1L501.8,255.8L502.1,255.8L502.4,255.9L502.7,256.2L503.0,255.5L503.3,255.3L503.6,255.1L503.9,255.8L504.2,256.2L504.5,255.8L504.8,255.6L505.1,255.8L505.4,255.3L505.7,255.8L506.0,256.2L506.3,255.7L506.6,255.4L506.9,255.8L507.2,256.0L507.5,255.7L507.8,256.1L508.1,255.7L508.4,255.6L508.7,255.4L509.0,255.7L509.3,255.9L509.6,256.1L509.9,256.0L510.2,255.5L510.5,255.0L510.8,255.4L511.1,256.3L511.4,254.8L511.7,255.5L512.0,255.8L512.3,256.1L512.6,255.3L512.9,255.8L513.2,255.4L513.5,255.6L513.8,255.4L514.1,255.7L514.4,255.7L514.7,255.3L515.0,255.9L515.3,255.1L515.6,254.8L515.9,255.1L516.2,255.8L516.5,255.3L516.8,255.8L517.1,255.6L517.4,255.6L517.7,255.6L518.0,256.2L518.3,255.8L518.6,255.0L518.9,255.2L519.2,255.7L519.5,255.7L519.8,255.9L520.1,256.1L520.4,255.6L520.7,255.2L521.0,255.9L521.3,255.3L521.6,255.6L521.9,255.2L522.2,255.8L522.5,256.3L522.8,255.1L523.1,255.5L523.4,256.0L523.7,255.8L524.0,256.6L524.3,255.9L524.6,255.9L524.9,256.0L525.2,255.6L525.5,255.5L525.8,255.6L526.1,255.9L526.4,256.0L526.7,255.3L527.0,255.7L527.3,255.9L527.6,255.7L527.9,255.5L528.2,255.8L528.5,255.4L528.8,255.4L529.1,255.0L529.4,255.5L529.7,256.1L530.0,255.6L530.3,255.0L530.6,255.0L530.9,255.3L531.2,254.9L531.5,255.5L531.8,255.4L532.1,255.9L532.4,255.0L532.7,254.7L533.0,255.7L533.3,256.4L533.6,255.9L533.9,255.3L534.2,256.0L534.5,255.7L534.8,255.4L535.1,255.5L535.4,255.6L535.7,256.6L536.0,255.8L536.3,255.7L536.6,256.0L536.9,256.3L537.2,256.2L537.5,254.8L537.8,255.6L538.1,255.5L538.4,256.0L538.7,255.6L539.0,256.1L539.3,255.5L539.6,255.1L539.9,255.3L540.2,255.4L540.5,255.7L540.8,255.6L541.1,255.9L541.4,256.1L541.7,256.4L542.0,255.5L542.3,255.6L542.6,256.6L542.9,255.1L543.2,255.7L543.5,255.3L543.8,255.2L544.1,256.2L544.4,255.0L544.7,255.3L545.0,256.4L545.3,255.4L545.6,256.2L545.9,255.9L546.2,256.1L546.5,255.2L546.8,256.8L547.1,255.4L547.4,255.3L547.7,255.8L548.0,255.6L548.3,255.6L548.6,255.0L548.9,256.0L549.2,255.6L549.5,256.8L549.8,256.7L550.1,256.1L550.4,255.9L550.7,255.4L551.0,255.5L551.3,256.1L551.6,255.4L551.9,255.4L552.2,255.4L552.5,255.8L552.8,255.9L553.1,255.9L553.4,255.7L553.7,255.2L554.0,255.6L554.3,255.6L554.6,255.4L554.9,255.7L555.2,256.1L555.5,255.5L555.8,255.3L556.1,255.7L556.4,255.8L556.7,255.3L557.0,255.9L557.3,255.7L557.6,255.3L557.9,255.2L558.2,256.2L558.5,255.6L558.8,255.7L559.1,256.5L559.4,255.4L559.7,255.5L560.0,255.9L560.3,255.3L560.6,255.7L560.9,255.8L561.2,254.8L561.5,255.5L561.8,255.2L562.1,256.1L562.4,254.8L562.7,255.8L563.0,256.1L563.3,256.1L563.6,256.6L563.9,255.7L564.2,255.2L564.5,255.6L564.8,255.3L565.1,256.0L565.4,255.8L565.7,256.0L566.0,255.8L566.3,255.9L566.6,255.2L566.9,255.6L567.2,255.9L567.5,255.2L567.8,255.4L568.1,255.8L568.4,255.5L568.7,255.2L569.0,255.7L569.3,255.4L569.6,255.8L569.9,255.2L570.2,255.9L570.5,255.7L570.8,255.9L571.1,254.7L571.4,255.4L571.7,255.2L572.0,255.6L572.3,256.1L572.6,255.7L572.9,255.5L573.2,255.8L573.5,255.1L573.8,255.7L574.1,255.2L574.4,256.1L574.7,255.5L575.0,255.5L575.3,256.1L575.6,255.7L575.9,255.2L576.2,255.3L576.5,255.6L576.8,256.0L577.1,255.5L577.4,255.2L577.7,255.3L578.0,255.5L578.3,255.3L578.6,255.3L578.9,256.3L579.2,255.6L579.5,256.0L579.8,254.5L580.1,256.2L580.4,255.4L580.7,255.3L581.0,255.7L581.3,255.5L581.6,255.2L581.9,255.5L582.2,255.8L582.5,255.1L582.8,255.2L583.1,255.6L583.4,255.4L583.7,255.8L584.0,256.1L584.3,256.2L584.6,256.2L584.9,256.1L585.2,255.4L585.5,255.6L585.8,256.1L586.1,255.6L586.4,255.2L586.7,255.3L587.0,255.2L587.3,256.2L587.6,255.2L587.9,255.4L588.2,255.2L588.5,256.0L588.8,255.3L589.1,255.5L589.4,255.3L589.7,256.0L590.0,255.9L590.3,255.8L590.6,256.6L590.9,255.8L591.2,256.4L591.5,255.5L591.8,255.8L592.1,255.3L592.4,255.4L592.7,256.2L593.0,255.6L593.3,255.9L593.6,255.8L593.9,256.0L594.2,255.9L594.5,255.3L594.8,255.5L595.1,255.4L595.4,255.2L595.7,255.9L596.0,255.1L596.3,255.6L596.6,256.4L596.9,255.9L597.2,255.7L597.5,256.6L597.8,255.8L598.1,254.9L598.4,255.4L598.7,255.8L599.0,255.6L599.3,255.7L599.6,255.6L599.9,255.4L600.2,254.9L600.5,255.0L600.8,256.2L601.1,255.6L601.4,255.1L601.7,255.6L602.0,255.8L602.3,256.0L602.6,255.8L602.9,255.3L603.2,255.6L603.5,255.4L603.8,255.6L604.1,255.4L604.4,256.2L604.7,255.9L605.0,256.0L605.3,256.2L605.6,256.2L605.9,255.8L606.2,256.5L606.5,256.5L606.8,255.1L607.1,255.5L607.4,256.2L607.7,256.6L608.0,256.1L608.3,255.6L608.6,255.5L608.9,255.7L609.2,255.7L609.5,255.1L609.8,256.4L610.1,255.7L610.4,255.3L610.7,255.6L611.0,255.5L611.3,255.2L611.6,255.5L611.9,256.4L612.2,256.0L612.5,254.9L612.8,254.5L613.1,255.2L613.4,255.2L613.7,255.9L614.0,255.9L614.3,256.0L614.6,255.3L614.9,255.3L615.2,255.3L615.5,255.6L615.8,255.6L616.1,255.7L616.4,255.9L616.7,255.7L617.0,255.7L617.3,255.6L617.6,254.4L617.9,255.4L618.2,254.9L618.5,255.8L618.8,256.4L619.1,255.0L619.4,256.1L619.7,255.6L620.0,255.9L620.3,255.3L620.6,255.6L620.9,255.6L621.2,256.2L621.5,255.9L621.8,254.5L622.1,255.4L622.4,255.3L622.7,255.1L623.0,255.7L623.3,254.9L623.6,255.1L623.9,254.7L624.2,255.2L624.5,255.2L624.8,255.7L625.1,255.9L625.4,255.7L625.7,255.5L626.0,255.6L626.3,255.4L626.6,255.7L626.9,255.5L627.2,256.4L627.5,255.8L627.8,255.5L628.1,255.2L628.4,255.4L628.7,255.9L629.0,255.7L629.3,255.2L629.6,255.5L629.9,255.5L630.2,255.5L630.5,255.2L630.8,255.2L631.1,255.8L631.4,256.1L631.7,256.4L632.0,255.3L632.3,255.2L632.6,255.3L632.9,255.6L633.2,255.2L633.5,255.5L633.8,255.2L634.1,255.0L634.4,255.4L634.7,255.1L635.0,255.3L635.3,255.3L635.6,255.8L635.9,255.4L636.2,255.2L636.5,255.2L636.8,255.7L637.1,255.5L637.4,256.1L637.7,255.8L638.0,255.4L638.3,255.3L638.6,255.2L638.9,255.2L639.2,255.2L639.5,255.6L639.8,255.6L640.1,255.3L640.4,256.0L640.7,255.0L641.0,254.9L641.3,255.3L641.6,255.1L641.9,255.2L642.2,256.2L642.5,256.2L642.8,256.2L643.1,255.2L643.4,255.6L643.7,255.4L644.0,255.1L644.3,255.8L644.6,255.6L644.9,256.1L645.2,255.8L645.5,255.6L645.8,255.9L646.1,256.1L646.4,255.6L646.7,255.5L647.0,256.0L647.3,255.6L647.6,255.9L647.9,256.3L648.2,256.4L648.5,255.6L648.8,255.2L649.1,256.4L649.4,256.3L649.7,255.7L650.0,255.5L650.3,255.9L650.6,255.2L650.9,256.0L650.9,270.2L650.9,270.2L651.2,270.2L651.5,269.9L651.8,270.1L652.1,270.4L652.4,270.0L652.7,270.5L653.0,270.0L653.3,270.4L653.6,269.6L653.9,270.7L654.2,270.0L654.5,270.0L654.8,270.4L655.1,270.2L655.4,270.4L655.7,270.1L656.0,270.5L656.3,270.2L656.6,270.2L656.9,269.7L657.2,270.2L657.5,270.5L657.8,270.7L658.1,270.4L658.4,270.8L658.7,270.6L659.0,270.9L659.3,270.1L659.6,270.4L659.9,270.4L660.2,270.4L660.5,270.4L660.8,270.5L661.1,270.6L661.4,270.1L661.7,269.7L662.0,270.6L662.3,270.4L662.6,270.3L662.9,270.4L663.2,269.9L663.5,270.3L663.8,270.4L664.1,270.2L664.4,269.1L664.7,269.7L665.0,270.6L665.3,269.9L665.6,270.3L665.9,270.1L666.2,270.5L666.5,270.2L666.8,270.9L667.1,270.5L667.4,270.4L667.7,270.2L668.0,270.1L668.3,270.7L668.6,270.1L668.9,270.0L669.2,270.0L669.5,270.4L669.8,270.9L670.1,270.3L670.4,270.2L670.7,270.3L671.0,270.0L671.3,270.7L671.6,270.5L671.9,270.8L672.2,270.6L672.5,270.4L672.8,269.9L673.1,270.5L673.4,270.6L673.7,270.2L674.0,270.1L674.3,270.1L674.6,270.0L674.9,270.0L675.2,270.4L675.5,270.6L675.8,270.4L676.1,269.9L676.4,271.0L676.7,270.7L677.0,269.8L677.3,269.6L677.6,270.2L677.9,270.0L678.2,270.6L678.5,269.8L678.8,270.1L679.1,269.5L679.4,270.5L679.7,270.9L680.0,270.2L680.3,270.4L680.6,269.9L680.9,270.5L681.2,270.3L681.5,269.5L681.8,270.2L682.1,270.1L682.4,269.3L682.7,270.3L683.0,269.9L683.3,270.6L683.6,270.4L683.9,269.8L684.2,270.9L684.5,270.6L684.8,269.9L685.1,270.3L685.4,269.6L685.7,269.8L686.0,270.1L686.3,270.9L686.6,270.0L686.9,269.1L687.2,269.7L687.5,270.6L687.8,270.8L688.1,269.9L688.4,270.1L688.7,270.6L689.0,270.6L689.3,270.4L689.6,270.0L689.9,271.1L690.2,269.5L690.5,270.4L690.8,270.7L691.1,269.8L691.4,270.2L691.7,270.4L692.0,270.4L692.3,270.9L692.6,269.9L692.9,270.6L693.2,270.1L693.5,270.1L693.8,270.2L694.1,269.7L694.4,270.4L694.7,270.3L695.0,270.2L695.3,270.1L695.6,270.1L695.9,270.5L696.2,270.2L696.5,270.0L696.8,269.7L697.1,270.3L697.4,270.6L697.7,270.0L698.0,270.3L698.3,270.1L698.6,270.3L698.9,269.9L699.2,269.2L699.5,269.8L699.8,270.1L700.1,270.0L700.4,270.2L700.7,270.2L701.0,269.6L701.3,270.5L701.6,270.4L701.9,270.6L702.2,270.6L702.5,271.0L702.8,270.3L703.1,270.9L703.4,270.5L703.7,270.4L704.0,270.7L704.3,270.0L704.6,269.3L704.9,270.4L705.2,270.0L705.5,270.1L705.8,269.8L706.1,270.4L706.4,270.6L706.7,270.3L707.0,270.2L707.3,270.0L707.6,269.7L707.9,270.5L708.2,269.9L708.5,270.2L708.8,271.0L709.1,270.7L709.4,270.6L709.7,270.2L710.0,270.3L710.3,270.6L710.6,270.9L710.9,270.7L711.2,270.9L711.5,270.8L711.8,270.9L712.1,270.8L712.4,270.4L712.7,269.7L713.0,270.1L713.3,270.5L713.6,270.1L713.9,270.7L714.2,270.2L714.5,270.3L714.8,269.9L715.1,270.8L715.1,255.6L715.1,255.3L715.4,255.7L715.7,256.0L716.0,255.2L716.3,256.4L716.6,255.5L716.9,255.6L717.2,255.0L717.2,270.6L717.2,270.9L717.5,270.2L717.8,270.0L718.1,270.4L718.4,270.3L718.7,270.3L719.0,270.9L719.3,270.3L719.6,269.6L719.9,269.6L720.2,270.9L720.5,270.4L720.8,270.4L721.1,269.9L721.4,270.3L721.7,270.1L722.0,269.4L722.3,270.2L722.6,269.8L722.9,269.9L723.2,270.0L723.5,269.7L723.8,270.1L724.1,270.6L724.4,270.8L724.7,270.5L725.0,269.6L725.3,270.4L725.6,270.4L725.9,270.2L726.2,269.5L726.5,269.5L726.8,269.6L727.1,269.9L727.4,270.3L727.7,269.9L728.0,270.3L728.3,269.7L728.6,270.7L728.9,269.9L729.2,270.8L729.5,270.1L729.8,270.2L730.1,269.4L730.4,270.1L730.7,269.7L731.0,269.6L731.3,269.4L731.6,269.2L731.9,270.6L732.2,270.3L732.5,270.4L732.8,270.8L733.1,270.0L733.4,270.8L733.7,270.2L734.0,270.1L734.3,269.9L734.6,270.0L734.9,270.2L735.2,270.8L735.5,270.0L735.8,270.0L736.1,270.2L736.4,270.0L736.7,271.0L737.0,270.5L737.3,271.1L737.6,269.8L737.9,270.9L738.2,270.2L738.5,269.8L738.8,270.0L739.1,269.3L739.4,270.0L739.7,270.6L740.0,270.1L740.3,270.3L740.6,270.7L740.9,269.6L741.2,270.5L741.5,270.7L741.8,269.9L742.1,270.6L742.4,270.4L742.7,270.5L743.0,270.6L743.3,270.5L743.6,269.7L743.9,270.0L744.2,270.2L744.5,270.9L744.8,269.9L745.1,270.1L745.4,270.2L745.7,270.0L746.0,269.8L746.3,269.9L746.6,270.4L746.9,270.2L747.2,270.4L747.5,269.9L747.8,269.8L748.1,269.6L748.4,270.5L748.7,270.0L749.0,270.2L749.3,270.1L749.6,270.7L749.9,269.9L750.2,269.7L750.5,270.2L750.8,269.8L751.1,270.3L751.4,269.7L751.7,270.2L752.0,270.4L752.3,269.7L752.6,269.6L752.9,270.9L753.2,270.0L753.5,270.4L753.8,269.7L754.1,270.2L754.4,270.5L754.7,270.4L755.0,270.0L755.3,269.7L755.6,270.3L755.9,270.4L756.2,270.2L756.5,270.4L756.8,270.9" fill="none" stroke="#000" stroke-width="1.2" stroke-linejoin="round" stroke-linecap="butt" />
<path d="M441.4,255.6V270.3M447.6,255.6V270.3M447.8,255.6V262.0M448.1,255.6V262.0M449.6,255.6V263.2M449.7,255.6V265.2M450.4,255.6V258.5M451.6,255.6V258.9M454.1,255.6V265.9M458.1,255.6V262.0M460.7,255.6V270.3M464.9,255.6V259.5M465.7,255.6V270.3M465.9,255.6V258.8M466.8,255.6V259.6M466.8,255.6V258.7M467.9,255.6V269.5M470.3,255.6V262.1M470.7,255.6V270.3M471.7,255.6V260.0M474.7,255.6V262.4M475.3,255.6V257.8M476.4,255.6V270.3M477.5,255.6V267.9M480.0,255.6V270.3M480.5,255.6V260.3M481.7,255.6V257.3M483.0,255.6V263.9M488.4,255.6V257.8M489.2,255.6V263.2M491.4,255.6V270.3M492.1,255.6V270.3M494.1,255.6V258.1M495.2,255.6V265.5M496.0,255.6V266.0M496.7,255.6V266.0M501.7,255.6V263.4M508.6,255.6V270.3M511.2,255.6V258.6M512.7,255.6V257.8M514.9,255.6V266.0M516.5,255.6V266.0M516.7,255.6V257.3M516.9,255.6V270.3M522.3,255.6V257.6M522.6,255.6V259.2M522.9,255.6V270.3M523.3,255.6V258.4M525.0,255.6V260.0M526.3,255.6V260.4M526.7,255.6V258.0M527.1,255.6V264.0M527.1,255.6V258.1M531.1,255.6V259.8M534.1,255.6V262.0M536.1,255.6V256.7M536.4,255.6V270.3M539.3,255.6V270.3M543.2,255.6V256.7M551.4,255.6V258.4M551.7,255.6V263.7M552.7,255.6V258.5M553.4,255.6V269.9M553.7,255.6V270.1M560.1,255.6V259.4M565.4,255.6V257.7M572.8,255.6V259.4M573.7,255.6V258.7M574.0,255.6V269.7M578.9,255.6V264.0M581.2,255.6V262.4M583.9,255.6V270.3M584.9,255.6V265.2M585.0,255.6V270.3M588.1,255.6V270.3M588.9,255.6V260.4M589.5,255.6V270.3M589.9,255.6V257.5M590.0,255.6V270.3M591.4,255.6V258.7M595.3,255.6V260.5M600.4,255.6V270.3M601.2,255.6V270.3M602.9,255.6V270.3M606.2,255.6V267.5M606.5,255.6V270.3M608.6,255.6V257.1M609.1,255.6V270.3M609.4,255.6V265.7M609.7,255.6V270.3M610.4,255.6V266.0M612.6,255.6V262.0M614.3,255.6V257.9M615.1,255.6V270.3M616.8,255.6V257.9M619.6,255.6V270.3M620.5,255.6V266.0M621.4,255.6V270.3M622.1,255.6V270.3M623.0,255.6V266.0M625.4,255.6V259.9M626.4,255.6V270.3M626.5,255.6V258.3M627.7,255.6V259.1M629.4,255.6V256.9M630.0,255.6V259.2M630.7,255.6V270.3M634.3,255.6V270.3M634.8,255.6V263.7M638.6,255.6V260.0M642.1,255.6V270.3M646.0,255.6V258.2M646.6,255.6V266.0M646.9,255.6V266.0M682.9,270.2V267.0" fill="none" stroke="#000" stroke-width="0.75"/>
<path d="M436.5,286.0L437.3,288.6L437.3,289.2L437.6,289.0L437.9,289.8L438.2,290.2L438.5,289.6L438.8,289.8L439.1,288.5L439.4,288.8L439.7,289.2L440.0,289.0L440.3,289.3L440.6,288.6L440.9,290.1L441.2,289.4L441.5,289.1L441.8,289.6L442.1,288.7L442.4,289.1L442.7,289.1L443.0,289.1L443.3,289.5L443.6,288.8L443.9,289.6L444.2,289.5L444.5,289.4L444.8,289.6L445.1,289.1L445.4,288.5L445.7,289.4L446.0,289.5L446.3,289.8L446.6,289.1L446.9,289.4L447.2,289.7L447.5,289.2L447.8,289.4L448.1,289.1L448.4,289.0L448.7,289.6L449.0,289.7L449.3,289.3L449.6,289.2L449.9,289.2L450.2,289.0L450.5,289.3L450.8,289.2L451.1,289.8L451.4,289.3L451.7,289.3L452.0,289.2L452.3,289.3L452.6,289.3L452.9,288.9L453.2,289.4L453.5,289.5L453.8,289.9L454.1,289.6L454.4,289.5L454.7,289.6L455.0,289.7L455.3,289.4L455.6,289.4L455.9,289.5L456.2,289.2L456.5,288.6L456.8,289.4L457.1,289.7L457.4,289.2L457.7,289.6L458.0,289.6L458.3,289.0L458.6,288.7L458.9,288.6L459.2,289.7L459.5,289.7L459.8,289.4L460.1,288.3L460.4,289.0L460.7,289.3L461.0,288.9L461.3,288.8L461.6,289.6L461.9,289.1L462.2,289.3L462.5,289.6L462.8,289.2L463.1,289.3L463.4,289.4L463.7,290.1L464.0,289.3L464.3,289.5L464.6,289.6L464.9,289.8L465.2,289.0L465.5,288.9L465.8,289.0L466.1,288.9L466.4,288.6L466.7,289.3L467.0,289.5L467.3,288.7L467.6,289.5L467.9,289.6L468.2,288.9L468.5,289.1L468.8,289.8L469.1,289.3L469.4,289.4L469.7,289.7L470.0,289.2L470.3,288.8L470.6,289.0L470.9,289.0L471.2,289.1L471.5,289.3L471.8,289.7L472.1,288.8L472.4,289.5L472.7,289.6L473.0,289.0L473.3,289.2L473.6,289.1L473.9,289.1L474.2,289.2L474.5,289.3L474.8,289.4L475.1,289.0L475.4,289.4L475.7,289.5L476.0,289.1L476.3,289.1L476.6,289.3L476.9,288.7L477.2,289.7L477.5,288.4L477.8,289.0L478.1,288.8L478.4,288.8L478.7,288.5L479.0,289.5L479.3,289.0L479.6,289.3L479.9,289.3L480.2,289.9L480.5,289.4L480.8,289.3L481.1,288.8L481.4,288.8L481.7,288.6L482.0,289.3L482.3,288.7L482.6,289.5L482.9,289.6L483.2,289.3L483.5,289.7L483.8,289.1L484.1,288.9L484.4,289.7L484.7,289.6L485.0,289.1L485.3,288.6L485.6,289.6L485.9,289.4L486.2,289.0L486.5,289.0L486.8,288.9L487.1,288.8L487.4,289.8L487.7,288.6L488.0,289.9L488.3,288.4L488.6,289.3L488.9,289.5L489.2,289.5L489.5,290.0L489.8,289.4L490.1,289.6L490.4,288.9L490.7,288.2L491.0,289.4L491.3,288.9L491.6,289.4L491.9,289.8L492.2,289.9L492.5,289.4L492.8,288.7L493.1,289.1L493.4,288.4L493.7,289.1L494.0,289.0L494.3,288.7L494.6,288.5L494.9,288.8L495.2,289.3L495.5,289.0L495.8,289.0L496.1,289.3L496.4,289.8L496.7,289.4L497.0,289.2L497.3,289.0L497.6,288.8L497.9,289.4L498.2,289.3L498.5,289.0L498.8,289.8L499.1,289.5L499.4,289.5L499.7,288.7L500.0,288.7L500.3,290.0L500.6,289.2L500.9,289.4L501.2,289.7L501.5,288.8L501.8,288.9L502.1,288.9L502.4,289.0L502.7,289.2L503.0,289.8L503.3,289.6L503.6,288.8L503.9,288.6L504.2,288.4L504.5,289.2L504.8,289.7L505.1,289.5L505.4,288.7L505.7,289.7L506.0,289.2L506.3,289.3L506.6,289.0L506.9,288.3L507.2,289.9L507.5,288.7L507.8,289.3L508.1,288.6L508.4,288.8L508.7,288.4L509.0,289.4L509.3,289.1L509.6,288.8L509.9,288.9L510.2,289.0L510.5,289.6L510.8,289.3L511.1,289.5L511.4,289.3L511.7,289.8L512.0,288.3L512.3,289.3L512.6,289.4L512.9,288.9L513.2,289.5L513.5,289.7L513.8,289.8L514.1,289.5L514.4,289.6L514.7,289.1L515.0,289.8L515.3,289.5L515.6,289.5L515.9,289.2L516.2,289.1L516.5,289.3L516.8,289.3L517.1,289.5L517.4,288.7L517.7,289.2L518.0,290.1L518.3,289.4L518.6,289.6L518.9,289.1L519.2,288.7L519.5,289.3L519.8,289.2L520.1,289.6L520.4,290.1L520.7,289.5L521.0,289.0L521.3,289.7L521.6,289.4L521.9,289.5L522.2,290.0L522.5,289.8L522.8,288.9L523.1,289.3L523.4,288.5L523.7,289.4L524.0,288.9L524.3,289.2L524.6,289.1L524.9,289.1L525.2,288.8L525.5,289.9L525.8,289.1L526.1,288.6L526.4,289.4L526.7,288.7L527.0,288.9L527.3,289.5L527.6,289.2L527.9,289.2L528.2,289.8L528.5,289.7L528.8,288.9L529.1,289.2L529.4,288.6L529.7,289.4L530.0,289.4L530.3,288.6L530.6,288.9L530.9,288.7L531.2,289.5L531.5,289.0L531.8,289.5L532.1,289.4L532.4,289.6L532.7,289.0L533.0,289.1L533.3,289.2L533.6,289.2L533.9,289.2L534.2,288.8L534.5,289.5L534.8,289.1L535.1,289.8L535.4,289.3L535.7,288.7L536.0,289.7L536.3,289.0L536.6,288.8L536.9,288.9L537.2,288.7L537.5,289.1L537.8,289.4L538.1,288.9L538.4,288.8L538.7,289.4L539.0,289.3L539.3,289.0L539.6,289.3L539.9,288.8L540.2,289.1L540.5,289.0L540.8,289.8L541.1,289.2L541.4,289.1L541.7,288.2L542.0,288.5L542.3,288.3L542.6,288.5L542.9,289.2L543.2,289.5L543.5,289.1L543.8,289.5L544.1,289.4L544.4,289.5L544.7,288.5L545.0,289.2L545.3,289.2L545.6,289.1L545.9,289.3L546.2,288.6L546.5,289.2L546.8,289.2L547.1,289.3L547.4,289.0L547.7,289.2L548.0,289.5L548.3,289.5L548.6,288.3L548.9,289.9L549.2,288.8L549.5,289.5L549.8,288.8L550.1,289.5L550.4,289.3L550.7,289.3L551.0,289.4L551.3,289.4L551.6,289.5L551.9,289.5L552.2,289.3L552.5,289.4L552.8,289.0L553.1,288.4L553.4,289.2L553.7,289.8L554.0,289.3L554.3,289.1L554.6,289.2L554.9,289.8L555.2,288.7L555.5,290.0L555.8,289.8L556.1,288.7L556.4,288.9L556.7,289.2L557.0,289.3L557.3,289.0L557.6,288.6L557.9,289.2L558.2,289.3L558.5,288.9L558.8,289.0L559.1,288.7L559.4,289.9L559.7,289.0L560.0,289.1L560.3,289.0L560.6,288.6L560.9,288.3L561.2,288.8L561.5,288.6L561.8,289.3L562.1,289.5L562.4,289.3L562.7,289.1L563.0,289.6L563.3,289.0L563.6,289.2L563.9,289.2L564.2,289.1L564.5,289.2L564.8,289.7L565.1,289.6L565.4,289.3L565.7,289.4L566.0,288.6L566.3,289.0L566.6,289.4L566.9,289.2L567.2,288.4L567.5,289.6L567.8,289.4L568.1,288.6L568.4,289.0L568.7,289.4L569.0,289.9L569.3,288.6L569.6,288.7L569.9,289.8L570.2,289.0L570.5,289.0L570.8,288.9L571.1,289.1L571.4,289.6L571.7,289.4L572.0,288.7L572.3,289.0L572.6,290.0L572.9,288.1L573.2,289.1L573.5,288.8L573.8,288.7L574.1,288.5L574.4,290.2L574.7,288.6L575.0,289.3L575.3,288.8L575.6,289.5L575.9,289.4L576.2,289.5L576.5,288.6L576.8,289.5L577.1,289.3L577.4,289.4L577.7,288.9L578.0,288.8L578.3,289.3L578.6,289.1L578.9,288.5L579.2,289.5L579.5,289.2L579.8,288.8L580.1,288.8L580.4,289.2L580.7,289.4L581.0,289.2L581.3,289.3L581.6,290.0L581.9,289.3L582.2,289.5L582.5,288.6L582.8,289.0L583.1,289.0L583.4,288.9L583.7,289.2L584.0,289.3L584.3,289.3L584.6,288.8L584.9,289.1L585.2,289.5L585.5,289.0L585.8,289.2L586.1,289.1L586.4,289.4L586.7,289.4L587.0,289.7L587.3,289.1L587.6,289.4L587.9,289.3L588.2,289.1L588.5,288.9L588.8,289.4L589.1,289.5L589.4,289.3L589.7,288.6L590.0,289.4L590.3,289.2L590.6,289.6L590.9,289.7L591.2,288.9L591.5,288.9L591.8,289.3L592.1,289.4L592.4,288.3L592.7,289.3L593.0,290.0L593.3,288.9L593.6,289.5L593.9,289.5L594.2,289.2L594.5,289.2L594.8,289.5L595.1,289.7L595.4,288.3L595.7,288.9L596.0,289.9L596.3,289.0L596.6,289.7L596.9,289.5L597.2,290.0L597.5,288.7L597.8,289.1L598.1,289.3L598.4,288.7L598.7,288.6L599.0,289.2L599.3,288.7L599.6,289.3L599.9,289.1L600.2,289.4L600.5,289.4L600.8,290.3L601.1,289.1L601.4,289.2L601.7,289.4L602.0,289.7L602.3,288.0L602.6,289.1L602.9,289.3L603.2,289.1L603.5,289.6L603.8,288.1L604.1,289.2L604.4,288.2L604.7,288.8L605.0,289.6L605.3,288.9L605.6,288.5L605.9,289.0L605.9,274.9L605.9,275.2L606.2,276.2L606.5,274.8L606.8,275.0L607.1,275.4L607.4,276.1L607.7,276.0L608.0,275.1L608.3,275.5L608.6,275.4L608.9,275.8L609.2,275.9L609.5,275.5L609.8,275.5L610.1,275.5L610.4,275.4L610.7,275.7L611.0,275.9L611.3,275.0L611.6,275.4L611.9,275.9L612.2,275.5L612.5,276.3L612.8,276.0L613.1,274.8L613.4,275.1L613.7,275.6L614.0,275.4L614.3,275.4L614.6,275.8L614.6,288.9L614.6,289.3L614.9,289.7L615.2,288.5L615.5,289.8L615.8,290.4L616.1,289.6L616.4,289.1L616.7,289.9L617.0,288.5L617.3,289.2L617.6,288.8L617.9,288.7L618.2,288.7L618.5,289.0L618.8,289.6L619.1,289.4L619.4,289.3L619.7,289.3L620.0,288.9L620.3,289.1L620.6,288.8L620.9,289.1L621.2,288.9L621.5,289.7L621.8,289.5L622.1,289.2L622.4,289.5L622.7,288.7L623.0,289.3L623.3,289.7L623.6,288.8L623.9,288.8L624.2,289.4L624.5,289.0L624.8,289.1L625.1,289.0L625.4,289.7L625.7,289.7L626.0,289.0L626.3,289.5L626.6,290.2L626.6,275.7L626.6,275.3L626.9,275.5L627.2,275.7L627.5,275.6L627.8,275.3L628.1,275.9L628.4,275.0L628.7,275.7L629.0,275.1L629.3,275.6L629.6,275.7L629.9,275.5L630.2,275.6L630.5,274.9L630.8,275.5L631.1,275.9L631.4,275.9L631.7,275.4L632.0,275.5L632.3,275.8L632.6,276.1L632.9,275.7L633.2,275.8L633.5,275.8L633.8,276.5L634.1,275.8L634.4,275.5L634.7,275.2L635.0,275.4L635.3,275.9L635.6,275.7L635.9,275.6L636.2,275.5L636.5,275.9L636.8,275.5L637.1,275.0L637.4,276.4L637.7,275.7L638.0,275.8L638.3,275.3L638.6,275.7L638.9,275.4L639.2,276.1L639.5,276.0L639.8,275.5L640.1,276.0L640.4,275.7L640.7,275.9L641.0,275.3L641.3,275.9L641.6,275.7L641.9,275.7L642.2,276.0L642.5,275.4L642.8,276.1L643.1,275.6L643.4,275.5L643.7,276.1L644.0,276.2L644.3,276.1L644.6,275.1L644.9,275.9L645.2,276.2L645.5,276.1L645.8,275.9L646.1,275.7L646.4,276.4L646.7,275.8L647.0,275.2L647.3,275.5L647.6,274.6L647.9,276.1L648.2,275.2L648.5,275.3L648.8,275.3L649.1,275.5L649.4,275.4L649.7,275.4L650.0,275.6L650.3,276.1L650.6,275.9L650.9,275.4L651.2,275.7L651.5,275.9L651.8,275.5L652.1,275.1L652.4,275.5L652.7,276.1L653.0,276.8L653.3,275.6L653.6,274.8L653.9,275.3L654.2,276.4L654.5,276.4L654.8,275.1L655.1,275.7L655.4,275.8L655.7,275.8L656.0,275.7L656.3,275.6L656.6,275.5L656.9,275.2L657.2,275.7L657.5,275.6L657.8,275.5L658.1,275.4L658.4,274.6L658.7,275.5L659.0,276.0L659.3,275.6L659.6,275.3L659.9,276.4L660.2,274.5L660.5,275.7L660.8,276.0L660.8,289.5L660.8,289.6L661.1,288.4L661.4,289.9L661.7,289.0L662.0,288.0L662.3,289.5L662.6,288.5L662.9,288.8L663.2,289.6L663.5,289.5L663.8,289.4L664.1,290.2L664.4,288.7L664.7,289.4L665.0,289.6L665.3,288.7L665.6,289.5L665.9,288.9L666.2,289.0L666.5,289.5L666.8,288.9L667.1,289.3L667.4,288.6L667.7,289.7L668.0,289.1L668.3,288.6L668.6,288.8L668.9,289.2L669.2,289.3L669.5,289.4L669.8,288.6L670.1,289.2L670.4,288.5L670.7,289.5L671.0,290.0L671.3,288.6L671.6,288.5L671.9,288.4L672.2,288.9L672.5,289.4L672.8,289.3L673.1,288.6L673.4,289.0L673.7,289.1L674.0,289.3L674.3,289.3L674.6,289.1L674.9,289.4L675.2,289.0L675.5,289.1L675.8,288.7L676.1,289.2L676.4,289.6L676.7,289.2L677.0,289.7L677.3,289.1L677.6,289.7L677.9,289.2L678.2,289.4L678.5,289.1L678.8,288.9L679.1,289.6L679.4,289.1L679.7,289.2L680.0,289.8L680.3,289.5L680.6,289.0L680.9,289.2L681.2,288.8L681.5,289.5L681.8,289.2L682.1,289.2L682.4,289.2L682.7,288.7L683.0,289.1L683.3,289.1L683.6,289.6L683.9,288.9L684.2,289.4L684.5,289.4L684.8,289.7L685.1,289.2L685.4,289.1L685.7,289.4L686.0,289.0L686.3,288.9L686.6,289.2L686.9,289.0L687.2,288.8L687.5,288.8L687.8,289.0L688.1,289.0L688.1,275.6L688.1,276.0L688.4,275.6L688.7,275.2L689.0,276.3L689.3,275.4L689.6,276.3L689.9,275.4L690.2,275.7L690.5,275.3L690.8,275.5L691.1,276.0L691.4,276.8L691.7,276.0L692.0,275.4L692.3,275.8L692.6,275.0L692.9,275.5L693.2,275.8L693.5,275.4L693.8,275.5L694.1,275.6L694.4,275.1L694.7,275.7L695.0,276.3L695.3,276.0L695.6,275.5L695.9,276.0L696.2,275.5L696.5,276.0L696.5,289.2L696.5,288.7L696.8,289.9L697.1,288.2L697.4,289.1L697.7,289.4L698.0,289.5L698.3,289.3L698.6,289.2L698.9,289.2L699.2,289.1L699.5,289.3L699.8,289.6L700.1,289.5L700.4,289.1L700.7,289.8L701.0,289.2L701.3,289.1L701.6,289.0L701.9,289.9L702.2,288.8L702.5,289.9L702.8,288.9L703.1,288.6L703.4,289.0L703.7,289.6L704.0,289.6L704.3,289.0L704.6,289.5L704.9,289.1L705.2,289.4L705.5,289.5L705.8,288.6L706.1,289.7L706.4,289.2L706.7,289.7L707.0,289.3L707.3,289.7L707.6,290.1L707.9,289.0L708.2,289.6L708.5,289.1L708.8,290.1L709.1,289.5L709.4,289.2L709.7,289.3L710.0,289.9L710.3,288.6L710.6,289.8L710.9,289.1L711.2,289.4L711.5,289.0L711.8,289.2L712.1,289.5L712.4,289.6L712.7,289.0L713.0,289.1L713.3,289.4L713.6,289.6L713.9,288.8L714.2,289.4L714.5,289.1L714.8,289.0L715.1,289.3L715.4,289.2L715.7,289.4L716.0,288.6L716.3,289.4L716.6,289.5L716.9,288.9L717.2,290.0L717.5,288.7L717.8,289.5L718.1,289.3L718.4,289.3L718.7,289.3L719.0,289.8L719.3,288.4L719.6,289.5L719.9,289.5L720.2,288.7L720.5,290.2L720.8,289.2L721.1,289.3L721.4,289.1L721.7,289.0L722.0,289.3L722.3,288.8L722.6,288.9L722.9,289.3L723.2,289.3L723.5,288.7L723.8,289.3L724.1,288.8L724.4,289.5L724.7,288.8L725.0,288.7L725.3,289.1L725.6,288.8L725.9,289.6L726.2,289.9L726.5,289.5L726.8,289.3L727.1,289.4L727.1,276.1L727.1,275.5L727.4,275.5L727.7,275.1L728.0,275.6L728.3,275.5L728.6,275.5L728.9,275.6L729.2,275.3L729.5,275.4L729.5,289.3L729.5,289.5L729.8,288.7L730.1,289.4L730.4,288.8L730.7,289.5L731.0,289.5L731.3,289.4L731.6,289.3L731.9,289.2L732.2,289.2L732.5,289.1L732.8,289.3L733.1,289.3L733.4,288.0L733.7,289.6L734.0,289.3L734.3,289.5L734.6,289.2L734.9,288.8L735.2,290.3L735.5,289.5L735.8,289.0L736.1,288.9L736.4,288.6L736.7,289.2L737.0,289.2L737.3,288.8L737.6,289.6L737.9,289.6L738.2,289.1L738.5,288.9L738.8,289.4L739.1,289.1L739.4,289.1L739.7,290.0L740.0,288.7L740.3,289.2L740.6,289.2L740.9,289.1L741.2,289.4L741.5,289.3L741.8,288.4L742.1,288.3L742.4,288.9L742.4,275.6L742.4,275.9L742.7,275.3L743.0,275.9L743.3,275.9L743.6,276.5L743.9,275.6L744.2,275.3L744.5,275.6L744.8,275.9L745.1,275.1L745.4,276.0L745.7,275.8L746.0,274.6L746.3,275.8L746.6,275.7L746.9,274.9L747.2,276.3L747.5,275.0L747.8,275.8L748.1,275.8L748.4,275.2L748.7,275.1L749.0,276.1L749.3,274.8L749.6,274.6L749.9,275.5L750.2,276.6L750.5,274.8L750.8,275.7L751.1,275.3L751.4,275.2L751.7,275.7L752.0,275.5L752.3,275.5L752.6,276.1L752.6,289.3L752.6,289.0L752.9,289.2L753.2,289.0L753.5,288.9L753.5,276.0L753.5,275.5L753.8,275.1L754.1,276.0L754.4,275.1L754.7,275.2L755.0,275.9L755.3,275.0L755.6,276.1L755.9,275.5L756.2,275.8L756.5,275.6L756.8,275.9L756.8,289.4L756.8,288.6" fill="none" stroke="#000" stroke-width="1.2" stroke-linejoin="round" stroke-linecap="butt" />
<path d="M480.1,289.2V275.6M481.0,289.2V275.6M483.5,289.2V276.0M495.7,289.2V275.6M510.7,289.2V280.0M537.1,289.2V275.6M608.0,275.6V289.2M611.0,275.6V286.0M630.0,275.6V289.2M633.5,275.6V284.0M640.0,275.6V289.2M641.4,275.6V289.2M648.6,275.6V289.2M649.5,275.6V289.2M657.1,275.6V289.2M745.0,275.6V285.0M748.0,275.6V289.2" fill="none" stroke="#000" stroke-width="0.75"/>
<path d="M436.5,304.7L437.3,308.0L437.3,308.4L437.6,308.8L437.9,309.2L438.2,307.8L438.5,308.6L438.8,309.3L439.1,309.6L439.4,308.9L439.7,308.0L440.0,309.3L440.3,309.0L440.6,308.5L440.9,309.1L441.2,308.1L441.5,308.2L441.8,308.3L442.1,308.5L442.4,309.4L442.7,308.6L443.0,308.2L443.3,308.1L443.6,308.9L443.9,308.3L444.2,308.7L444.5,308.5L444.8,308.3L445.1,308.1L445.4,308.1L445.7,307.6L446.0,308.6L446.3,308.4L446.6,307.7L446.9,309.1L447.2,308.5L447.5,308.4L447.8,308.4L448.1,308.5L448.4,309.0L448.7,308.7L449.0,308.0L449.3,308.5L449.6,308.3L449.9,308.4L450.2,309.1L450.5,308.5L450.8,308.1L451.1,308.0L451.4,308.2L451.7,308.4L452.0,308.0L452.3,308.1L452.6,309.0L452.9,308.3L453.2,308.0L453.5,308.3L453.8,308.1L454.1,308.1L454.4,308.4L454.7,308.2L455.0,308.7L455.3,308.7L455.6,308.6L455.9,308.2L456.2,308.7L456.5,307.5L456.8,308.4L457.1,308.6L457.4,308.1L457.7,308.5L458.0,308.5L458.3,308.9L458.6,308.0L458.9,308.3L459.2,307.5L459.5,308.2L459.8,308.5L460.1,308.7L460.4,308.6L460.7,308.4L461.0,308.2L461.3,308.2L461.6,308.5L461.9,308.5L462.2,308.9L462.5,307.8L462.8,307.6L463.1,308.3L463.4,308.7L463.7,308.6L464.0,308.5L464.3,308.4L464.6,308.4L464.9,308.8L465.2,308.7L465.5,307.6L465.8,308.6L466.1,308.2L466.4,308.4L466.7,308.8L467.0,308.9L467.3,309.1L467.6,308.3L467.9,308.4L468.2,308.8L468.5,308.0L468.8,308.6L469.1,308.4L469.4,308.6L469.7,309.2L470.0,308.5L470.3,309.5L470.6,308.2L470.9,308.0L471.2,308.8L471.5,308.5L471.8,308.6L472.1,308.8L472.4,308.4L472.7,308.5L473.0,307.9L473.3,308.4L473.6,308.9L473.9,308.1L474.2,308.3L474.5,307.5L474.8,308.7L475.1,307.2L475.4,308.8L475.7,308.4L476.0,308.2L476.3,308.9L476.6,308.1L476.9,308.2L477.2,308.5L477.5,308.3L477.8,308.2L478.1,308.2L478.4,308.5L478.7,307.5L479.0,308.9L479.3,308.0L479.6,308.1L479.9,308.0L480.2,308.0L480.5,308.1L480.8,308.2L481.1,308.5L481.4,308.9L481.7,309.1L482.0,308.1L482.3,308.1L482.6,308.4L482.9,308.3L483.2,308.3L483.5,307.7L483.8,308.4L484.1,308.6L484.4,308.4L484.7,308.5L485.0,308.8L485.3,307.6L485.6,307.7L485.9,308.6L486.2,308.5L486.5,307.7L486.8,308.5L487.1,308.8L487.4,308.5L487.7,308.3L488.0,308.0L488.3,308.5L488.6,308.5L488.9,308.4L489.2,307.9L489.5,307.8L489.8,308.3L490.1,308.4L490.4,308.0L490.7,307.8L491.0,309.1L491.3,309.0L491.6,308.7L491.9,307.9L492.2,308.5L492.5,308.4L492.8,309.4L493.1,308.3L493.4,308.7L493.7,309.2L494.0,308.7L494.3,308.5L494.6,308.3L494.9,308.6L495.2,308.7L495.5,308.9L495.8,308.5L496.1,308.8L496.4,307.9L496.7,307.3L497.0,308.4L497.3,308.3L497.6,308.7L497.9,308.3L498.2,308.9L498.5,308.2L498.8,308.4L499.1,307.4L499.4,308.5L499.7,308.8L500.0,308.0L500.3,308.7L500.6,308.0L500.9,307.8L501.2,308.4L501.5,308.6L501.8,308.9L502.1,308.1L502.4,308.4L502.7,308.1L503.0,308.4L503.3,308.3L503.6,308.2L503.9,308.3L504.2,308.4L504.5,308.2L504.8,308.4L505.1,308.4L505.4,308.3L505.7,308.5L506.0,308.1L506.3,308.7L506.6,308.3L506.9,308.8L507.2,308.9L507.5,308.4L507.8,309.1L508.1,308.1L508.4,308.4L508.7,308.2L509.0,308.2L509.3,308.4L509.6,308.6L509.9,308.4L510.2,308.7L510.5,308.6L510.8,308.7L511.1,307.9L511.4,308.6L511.7,307.8L512.0,308.2L512.3,308.1L512.6,308.1L512.9,308.5L513.2,308.2L513.5,308.4L513.8,308.5L514.1,309.1L514.4,308.0L514.7,307.8L515.0,308.8L515.3,307.5L515.6,308.0L515.9,308.7L516.2,308.2L516.5,308.3L516.8,308.8L517.1,308.8L517.4,308.3L517.7,308.3L518.0,308.5L518.3,307.7L518.6,309.0L518.9,307.8L519.2,308.7L519.5,309.2L519.8,307.8L520.1,308.3L520.4,307.9L520.7,308.1L521.0,309.3L521.3,308.6L521.6,307.8L521.9,308.9L522.2,308.6L522.5,308.3L522.8,308.2L523.1,308.2L523.4,308.8L523.7,308.4L524.0,308.6L524.3,308.7L524.6,308.8L524.9,309.1L525.2,308.5L525.5,308.1L525.8,308.6L526.1,308.4L526.4,308.7L526.7,307.9L527.0,308.0L527.3,307.8L527.6,308.7L527.9,307.7L528.2,308.1L528.5,308.3L528.8,307.7L529.1,308.8L529.4,308.5L529.7,309.0L530.0,308.9L530.3,308.9L530.6,309.2L530.9,308.3L531.2,308.6L531.5,308.3L531.8,308.2L532.1,308.1L532.4,308.7L532.7,308.1L533.0,308.0L533.3,308.0L533.6,307.8L533.9,308.9L534.2,308.3L534.5,308.0L534.8,308.6L535.1,308.0L535.4,309.0L535.7,307.8L536.0,308.2L536.3,308.7L536.6,307.8L536.9,308.7L537.2,308.1L537.5,308.1L537.8,307.6L538.1,307.7L538.4,308.5L538.7,308.4L539.0,308.6L539.3,308.7L539.6,308.0L539.9,308.9L540.2,308.3L540.5,308.4L540.8,308.6L541.1,308.6L541.4,308.2L541.7,308.6L542.0,308.8L542.3,308.3L542.6,307.9L542.9,309.1L543.2,308.6L543.5,308.2L543.8,308.1L544.1,308.8L544.4,308.2L544.7,308.4L545.0,308.2L545.3,308.2L545.6,309.0L545.9,308.1L546.2,307.8L546.5,308.4L546.8,308.3L547.1,308.5L547.4,308.3L547.7,308.4L548.0,308.7L548.3,308.2L548.6,308.4L548.9,308.2L549.2,308.5L549.5,308.2L549.8,308.7L550.1,308.9L550.4,308.9L550.7,308.7L551.0,308.5L551.3,308.7L551.6,308.1L551.9,308.7L552.2,308.3L552.5,307.9L552.8,308.3L553.1,307.4L553.4,309.1L553.7,307.8L554.0,308.8L554.3,308.0L554.6,308.4L554.9,308.9L555.2,307.7L555.5,308.9L555.8,308.5L556.1,308.4L556.4,307.9L556.7,307.9L557.0,308.8L557.3,308.7L557.6,308.8L557.9,308.6L558.2,309.2L558.5,308.5L558.8,308.0L559.1,308.5L559.4,307.9L559.7,308.2L560.0,308.2L560.3,308.5L560.6,307.8L560.9,308.7L561.2,308.4L561.5,307.8L561.8,308.8L562.1,308.4L562.4,309.1L562.7,308.5L563.0,308.2L563.3,308.4L563.6,308.1L563.9,308.3L564.2,308.8L564.5,308.5L564.8,307.8L565.1,307.9L565.4,308.8L565.7,308.5L566.0,308.2L566.3,308.7L566.6,308.0L566.9,307.9L567.2,307.8L567.5,308.5L567.8,308.8L568.1,308.4L568.4,308.3L568.7,308.0L569.0,308.7L569.3,307.9L569.6,308.5L569.9,308.5L570.2,308.2L570.5,308.3L570.8,308.1L571.1,308.8L571.4,308.6L571.7,308.7L572.0,308.7L572.3,308.6L572.6,308.8L572.9,309.3L573.2,309.4L573.5,308.5L573.8,308.8L574.1,307.9L574.4,308.0L574.7,308.9L575.0,309.0L575.3,308.3L575.6,308.5L575.9,307.9L576.2,308.6L576.5,308.0L576.8,308.9L577.1,308.1L577.4,309.1L577.7,309.1L578.0,308.1L578.3,308.8L578.6,308.6L578.9,308.0L579.2,308.3L579.5,308.6L579.8,308.9L580.1,308.6L580.4,308.6L580.7,307.2L581.0,309.1L581.3,307.6L581.6,309.1L581.9,308.1L582.2,307.9L582.5,308.9L582.8,308.1L583.1,308.4L583.4,307.9L583.7,308.6L584.0,307.6L584.3,309.3L584.6,308.4L584.9,309.0L585.2,308.5L585.5,309.0L585.8,308.7L586.1,308.2L586.4,308.5L586.7,308.6L587.0,308.1L587.3,308.7L587.6,308.2L587.9,308.0L588.2,308.2L588.5,308.4L588.8,308.0L589.1,308.1L589.4,308.4L589.7,308.3L590.0,308.6L590.3,308.4L590.6,308.7L590.9,308.3L591.2,308.2L591.5,309.0L591.8,309.3L592.1,308.3L592.4,308.3L592.7,308.8L593.0,307.9L593.3,307.6L593.6,307.8L593.9,308.2L594.2,308.4L594.5,308.6L594.8,308.4L595.1,307.9L595.4,308.5L595.7,308.5L596.0,308.3L596.3,308.6L596.6,308.5L596.9,307.8L597.2,309.1L597.5,308.4L597.8,308.3L598.1,308.2L598.4,308.3L598.7,308.5L599.0,308.7L599.3,308.4L599.6,308.7L599.9,308.5L600.2,308.8L600.5,308.0L600.8,308.1L601.1,308.4L601.4,308.1L601.7,308.9L602.0,308.5L602.3,308.3L602.6,308.7L602.9,307.6L603.2,308.9L603.5,307.9L603.8,308.0L604.1,308.9L604.4,308.5L604.7,308.2L605.0,307.6L605.3,308.4L605.6,308.3L605.9,308.5L606.2,308.4L606.5,308.5L606.8,308.0L607.1,309.3L607.4,308.0L607.7,308.4L608.0,308.2L608.3,308.3L608.6,308.2L608.9,308.2L609.2,308.5L609.5,308.4L609.8,308.5L610.1,308.2L610.4,308.4L610.7,308.4L611.0,309.1L611.3,308.3L611.6,308.9L611.9,308.8L612.2,308.0L612.5,308.8L612.8,307.6L613.1,308.4L613.4,308.7L613.7,309.3L614.0,308.4L614.3,308.0L614.6,309.2L614.9,308.6L615.2,308.5L615.5,308.5L615.8,308.3L616.1,308.6L616.4,308.2L616.7,308.4L617.0,308.2L617.3,307.9L617.6,308.4L617.9,307.7L618.2,308.1L618.5,309.0L618.8,308.5L619.1,308.7L619.4,308.0L619.7,308.5L620.0,309.1L620.3,308.1L620.6,308.5L620.9,308.5L621.2,307.7L621.5,308.6L621.8,308.0L622.1,308.5L622.4,308.4L622.7,308.3L623.0,308.4L623.3,308.2L623.6,308.3L623.9,308.4L624.2,308.3L624.5,308.3L624.8,308.1L625.1,308.9L625.4,308.4L625.7,307.6L626.0,308.3L626.3,308.2L626.6,309.4L626.9,308.4L627.2,308.5L627.5,308.3L627.8,308.8L628.1,308.3L628.4,308.3L628.7,309.0L629.0,308.0L629.3,308.4L629.6,307.2L629.9,309.0L630.2,308.6L630.5,308.6L630.8,308.2L631.1,308.2L631.4,308.5L631.7,308.8L632.0,308.2L632.3,308.5L632.6,308.1L632.9,307.9L633.2,308.0L633.5,308.2L633.8,308.7L634.1,308.9L634.4,308.7L634.7,308.2L635.0,308.5L635.3,308.2L635.6,308.7L635.9,308.8L636.2,308.8L636.5,308.6L636.8,308.6L637.1,307.6L637.4,309.3L637.7,308.3L638.0,308.1L638.3,308.9L638.6,307.6L638.9,308.1L639.2,309.0L639.5,308.1L639.8,308.0L640.1,308.9L640.4,308.1L640.7,307.8L641.0,307.6L641.3,308.2L641.6,308.5L641.9,309.0L642.2,308.4L642.5,307.6L642.8,308.6L643.1,308.7L643.4,308.3L643.7,308.6L644.0,308.9L644.3,308.6L644.6,308.4L644.9,308.7L645.2,308.6L645.5,308.2L645.8,308.5L646.1,308.1L646.4,307.8L646.7,308.6L647.0,308.0L647.3,308.4L647.6,307.7L647.9,308.4L648.2,308.1L648.5,307.7L648.8,308.1L649.1,308.4L649.4,308.8L649.7,308.9L650.0,308.4L650.3,308.7L650.6,308.7L650.9,308.5L651.2,308.6L651.5,308.7L651.8,308.2L652.1,309.0L652.4,308.2L652.7,308.0L653.0,308.2L653.3,308.0L653.6,307.8L653.9,308.6L654.2,308.9L654.5,308.4L654.8,308.7L655.1,308.5L655.4,309.1L655.7,308.8L656.0,308.2L656.3,308.5L656.6,308.6L656.9,308.3L657.2,308.8L657.5,308.8L657.8,308.1L658.1,307.8L658.4,308.4L658.7,308.6L659.0,308.7L659.3,308.3L659.6,308.5L659.9,308.2L660.2,308.9L660.5,308.1L660.8,308.2L661.1,308.9L661.4,308.6L661.7,308.4L662.0,308.4L662.3,309.0L662.6,308.3L662.9,308.7L663.2,308.3L663.5,308.5L663.8,307.6L664.1,308.3L664.4,308.3L664.7,308.3L665.0,308.8L665.3,307.9L665.6,308.6L665.9,308.5L666.2,308.7L666.5,308.8L666.8,308.5L667.1,308.6L667.4,308.6L667.7,309.2L668.0,308.5L668.3,308.5L668.6,308.9L668.9,308.3L669.2,308.3L669.5,307.7L669.8,308.2L670.1,308.4L670.4,309.0L670.7,308.3L671.0,307.9L671.3,308.1L671.6,308.8L671.9,308.2L672.2,308.0L672.5,308.3L672.8,307.7L673.1,308.4L673.4,308.0L673.7,308.6L674.0,308.6L674.3,308.3L674.6,308.9L674.9,308.7L675.2,308.5L675.5,308.7L675.8,308.8L676.1,308.6L676.4,309.1L676.7,308.7L677.0,308.5L677.3,308.4L677.6,307.6L677.9,307.7L678.2,309.0L678.5,308.8L678.8,308.0L679.1,308.3L679.4,308.6L679.7,308.3L680.0,308.3L680.3,308.2L680.6,308.2L680.9,308.6L681.2,308.9L681.5,308.3L681.8,308.5L682.1,308.8L682.4,309.0L682.7,307.9L683.0,308.8L683.3,308.4L683.6,308.4L683.9,308.1L684.2,308.9L684.5,308.4L684.8,308.6L685.1,308.8L685.4,308.4L685.7,308.2L686.0,308.0L686.3,308.7L686.6,308.4L686.9,309.0L687.2,308.5L687.5,308.1L687.8,307.7L688.1,308.6L688.4,308.6L688.7,308.1L689.0,308.5L689.3,308.6L689.6,308.6L689.9,308.8L690.2,308.5L690.5,308.5L690.8,308.5L691.1,308.9L691.4,308.8L691.7,308.2L692.0,308.1L692.3,308.4L692.6,308.3L692.9,307.6L693.2,308.9L693.5,308.6L693.8,308.5L694.1,308.0L694.4,308.4L694.7,309.1L695.0,308.7L695.3,308.5L695.6,307.9L695.9,308.0L696.2,308.7L696.5,307.9L696.8,308.4L697.1,308.1L697.4,309.1L697.7,308.1L698.0,308.4L698.3,307.8L698.6,308.0L698.9,308.0L699.2,308.4L699.5,307.8L699.8,308.2L700.1,308.7L700.4,309.2L700.7,308.0L701.0,308.6L701.3,307.7L701.6,308.3L701.9,308.5L702.2,308.6L702.5,308.3L702.8,308.4L703.1,308.2L703.4,308.5L703.7,308.5L704.0,308.8L704.3,308.8L704.6,308.1L704.9,308.3L705.2,309.0L705.5,308.4L705.8,308.4L706.1,307.8L706.4,308.6L706.7,308.8L707.0,307.4L707.3,308.9L707.6,308.5L707.9,308.1L708.2,308.7L708.5,308.6L708.8,308.0L709.1,307.7L709.4,308.2L709.7,308.8L710.0,308.0L710.3,308.2L710.6,308.4L710.9,308.2L711.2,308.6L711.5,308.5L711.8,307.8L712.1,308.7L712.4,308.8L712.7,308.9L713.0,307.8L713.3,308.1L713.6,308.7L713.9,308.0L714.2,308.3L714.5,309.2L714.8,308.3L715.1,309.6L715.4,307.3L715.7,309.2L716.0,309.0L716.3,308.2L716.6,308.6L716.9,308.1L717.2,308.2L717.5,308.7L717.8,309.5L718.1,308.5L718.4,308.6L718.7,307.8L719.0,308.9L719.3,308.5L719.6,308.0L719.9,308.2L720.2,308.5L720.5,308.6L720.8,307.8L721.1,308.5L721.4,309.0L721.7,308.7L722.0,308.2L722.3,308.5L722.6,309.1L722.9,308.1L723.2,308.1L723.5,308.8L723.8,308.4L724.1,308.3L724.4,308.2L724.7,307.7L725.0,308.5L725.3,308.3L725.6,308.6L725.9,308.1L726.2,307.9L726.5,307.7L726.8,307.9L727.1,308.1L727.4,308.7L727.7,307.6L728.0,308.6L728.3,308.3L728.6,308.7L728.9,307.9L729.2,308.9L729.5,308.4L729.8,308.1L730.1,308.9L730.4,307.3L730.7,308.0L731.0,309.0L731.3,308.2L731.6,307.9L731.9,308.4L732.2,308.4L732.5,308.6L732.8,308.1L733.1,308.7L733.4,307.7L733.7,308.8L734.0,307.9L734.3,308.3L734.6,307.7L734.9,309.2L735.2,308.1L735.5,308.7L735.8,308.2L736.1,308.6L736.4,308.3L736.7,308.7L737.0,309.1L737.3,307.5L737.6,308.1L737.9,308.3L738.2,308.5L738.5,308.9L738.8,309.1L739.1,308.6L739.4,308.0L739.7,308.3L740.0,308.3L740.3,308.7L740.6,308.3L740.9,308.5L741.2,308.8L741.5,307.9L741.8,308.5L742.1,308.4L742.4,308.1L742.7,308.5L743.0,308.1L743.3,307.7L743.6,308.9L743.9,308.4L744.2,307.8L744.5,308.5L744.8,308.0L745.1,308.1L745.4,308.8L745.7,308.5L746.0,308.2L746.3,308.3L746.6,308.0L746.9,309.0L747.2,308.2L747.5,308.8L747.8,308.2L748.1,308.1L748.4,308.5L748.7,308.5L749.0,308.7L749.3,308.5L749.6,308.9L749.9,307.8L750.2,308.1L750.5,308.4L750.8,307.3L751.1,307.9L751.4,308.3L751.7,308.0L752.0,308.3L752.3,308.2L752.6,308.7L752.9,308.2L753.2,308.8L753.5,307.9L753.8,308.6L754.1,307.8L754.4,307.4L754.7,307.3L755.0,307.8L755.3,308.2L755.6,308.9L755.9,308.0L756.2,308.2L756.5,308.1L756.8,308.5" fill="none" stroke="#000" stroke-width="1.2" stroke-linejoin="round" stroke-linecap="butt" />
<path d="M673.6,308.4V302.0M692.8,308.4V304.0M692.9,308.4V302.0M717.1,308.4V298.0M727.3,308.4V295.0" fill="none" stroke="#000" stroke-width="0.75"/>
<line x1="436.40" y1="165.10" x2="757.00" y2="165.10" stroke="#555" stroke-width="1.15" stroke-dasharray="3.7 2.8"/>
<line x1="436.40" y1="170.60" x2="757.00" y2="170.60" stroke="#555" stroke-width="1.15" stroke-dasharray="3.7 2.8"/>
<line x1="436.40" y1="185.40" x2="757.00" y2="185.40" stroke="#555" stroke-width="1.15" stroke-dasharray="3.7 2.8"/>
<line x1="436.40" y1="192.20" x2="757.00" y2="192.20" stroke="#555" stroke-width="1.15" stroke-dasharray="3.7 2.8"/>
<line x1="436.40" y1="207.20" x2="757.00" y2="207.20" stroke="#555" stroke-width="1.15" stroke-dasharray="3.7 2.8"/>
<line x1="436.40" y1="230.10" x2="757.00" y2="230.10" stroke="#555" stroke-width="1.15" stroke-dasharray="3.7 2.8"/>
<line x1="436.40" y1="250.90" x2="757.00" y2="250.90" stroke="#555" stroke-width="1.15" stroke-dasharray="3.7 2.8"/>
<line x1="436.40" y1="255.70" x2="757.00" y2="255.70" stroke="#555" stroke-width="1.15" stroke-dasharray="3.7 2.8"/>
<line x1="436.40" y1="270.30" x2="757.00" y2="270.30" stroke="#555" stroke-width="1.15" stroke-dasharray="3.7 2.8"/>
<line x1="436.40" y1="275.50" x2="757.00" y2="275.50" stroke="#555" stroke-width="1.15" stroke-dasharray="3.7 2.8"/>
<line x1="436.40" y1="294.80" x2="757.00" y2="294.80" stroke="#555" stroke-width="1.15" stroke-dasharray="3.7 2.8"/>
<text x="383.21" y="341.10" font-family="Liberation Sans" font-size="17.83" font-weight="bold" fill="#000" textLength="11.14" lengthAdjust="spacingAndGlyphs">F</text>
<rect x="507.30" y="336.20" width="22.60" height="90.00" fill="#d9d9d9"/>
<line x1="461.40" y1="337.60" x2="461.40" y2="426.50" stroke="#222" stroke-width="0.9" />
<line x1="461.40" y1="426.50" x2="462.80" y2="427.00" stroke="#222" stroke-width="0.8" />
<line x1="462.60" y1="426.90" x2="581.50" y2="426.90" stroke="#222" stroke-width="0.9" />
<line x1="457.50" y1="337.60" x2="461.40" y2="337.60" stroke="#222" stroke-width="0.9" />
<text x="456.40" y="341.55" font-family="Liberation Sans" font-size="6.5" font-weight="normal" font-style="normal" fill="#111" text-anchor="end" textLength="7.80" lengthAdjust="spacingAndGlyphs" stroke="#111" stroke-width="0.18">1.0</text>
<line x1="457.50" y1="355.24" x2="461.40" y2="355.24" stroke="#222" stroke-width="0.9" />
<text x="456.40" y="359.19" font-family="Liberation Sans" font-size="6.5" font-weight="normal" font-style="normal" fill="#111" text-anchor="end" textLength="7.80" lengthAdjust="spacingAndGlyphs" stroke="#111" stroke-width="0.18">0.8</text>
<line x1="457.50" y1="372.88" x2="461.40" y2="372.88" stroke="#222" stroke-width="0.9" />
<text x="456.40" y="376.83" font-family="Liberation Sans" font-size="6.5" font-weight="normal" font-style="normal" fill="#111" text-anchor="end" textLength="7.80" lengthAdjust="spacingAndGlyphs" stroke="#111" stroke-width="0.18">0.6</text>
<line x1="457.50" y1="390.52" x2="461.40" y2="390.52" stroke="#222" stroke-width="0.9" />
<text x="456.40" y="394.47" font-family="Liberation Sans" font-size="6.5" font-weight="normal" font-style="normal" fill="#111" text-anchor="end" textLength="7.80" lengthAdjust="spacingAndGlyphs" stroke="#111" stroke-width="0.18">0.4</text>
<line x1="457.50" y1="408.16" x2="461.40" y2="408.16" stroke="#222" stroke-width="0.9" />
<text x="456.40" y="412.11" font-family="Liberation Sans" font-size="6.5" font-weight="normal" font-style="normal" fill="#111" text-anchor="end" textLength="7.80" lengthAdjust="spacingAndGlyphs" stroke="#111" stroke-width="0.18">0.2</text>
<line x1="457.50" y1="425.80" x2="461.40" y2="425.80" stroke="#222" stroke-width="0.9" />
<text x="456.40" y="429.75" font-family="Liberation Sans" font-size="6.5" font-weight="normal" font-style="normal" fill="#111" text-anchor="end" textLength="7.80" lengthAdjust="spacingAndGlyphs" stroke="#111" stroke-width="0.18">0.0</text>
<line x1="463.60" y1="426.90" x2="463.60" y2="431.10" stroke="#222" stroke-width="0.9" />
<text x="465.50" y="440.80" font-family="Liberation Sans" font-size="6.5" font-weight="normal" font-style="normal" fill="#111" text-anchor="middle" textLength="3.30" lengthAdjust="spacingAndGlyphs" stroke="#111" stroke-width="0.18">0</text>
<line x1="492.98" y1="426.90" x2="492.98" y2="431.10" stroke="#222" stroke-width="0.9" />
<text x="494.88" y="440.80" font-family="Liberation Sans" font-size="6.5" font-weight="normal" font-style="normal" fill="#111" text-anchor="middle" textLength="3.30" lengthAdjust="spacingAndGlyphs" stroke="#111" stroke-width="0.18">5</text>
<line x1="522.36" y1="426.90" x2="522.36" y2="431.10" stroke="#222" stroke-width="0.9" />
<text x="524.26" y="440.80" font-family="Liberation Sans" font-size="6.5" font-weight="normal" font-style="normal" fill="#111" text-anchor="middle" textLength="6.60" lengthAdjust="spacingAndGlyphs" stroke="#111" stroke-width="0.18">10</text>
<line x1="551.74" y1="426.90" x2="551.74" y2="431.10" stroke="#222" stroke-width="0.9" />
<text x="553.64" y="440.80" font-family="Liberation Sans" font-size="6.5" font-weight="normal" font-style="normal" fill="#111" text-anchor="middle" textLength="6.60" lengthAdjust="spacingAndGlyphs" stroke="#111" stroke-width="0.18">15</text>
<line x1="581.12" y1="426.90" x2="581.12" y2="431.10" stroke="#222" stroke-width="0.9" />
<text x="583.02" y="440.80" font-family="Liberation Sans" font-size="6.5" font-weight="normal" font-style="normal" fill="#111" text-anchor="middle" textLength="6.60" lengthAdjust="spacingAndGlyphs" stroke="#111" stroke-width="0.18">20</text>
<text x="0" y="0" transform="translate(441.3,383.6) rotate(-90)" font-family="Liberation Sans" font-size="7.5" font-weight="bold" fill="#222" text-anchor="middle" textLength="6.8" lengthAdjust="spacingAndGlyphs">Po</text>
<text x="511.62" y="451.90" font-family="Liberation Sans" font-size="8.55" font-weight="bold" fill="#000" textLength="29.94" lengthAdjust="spacingAndGlyphs">Time (s)</text>
<path d="M463.6,425.9L510.3,425.9L510.3,389.0L516.3,389.0L516.3,345.1L522.6,345.1L522.6,339.5L524.0,339.5L524.0,337.9L528.7,337.9L528.7,337.2L539.4,337.2L540.5,338.4L545.0,338.4L546.0,337.2L557.5,337.2L558.5,338.4L562.3,338.4L563.3,337.2L581.4,337.2" fill="none" stroke="#000" stroke-width="1.9" stroke-linejoin="round" stroke-linecap="butt" />
<text x="587.63" y="341.10" font-family="Liberation Sans" font-size="17.57" font-weight="bold" fill="#000" textLength="14.98" lengthAdjust="spacingAndGlyphs">G</text>
<rect x="631.50" y="337.60" width="20.70" height="90.00" fill="#d9d9d9"/>
<rect x="682.10" y="337.60" width="61.80" height="90.00" fill="#d9d9d9"/>
<line x1="619.40" y1="337.90" x2="619.40" y2="427.60" stroke="#222" stroke-width="0.9" />
<line x1="619.40" y1="427.60" x2="620.80" y2="428.00" stroke="#222" stroke-width="0.8" />
<line x1="620.60" y1="428.00" x2="757.70" y2="428.00" stroke="#222" stroke-width="0.9" />
<line x1="615.80" y1="337.90" x2="619.40" y2="337.90" stroke="#222" stroke-width="0.9" />
<text x="614.60" y="341.85" font-family="Liberation Sans" font-size="6.5" font-weight="normal" font-style="normal" fill="#111" text-anchor="end" textLength="7.80" lengthAdjust="spacingAndGlyphs" stroke="#111" stroke-width="0.18">1.0</text>
<line x1="615.80" y1="355.72" x2="619.40" y2="355.72" stroke="#222" stroke-width="0.9" />
<text x="614.60" y="359.67" font-family="Liberation Sans" font-size="6.5" font-weight="normal" font-style="normal" fill="#111" text-anchor="end" textLength="7.80" lengthAdjust="spacingAndGlyphs" stroke="#111" stroke-width="0.18">0.8</text>
<line x1="615.80" y1="373.54" x2="619.40" y2="373.54" stroke="#222" stroke-width="0.9" />
<text x="614.60" y="377.49" font-family="Liberation Sans" font-size="6.5" font-weight="normal" font-style="normal" fill="#111" text-anchor="end" textLength="7.80" lengthAdjust="spacingAndGlyphs" stroke="#111" stroke-width="0.18">0.6</text>
<line x1="615.80" y1="391.36" x2="619.40" y2="391.36" stroke="#222" stroke-width="0.9" />
<text x="614.60" y="395.31" font-family="Liberation Sans" font-size="6.5" font-weight="normal" font-style="normal" fill="#111" text-anchor="end" textLength="7.80" lengthAdjust="spacingAndGlyphs" stroke="#111" stroke-width="0.18">0.4</text>
<line x1="615.80" y1="409.18" x2="619.40" y2="409.18" stroke="#222" stroke-width="0.9" />
<text x="614.60" y="413.13" font-family="Liberation Sans" font-size="6.5" font-weight="normal" font-style="normal" fill="#111" text-anchor="end" textLength="7.80" lengthAdjust="spacingAndGlyphs" stroke="#111" stroke-width="0.18">0.2</text>
<line x1="615.80" y1="427.00" x2="619.40" y2="427.00" stroke="#222" stroke-width="0.9" />
<text x="614.60" y="430.95" font-family="Liberation Sans" font-size="6.5" font-weight="normal" font-style="normal" fill="#111" text-anchor="end" textLength="7.80" lengthAdjust="spacingAndGlyphs" stroke="#111" stroke-width="0.18">0.0</text>
<line x1="621.40" y1="428.00" x2="621.40" y2="432.20" stroke="#222" stroke-width="0.9" />
<text x="623.30" y="442.90" font-family="Liberation Sans" font-size="6.5" font-weight="normal" font-style="normal" fill="#111" text-anchor="middle" textLength="3.30" lengthAdjust="spacingAndGlyphs" stroke="#111" stroke-width="0.18">0</text>
<line x1="650.15" y1="428.00" x2="650.15" y2="432.20" stroke="#222" stroke-width="0.9" />
<text x="652.05" y="442.90" font-family="Liberation Sans" font-size="6.5" font-weight="normal" font-style="normal" fill="#111" text-anchor="middle" textLength="6.60" lengthAdjust="spacingAndGlyphs" stroke="#111" stroke-width="0.18">20</text>
<line x1="678.90" y1="428.00" x2="678.90" y2="432.20" stroke="#222" stroke-width="0.9" />
<text x="680.80" y="442.90" font-family="Liberation Sans" font-size="6.5" font-weight="normal" font-style="normal" fill="#111" text-anchor="middle" textLength="6.60" lengthAdjust="spacingAndGlyphs" stroke="#111" stroke-width="0.18">40</text>
<line x1="707.65" y1="428.00" x2="707.65" y2="432.20" stroke="#222" stroke-width="0.9" />
<text x="709.55" y="442.90" font-family="Liberation Sans" font-size="6.5" font-weight="normal" font-style="normal" fill="#111" text-anchor="middle" textLength="6.60" lengthAdjust="spacingAndGlyphs" stroke="#111" stroke-width="0.18">60</text>
<line x1="736.40" y1="428.00" x2="736.40" y2="432.20" stroke="#222" stroke-width="0.9" />
<text x="738.30" y="442.90" font-family="Liberation Sans" font-size="6.5" font-weight="normal" font-style="normal" fill="#111" text-anchor="middle" textLength="6.60" lengthAdjust="spacingAndGlyphs" stroke="#111" stroke-width="0.18">80</text>
<text x="0" y="0" transform="translate(598.6,384.6) rotate(-90)" font-family="Liberation Sans" font-size="7.5" font-weight="bold" fill="#222" text-anchor="middle" textLength="6.8" lengthAdjust="spacingAndGlyphs">Po</text>
<text x="670.73" y="452.20" font-family="Liberation Sans" font-size="9.13" font-weight="bold" fill="#000" textLength="28.42" lengthAdjust="spacingAndGlyphs">Time (s)</text>
<path d="M621.4,425.6L628.8,425.6L628.8,427.1L635.5,427.1L635.5,384.3L643.3,384.3L643.3,342.5L649.4,342.5L649.4,341.1L650.3,341.1L650.3,338.5L657.0,338.5L657.0,346.7L664.3,346.7L664.3,339.3L671.4,339.3L671.4,337.9L678.8,337.9L678.8,338.5L686.0,338.5L686.0,344.6L692.5,344.6L692.5,346.0L700.2,346.0L700.2,370.7L707.6,370.7L707.6,426.8L714.4,426.8L714.4,408.4L721.8,408.4L721.8,403.8L729.5,403.8L729.5,418.0L736.4,418.0L736.4,421.6L743.7,421.6L743.7,426.8L757.7,426.8" fill="none" stroke="#000" stroke-width="1.9" stroke-linejoin="round" stroke-linecap="butt" />
</svg></body></html>
